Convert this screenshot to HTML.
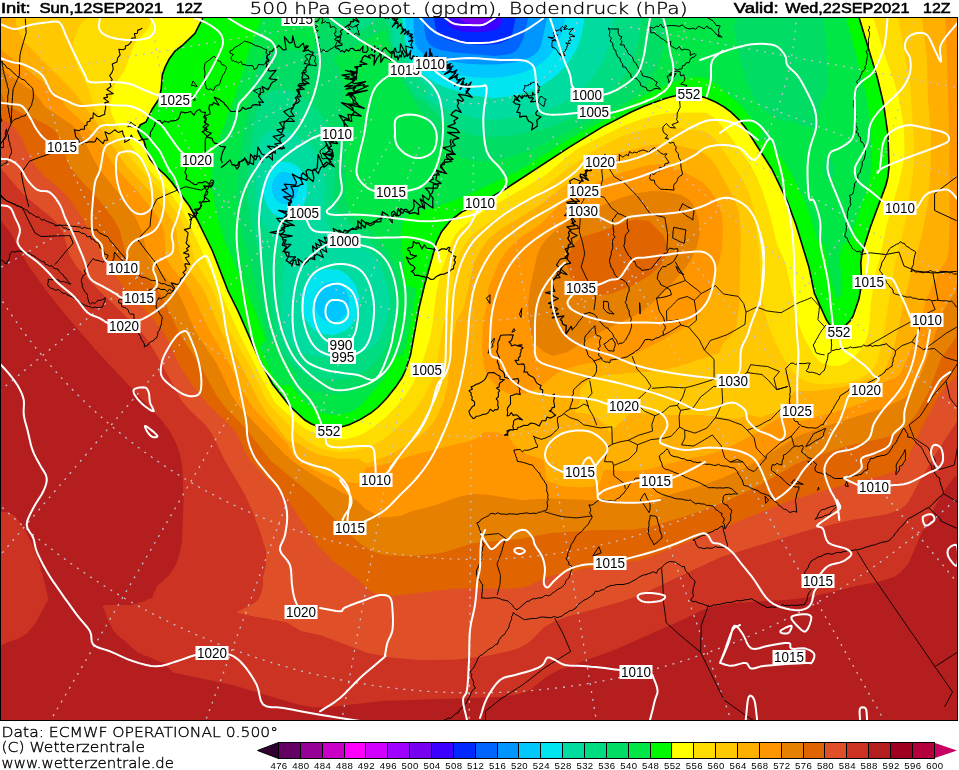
<!DOCTYPE html>
<html><head><meta charset="utf-8"><title>Wetterzentrale ECMWF 500 hPa</title>
<style>
html,body{margin:0;padding:0;background:#fff;}
body{width:959px;height:770px;overflow:hidden;}
svg{display:block;}
.hb{font-family:"Liberation Sans",Arial,sans-serif;font-weight:normal;font-size:14px;stroke:#000;stroke-width:0.55px;}
.ht{font-family:"DejaVu Sans",sans-serif;font-weight:200;font-size:16px;}
.ft{font-family:"DejaVu Sans",sans-serif;font-weight:200;font-size:14.5px;stroke:#000;stroke-width:0.35px;}
.ht{stroke:#000;stroke-width:0.3px;}
.lb{font-family:"Liberation Sans",Arial,sans-serif;font-size:12px;}
</style></head>
<body>
<svg width="959" height="770" viewBox="0 0 959 770" shape-rendering="geometricPrecision">
<rect width="959" height="770" fill="#fff"/>
<text class="hb" x="1" y="12.7" textLength="29.6" lengthAdjust="spacingAndGlyphs">Init:</text>
<text class="hb" x="39.4" y="12.7" textLength="123.6" lengthAdjust="spacingAndGlyphs">Sun,12SEP2021</text>
<text class="hb" x="176" y="12.7" textLength="26.5" lengthAdjust="spacingAndGlyphs">12Z</text>
<text class="ht" x="249.5" y="13.7" textLength="438" lengthAdjust="spacingAndGlyphs">500 hPa Geopot. (gpdm), Bodendruck (hPa)</text>
<text class="hb" x="733.7" y="12.7" textLength="44.9" lengthAdjust="spacingAndGlyphs">Valid:</text>
<text class="hb" x="785.3" y="12.7" textLength="124.1" lengthAdjust="spacingAndGlyphs">Wed,22SEP2021</text>
<text class="hb" x="923" y="12.7" textLength="27.5" lengthAdjust="spacingAndGlyphs">12Z</text>
<defs><clipPath id="mc"><rect x="1" y="18" width="956" height="702"/></clipPath></defs>
<g clip-path="url(#mc)">
<rect x="0" y="18" width="959" height="702" fill="#7800f0"/>
<path fill="#3c00ff" d="M1 18 459.5 18 461 20.3 465.1 23 475 24.4 484.9 23 489 20.3 490.5 18 959 18 959 720 0 720 0 18.0Z"/>
<path fill="#0028ff" d="M1 18 445.8 18 448.8 25 453.8 29 463 31.5 475 32.3 487 31.6 496.5 29 500.5 25 502.1 18 959 18 959 720 0 720 0 18.0Z"/>
<path fill="#0064ff" d="M1 18 434.1 18 435.1 26 436.9 32 440 35.8 443.5 38 451 40.9 462 43.4 485 45.1 499 43.7 508 39.7 511 36 512.7 32 515.4 18 959 18 959 720 0 720 0 18.0Z"/>
<path fill="#0096ff" d="M1 18 423.8 18 424.6 31 426.3 39 429.4 44 434 47.4 441 50.1 453 52.3 495 55.9 510 54 515 51.6 518.7 48 523.5 38 528.2 18 959 18 959 720 0 720 0 18.0Z"/>
<path fill="#00c8ff" d="M1 18 413.5 18 413.8 34 415.1 43 418 49.3 423 53.8 433 58 445 60.5 467 63.7 486 64.7 500 64.2 514 62.4 526 59.3 534.4 55 538.2 51 541 45.3 547.1 18 959 18 959 720 0 720 0 18.0Z"/>
<path fill="#00e6f0" d="M1 18 404.8 18 407.5 39 411 51.3 415 57.3 421 62.7 431 68.4 441 71.7 470 76.7 488 78.3 505 76.8 520 73.5 531 69.6 541 63.7 549.2 56 556.7 45 561.6 34 565.4 18 959 18 959 720 0 720 0 18.0ZM282.5 172 278 174.2 274 178.9 272 184.5 271.9 191 273.9 197 277 201.2 281.9 204 287 204.3 292 202 296 197.3 298 191.7 298.2 186 296.1 179 293 175 288 172.2 283 171.9ZM328.8 282 322.5 285 317.9 290 315 297.5 314.9 306 317.9 314 322.5 319 328.8 322 335 322 341.4 319 346 313.8 348.9 306 349 298.4 346 290.2 341.4 285 335 282 329 282.0Z"/>
<path fill="#00dca0" d="M1 18 402.4 18 405 38.8 407.5 49 407.9 57 414 65.7 422 73.7 436 83.4 448 88.3 474 95.8 493 98 510 96.4 528 91.7 542 85.4 557 75 568 63 576.7 49 581.3 36 584.2 18 959 18 959 720 0 720 0 18.0ZM280.5 162 273 166.1 266.7 174 263.4 185 263.7 196 267 206 273 213.5 281 217.7 290 217.6 298 213.1 303.4 206 306.8 196 306.9 184 303.6 174 298 166.7 290 162.2 281 161.8ZM325.5 269 320 270.5 315 273.3 306.6 282 301.6 294 300.8 301 301.3 308 305.4 320 313 329.1 318 332.4 324 334.6 335 334.8 345 330.7 349.6 327 353.7 322 356.5 317 358.7 310 359.3 297 355.5 285 348 275.5 342 271.4 337 269.5 326 268.9Z"/>
<path fill="#00dc82" d="M1 18 389.6 18 390.3 22 392.5 24 391.4 28 393.7 31 394.3 35 392 40 397 55.8 398 56.7 405.1 55 414 71.3 428 89 427 97 428 99.3 438.9 106 456 112.6 476 118.2 492 119.9 518 117.3 543 111.8 561.9 104 580.5 92 592 79.1 604.4 59 609.5 44 613.9 18 959 18 959 720 0 720 0 18.0ZM272 130 268 131.6 263.8 135 259 142.5 255.8 167 255.6 191 258 208.6 262 221.6 280 248.3 283 251 284.1 267 280.4 301 282 320.1 285 333.3 288 340.2 292.2 346 297.1 350 305.7 354 316 356.5 329 357.9 342 357.4 353 355.6 364.1 352 373.3 346 380 337.3 385 326 388.3 312 389.2 298 387 285.8 382 270.6 377 259.7 371 252.4 365 249 342 241.4 336 236.6 329.9 229 325.9 219 324.2 211 325 185 323 169.9 320 159.3 315 150.3 306 141.5 292 132.7 282 129.3 273 129.8ZM397 18 400.5 18 405 50.6 404 50.6 403 48.7 401 42.6 396.7 18.0Z"/>
<path fill="#00dc64" d="M1 18 352.8 18 349.6 30 351 31.8 356 33 364 29.1 379.2 18 383.8 18 384 19.5 387.1 20 385.2 23 389.8 25 388.7 29 390 31 389.7 34 390.9 36 390.1 39 390.6 42 399 67 407 83.3 413.3 93 419 99.7 424.3 101 440 117.3 449 124.3 457 129.2 473 135.3 491 137.1 517 134.8 547 127.9 562.5 122 579.5 114 590.7 108 601 101 610.2 93 618.5 84 624.9 75 630.5 65 638.2 44 641.3 18 959 18 959 720 0 720 0 18.0ZM278.2 89 269 92.2 264 95.4 260 100 258 105.2 254.3 120 251.3 139 248.4 164 247.5 184 248.2 203 250.5 220 256 243 265.2 275 275.8 334 280 346 286 356.7 293 364.5 303 372.7 313 377.1 324 379.4 335 379.8 347 378.2 360.4 374 370 368.1 380.5 357 387 345.3 392 331.6 395 314.9 395.5 301 393.8 284 388.3 267 381.3 254 373 244.7 342 216.2 337.9 211 335.5 206 333.8 197 335.1 168 334.1 154 330.1 133 324.8 120 315.9 108 302 95.7 290 90.3 279 88.8Z"/>
<path fill="#00e646" d="M1 18 322.4 18 313.5 49 312.2 51 285 49.6 274 50.4 268.7 52 264.1 55 259 61.5 255 74.3 241.3 144 238.2 172 238 201 239.2 218 241.5 232 250.4 263 264 322 270 341.4 274.3 343 284 359.6 295.8 374 294.9 382 296 384 304 388.2 316 391.9 334 394 350.8 392 362.7 387 377.8 376 387 364.8 390 358.8 388.3 352 391 346.4 396.4 322 398 306 397.9 291 401.7 287 397 269 386 248.6 375 234.7 352.7 215 349 209.8 346.6 204 345.3 193 346.2 129 345.3 105 341.7 74 340 69.2 333.4 59 337 56.1 385 29.2 386.6 32 388.5 43 392.4 57 401.2 79 415.4 104 436.6 135 448.1 148 454 153.4 459 156.2 470 160.3 487 161.6 507.6 158 531.4 150 618.4 107 634.2 97 641.1 91 649 82 658 65.9 662.7 52 667.2 18 738 18 735 22.3 733.6 27 740 57.9 747 82.6 752 94.2 756 100.9 764 110 776 119 781 120.4 792 121 803 126 811 127 812 128 817 128 820 134 820 131 818 127 818 114 819 113 821 102 826 92.6 827.1 86 827 57.5 823.5 18 959 18 959 720 0 720 0 18.0ZM821 135 821 136 821 135.0ZM822 138 822 139 822 138.0ZM827 155 827 158 824 162 824 173 827 180 829 181 831 180 833 176 834 166 832 163 832 161 827 155.0ZM809 112 810 113 809 114 808 113.0ZM804 114 805 114 804 115 803 114.0ZM807 113 808 114 807 115 806 114.0ZM816 114 817 115 816 116 815 115.0ZM814 115 815 116 814 117 813 116.0ZM796 119 797 120 796 121 795 120.0Z"/>
<path fill="#00fa00" d="M1 18 261.3 18 248.5 52 235 96.1 214.5 150 211.4 174 211.6 186 213.3 199 219.5 225 225.4 244 249 295.8 265 337.7 265.2 341 260.5 345 259.6 347 272 374.1 279.3 385 282 385.7 290 385 303 400.2 314 409.6 323 413.7 335 415.1 349 412.7 355 410 360.5 406 382.3 381 390.6 367 395 356.5 403.4 355 404 354 403.4 352 406 349.4 416.4 290 414.4 288 406.3 285 404.9 283 400.8 236 403 222.3 405 218 415.8 212 435 207.4 468 194.9 511 174.6 526 166.5 562.2 143 607 118.6 651 92.2 671 83 687 78.2 696 76.9 704 77.7 713 81.9 722 88.4 741 105.9 760.3 129 762 132 759.2 138 760 140.9 768 140.3 779.4 155 791.3 174 801 193.8 809.6 214 817 238.9 825 246 825 250 826 251 826 255 827 256 827 262 828 263 828 269 829 270 829 275 830 276 831 283 832 284 835 295 838 300 841 295 841 291 842 290 842 277 841 276 841 269 840 268 840 254 841 253 841 248 842 246 849 240.4 851 236.3 868.6 184 870.9 173 871.9 160 871.1 131 867 99.4 862 76.2 846.2 18 959 18 959 720 0 720 0 18.0Z"/>
<path fill="#ffff00" d="M1 18 202.8 18 195 33.3 183 44.8 175 51 169.2 59 162.3 75 161.2 89 159 98.9 152.3 109 146 122 140 125 138 128 138 131 144 141 146.3 150 150 159.1 156 166.5 171.5 182 189.4 206 197.3 220 212.5 251 228 291 238.4 312 258.5 358 272.4 384 289.7 406 304.8 420 316.8 426 331 427.5 341 426.9 349 424.8 360 419.6 371 412.9 378.3 407 386.9 398 402 377.5 406 369 410.5 355 419 308.2 436.2 243 441.4 232 451 220 461.6 212 486.5 200 505.4 189 569 147.4 602 127.1 644.6 106 665 98.4 680 94.5 687 94 698 95.6 707 98.3 717 102.7 732 113 746 128.4 772.9 171 788 203 796 224.7 809 267.5 814.3 293 825.4 318 829 324 833 326.9 839 328.2 844 326.3 848.1 323 852 318 857.8 303 861.7 285 860.8 263 862 253.5 870.4 227 886 184.9 889 168 888 135 883.6 104 877.4 78 859.2 18 959 18 959 720 0 720 0 18.0Z"/>
<path fill="#ffdc00" d="M1 18 152.6 18 148 29 134.3 44 125 69.7 114 86.1 110.3 105 110.9 111 112.9 117 117 124.7 142.3 161 151 171.7 170 192.2 182.6 211 194.7 235 240.4 336 266 386.3 275.6 403 296 421.7 305 428.5 323 437.4 337 440 347 439 357 436.2 366 431.9 375 426 386 416.9 396.7 406 405.7 395 412.9 384 420.8 367 430 338 432.4 325 435.9 295 440.7 273 452.3 240 455.1 235 460.1 229 479.7 214 546 174.7 571 153.5 580.5 147 622 126.3 643 118.5 661 113.9 676 112.7 702 112.6 708 113.5 716 118.9 730.7 137 750 164 756.8 177 762.5 191 770.4 216 777 244.4 783.4 258 786 265.9 794 301 796.7 319 804 338 814 355.2 818 359.9 822.2 363 829 365.5 836 366.1 842 365 847.8 362 854.9 356 861 349 865 342.5 867.7 335 869.4 324 871.1 301 876 270.5 879.9 258 885.9 228 898.8 183 903 164.4 904.6 152 903.9 128 899 99.1 894.3 82 883 50.3 873.5 18 959 18 959 720 0 720 0 18.0Z"/>
<path fill="#ffc800" d="M1 18 86.4 18 80.1 25 75.2 35 73 43.8 73 54 74.1 59 89.9 92 94 106.9 99 115 133.1 161 164 195.1 180 217.4 186.9 232 195 260 212.3 289 229 330.8 250 365.7 265.8 399 275 411 299 434.9 306.9 441 315.4 446 322.8 449 332 451.1 343 452 351 451.5 362 449.3 374 444.5 383 439.4 396 429.3 408.2 418 415.9 409 423.3 398 431.2 382 435.9 367 443.1 325 449.8 306 454.5 272 457 261 463 247.1 471.1 236 479.4 229 493 220 537 194 566 169.5 593.3 151 609.5 142 622.7 136 637.6 131 651 128.1 661 127.1 671 127.5 702 130.8 707 132.4 713 136.9 719 143.9 742 178.6 749.9 195 754.2 212 758.7 247 761.3 294 766 317.5 770.3 331 777.4 347 784.7 360 794 373.3 801.4 379 808.3 382 815 383.4 829 384.2 850.3 382 858.9 379 869.1 373 873 368.9 877 361.4 882 343.6 895 263.5 904.8 225 911.4 184 913.7 164 914.1 144 910.3 86 898.1 18 959 18 959 720 0 720 0 18.0Z"/>
<path fill="#ffaf00" d="M1 18 15.5 18 16.2 25 18 30.8 24.5 42 74.9 93 101 128.9 126.2 166 153.1 195 168.7 215 173 222.2 176.2 230 179.8 253 182.5 261 204 290.5 221.4 332 241 365.3 258.9 401 266.5 413 285 436.9 289 441.1 298 443 309 450.2 319 454.7 338 458.5 359 458.8 364.5 463 367 463.6 389.6 455 413.6 441 427.8 429 433.5 422 438.4 414 443.7 401 447.6 385 451 346.7 456 321.6 463.5 309 474 262.9 481 249.2 488.5 239 499.3 230 538 206.5 582.9 171 599 160 613.5 154 651 145.1 663 144.1 676 145.2 696.6 150 704 153.3 710 158.4 717 167.5 734 198 739 212.4 740.8 233 739.3 306 736.6 325 732.5 334 722.7 344 719 352.8 717 354 715 354 708 357 705 357 702 359 700 359 687 364 684 364 677 367 670 368 669 369 659 370 658 371 651 371 650 372 638 372 637 373 625 373 624 374 604 375 603 376 595 377 589 380 583 385 580 390 580 401 575 411 575 413 585 413 586 414 589 414 594 417 596 417 606 426 609 431 609 433 631 413 642 413 643 414 654 414 655 415 704 415 705 416 715 416 716 417 723 417 724 418 731 418 732 419 740 418 741 417 744 417 749 415 761 417.2 783 409.5 793 393.3 795 391.8 799 390.9 814 390.9 839 387.8 855 384.3 871 378.5 877 379.2 879 378.6 887.5 365 894.6 345 906 292.5 922.4 233 928.6 200 930.6 164 931 134 928.1 100 926.9 57 922.1 18 959 18 959 720 0 720 0 18.0Z"/>
<path fill="#ff9600" d="M946 18 959 18 959 720 0 720 0 49.1 47 85.3 59 97 67.3 108 85.6 125 94 135.5 114.8 167 139 193 154 211.4 160 220.6 163 227.3 164.3 234 165.2 253 167.1 260 172 268 185.8 284 190.6 291 209.4 330 229.9 365 245.5 397 255 410 288.4 445 289 449.6 291 450.5 292.4 454 300.7 461 314 469.7 326 475.6 346 481.8 357 483.5 359 481.7 366 467.7 383 464.7 417.1 454 471 440.7 477.6 438 484 432.2 494 432 495 433 500 433 501 434 507 434 513.6 444 521 451 528 454.5 543 459.6 544.3 463 546.4 479 548 481.6 562 486.3 581 487.5 592 486.6 599 484.7 603 472.3 605 469.6 627 471.3 646 469.9 681 460.6 706.7 455 720 450.9 734 444.8 753 434.6 785 413.8 787 413.8 794 420.9 797 421.9 837 411.4 862 403.2 881 395.4 882 393.4 883 382.4 896 377.4 900.2 374 907.6 358 915.6 337 926.8 298 940 270 946.4 260 948.5 252 949.5 232 949.4 149 947.3 63 945.1 18.0ZM649 164.9 659 164.2 669.1 166 681 170.5 695 177.7 703 183.1 709 189 715 197.5 719.1 206 721.8 215 723 225 722 249 720 257.9 712.3 279 707 300.4 704 308 697 317.1 681.2 329 662.7 340 637.1 353 621.1 359 582 364.3 568.9 368 556 374 541 386.5 526 393.5 512 394 512 395 498 388 487 375.8 484 367 481.9 348 482.8 325 486.9 303 488.3 288 498.1 264 505.7 252 515 242 521.1 237 540 224.8 560 204.5 569.9 197 587.8 187 609.5 177 623.6 172 648.7 165.0Z"/>
<path fill="#e68000" d="M0.8 68 11 76.3 32.3 91 37 95.5 45.1 107 72.1 125 81 134.7 98.4 168 120.8 196 135.2 217 141.8 231 146.1 250 149.6 259 154.4 266 171.2 283 177 290.5 182 300.2 195 331 217.1 364 231.4 395 240.4 408 285 454.4 297 464.6 323 481.4 357 500.8 365 508.4 372 512.8 380 516.7 384 517.3 400 516 411 511.6 436 504.9 460 496.6 474 494 488 494.8 521 499.9 551 498.5 606 500.4 633 502.3 653 499.6 699.9 486 720 478.9 740 470.2 759 460.4 798 436 819.4 428 885 407.7 904 398.3 911.4 391 920 375.9 926 360.8 942.7 312 947 304.2 956 291.4 956.8 278 959 109.2 959 720 0 720 0 67.6ZM652 190.9 666 191.6 681 195 689 199.5 694 206 698.8 220 699.7 234 697 246.4 690.4 261 682.5 272 666.7 289 653 302.6 643 310.8 635 315.5 602.1 331 567 352.2 553 356 544 351.9 535 344.2 531.4 334 528.5 318 528.2 302 530.5 285 537.1 256 540.9 246 547.2 238 557.2 229 569 220.6 578 215.5 621 197.7 637 193.3 651.1 191.0Z"/>
<path fill="#e06400" d="M0.8 92 5 102.3 10 107.5 47.2 125 54 130 57.5 134 61.2 141 66.8 160 70.1 167 77.9 177 96 196.2 114 219.5 119.9 231 124.8 250 129.1 260 133.7 266 152.6 284 158.3 291 165 302.8 178.7 332 200 365.2 216.2 395 224.1 406 247 430 270.1 460 309.6 493 344 529.1 359 542.4 366.6 548 374 551.9 385 554.9 407 556.2 435 554 445.3 552 474 543 519 539.2 551 533 599 530.1 632 529.8 648 527.5 694 513.5 726 501.4 760 485.1 793 465.6 810.3 458 850 445.2 885 437.7 895.4 434 900.9 431 907 426.1 918 411.8 928 393.1 940.9 359 956 337 957.9 314 959 274.8 959 720 0 720 0 91.0ZM632 219.9 636 219.3 649 221 663 235 667 246 667.5 252 661.2 265 650.1 275 633.8 285 610 294.2 597 295 570 277 570 274 566.9 265 568.7 254 575 243.1 581.7 237 604 230.2 631.6 220.0Z"/>
<path fill="#e05028" d="M0.5 119 10 124 16.5 130 21.2 138 31.7 160 36.2 167 45 176.5 63 192.1 72 202.4 85.3 223 102.6 256 114.6 275 126.1 290 152 317.8 163 331.3 169 342 178.1 363 191.6 384 206.7 403 234.4 430 239 437.6 245.5 453 249.9 460 287.6 500 317.6 545 333 560.9 357.9 579 367 588.8 373 592.8 381 595.7 388 596.2 398 595.4 455 588.4 508 588.7 520 587.9 529 585.8 544.5 578 557 574.3 600 566.1 639 560.2 660 553.1 793 499.4 850 483 884 475.2 892.6 472 901 466.6 907 459.7 920 430.9 937 398.8 944 388.6 956 376.8 957.4 370 959 349.9 959 720 0 720 0 118.8Z"/>
<path fill="#cc3322" d="M0.4 168 24.9 196 49.6 216 56.9 223 63 232.4 69.5 255 76 266 99.5 291 134 324.2 146 338.1 156 353.6 181.1 400 187.7 408 206 425.8 212 433.7 224.6 460 244 492.9 252 510.2 261 534.3 266 551.3 266.2 560 265.6 567 263.1 577 263 587 262 588 262 591 259 599 253 604 237 612 238 613 244 614 245 615 249 615 250 616 254 616 255 617 260 617 261 618 266 618 267 619 271 619 272 620 277 620 278 621 286 622 300.8 631 320 635.1 368 653 391 657.5 419 659.9 454 659.7 481.2 657 510 651.1 519 648 526.7 644 532 639.7 544 627.2 554 621.4 566 617.1 619 602.3 639 595.5 720.9 557 808.8 530 851 520.1 886 514.6 899 510.1 904.9 506 909 501 920 480.1 940 447.1 956 422.9 959 415.7 959 720 0 720 0 167.7Z"/>
<path fill="#b41e1e" d="M1 220.8 11 233.6 28.6 266 46.5 291 67.3 317 96.6 351 162 420.7 170 431.6 177 445.3 180 454.5 182.3 467 183.5 501 181.9 542 180 552.6 176 564.7 169.3 575 157.2 586 153.3 594 153 597 150 599 148 599 143 602 141 602 137 604 133 604 132 605 105 605 104 606 102 606 105 611 107 618 113 630 118 636 125 641 138 653 140 653 145 656 147 656 160 662 165 663 166.3 666 173 672.5 232.5 685 295 703.7 313 707.6 330 707 382.1 701 500 696.9 519 694.3 531 689.5 546 677.1 558.8 670 613 650.4 685 618.7 700.4 611 711.3 607 734.9 603 788 599.8 809 597.3 856.8 586 880 581.4 895 576.4 901 572.1 908.7 563 920 536.6 937 503 946 488 956 475 959 506 959 720 0 720 0 646 8 642 18 639 28 633 28 632 35 624 48 600 47 592 46 591 45 583 44 582 43 575 41 571 40 564 39 563 37 555 35 552 35 550 25 530 15 516 7 512 0 512 0 220.3Z"/>
<path d="M202.8 18.0 195.0 33.3 183.0 44.8 175.0 51.0 169.2 59.0 165.0 67.4 162.3 75.0 161.2 89.0 159.0 98.9 152.3 109.0 146.0 122.0 140.0 125.0 140.0 126.0 138.0 128.0 138.0 131.0 141.0 137.0 144.0 141.0 146.3 150.0 150.0 159.1 156.0 166.5 166.0 175.7 171.5 182.0 189.4 206.0 197.3 220.0 212.5 251.0 228.0 291.0 238.4 312.0 258.5 358.0 272.4 384.0 289.7 406.0 304.8 420.0 311.5 424.0 316.8 426.0 331.0 427.5 341.0 426.9 349.0 424.8 360.0 419.6 371.0 412.9 378.3 407.0 386.9 398.0 396.0 386.6 402.0 377.5 406.0 369.0 410.5 355.0 419.0 308.2 424.3 286.0 436.2 243.0 441.4 232.0 451.0 220.0 461.6 212.0 486.5 200.0 505.4 189.0 569.0 147.4 602.0 127.1 631.2 112.0 644.6 106.0 665.0 98.4 680.0 94.5 687.0 94.0 698.0 95.6 707.0 98.3 716.0 102.2 724.0 106.8 731.0 112.1 738.2 119.0 745.0 127.0 772.0 169.5 787.0 200.7 796.0 224.7 809.0 267.5 814.3 293.0 826.5 320.0 830.0 325.1 835.0 327.7 840.0 328.1 846.0 324.9 850.0 320.9 853.1 316.0 858.9 299.0 861.7 284.0 860.8 263.0 862.0 253.5 870.4 227.0 886.0 184.9 887.9 177.0 889.0 167.0 888.0 135.0 883.4 103.0 877.4 78.0 859.2 18.0" fill="none" stroke="#000" stroke-width="1.6"/>
<g fill="none" stroke="#c4c0cc" stroke-width="1.3" stroke-dasharray="2 6"><circle cx="474.6" cy="-1.5" r="694.4"/><circle cx="474.6" cy="-1.5" r="560.9"/><circle cx="474.6" cy="-1.5" r="437.8"/><circle cx="474.6" cy="-1.5" r="322.3"/><circle cx="474.6" cy="-1.5" r="212.1"/><circle cx="474.6" cy="-1.5" r="105.2"/><path d="M448.3 -157.6L241.8 -1382.0M421.6 -150.7L5.7 -1320.6M396.5 -139.2L-216.3 -1219.2M373.7 -123.6L-417.2 -1080.7M354.1 -104.2L-591.1 -909.4M338.1 -81.7L-732.5 -710.6M326.2 -56.8L-837.3 -490.2M318.9 -30.2L-902.3 -254.9M316.3 -2.7L-925.4 -12.0M318.5 24.8L-905.9 231.3M325.4 51.5L-844.5 467.4M336.9 76.6L-743.1 689.4M352.5 99.4L-604.6 890.3M371.9 119.0L-433.3 1064.2M394.4 135.0L-234.5 1205.6M419.3 146.9L-14.1 1310.4M445.9 154.2L221.2 1375.4M473.4 156.8L464.1 1398.5M500.9 154.6L707.4 1379.0M527.6 147.7L943.5 1317.6M552.7 136.2L1165.5 1216.2M575.5 120.6L1366.4 1077.7M595.1 101.2L1540.3 906.4M611.1 78.7L1681.7 707.6M623.0 53.8L1786.5 487.2M630.3 27.2L1851.5 251.9M632.9 -0.3L1874.6 9.0M630.7 -27.8L1855.1 -234.3M623.8 -54.5L1793.7 -470.4M612.3 -79.6L1692.3 -692.4M596.7 -102.4L1553.8 -893.3M577.3 -122.0L1382.5 -1067.2M554.8 -138.0L1183.7 -1208.6M529.9 -149.9L963.3 -1313.4M503.3 -157.2L728.0 -1378.4M475.8 -159.8L485.1 -1401.5"/></g>
<path d="M291.6 266.6 293.6 260.7 295.7 259.8 296.3 264.5 299.4 265.2 297.8 258.7 303.0 262.7 305.5 262.4 305.3 259.2 307.9 257.7 314.9 259.6 314.2 255.5 313.2 250.8 312.6 246.0 318.0 250.6 315.6 243.2 319.7 245.7 321.7 245.1 318.6 239.7 327.3 244.1 324.2 237.2 330.5 239.3 332.7 237.8 334.1 236.4 335.1 234.3 333.2 228.5 339.5 231.9 342.1 234.7 344.5 230.1 347.5 231.3 350.2 229.8 352.8 228.1 355.6 229.7 358.2 228.5 357.7 220.8 364.9 227.8 366.1 222.3 370.7 223.7 373.6 221.8 376.4 220.5 378.9 218.8 382.0 218.3 382.4 211.9 387.2 214.7 390.0 218.7 392.2 217.6 394.0 213.9 396.7 215.9 398.2 208.7 400.7 212.6 402.9 213.0 404.7 209.4 406.8 209.4 409.6 213.7 411.9 213.0 414.7 212.7 418.7 214.4 418.3 208.1 420.5 206.8 423.3 206.4 420.1 199.1 432.9 208.0 432.7 200.9 433.1 198.2 430.2 194.8 432.4 192.6 433.1 190.0 433.2 187.2 433.4 184.5 441.0 183.4 435.7 179.8 436.5 177.0 436.9 174.1 438.2 171.6 445.2 172.9 440.7 165.3 443.5 162.5 451.7 161.4 446.4 156.9 446.9 154.3 453.7 153.5 451.8 150.1 450.9 147.0 455.1 145.4 452.4 141.9 453.7 139.5 458.9 138.1 447.5 132.3 459.4 132.7 456.2 128.8 447.8 126.5 455.2 123.4 453.9 120.7 457.8 118.2 451.1 115.1 452.6 112.5 455.9 110.1 461.2 112.4 457.4 106.6 457.7 104.5 458.7 103.0 457.3 99.7 462.3 101.4 463.5 100.0 458.4 94.2 462.2 94.8 466.1 95.4 472.3 97.4 466.0 91.2 468.2 90.7 466.9 87.9 469.8 88.3 466.0 93.5 471.1 82.2 468.5 85.2 467.2 85.8 465.6 86.9 466.6 83.6 464.7 85.2 463.8 85.0 460.0 89.4 463.7 82.1 460.9 84.8 464.4 78.3 463.5 78.3 462.5 78.3 454.7 85.7 460.3 79.1 458.3 79.8 456.8 79.9 456.9 78.6 457.2 77.2 455.0 77.9 458.0 74.4 451.8 78.1 447.5 80.3 455.7 73.0 454.1 73.1 456.9 70.1 451.7 72.7 451.8 71.6 450.3 71.6 444.5 74.3 451.4 68.9 449.5 69.0 453.0 66.0 443.0 70.9 450.2 65.8 445.6 67.4 451.0 63.5 445.6 65.5 440.7 66.9 440.6 66.0 446.9 62.1 439.1 64.7 446.8 60.4 444.9 60.9 444.8 59.8 444.6 58.9 443.3 60.1 444.1 57.3 442.9 58.3 442.4 58.1 441.8 57.9 441.3 57.6 437.9 62.2 440.2 58.4 439.3 57.8 439.6 64.6 437.4 56.5 436.7 57.1 436.1 58.6 435.1 56.9 434.6 60.2 433.8 60.2 432.9 60.0 431.6 53.4 431.0 55.6 429.9 48.7 429.5 58.8 428.6 56.9 427.8 59.6 426.8 66.1 426.2 52.2 425.3 56.8 424.5 55.0 423.3 61.3 422.6 58.7 421.5 60.9 420.7 59.7 420.1 57.3 418.6 62.9 418.1 59.0 417.5 57.0 416.6 56.6 415.0 61.2 414.3 59.5 414.0 56.0 413.2 55.9 411.4 59.7 410.8 58.1 409.8 58.1 410.8 50.3 408.8 54.7 407.4 56.4 407.0 54.2 405.8 55.9 404.4 57.0 402.0 50.8 401.2 57.0 399.7 55.2 397.9 60.1 397.2 56.0 395.7 57.4 394.6 56.6 394.1 51.9 391.8 53.6 390.8 60.3 387.2 57.9 384.1 57.1 380.7 62.3 381.2 51.6 378.9 56.1 377.1 57.9 373.9 65.1 374.7 55.1 373.0 56.1 371.9 54.4 370.2 55.0 368.5 55.5 370.2 58.2 364.7 55.7 362.6 57.5 361.7 60.6 360.1 61.7 366.9 64.1 359.8 64.6 361.4 66.2 354.8 66.9 357.0 68.7 357.6 68.5 355.2 73.3 345.5 70.4 356.0 72.7 354.2 74.1 351.2 75.5 356.7 77.2 350.8 78.6 356.7 78.8 353.7 81.0 349.8 83.5 344.8 86.5 352.7 85.5 345.9 89.2 355.6 87.5 352.9 89.9 354.5 90.8 355.4 91.9 353.6 94.1 350.2 96.9 351.6 94.4 355.3 98.2 354.8 100.7 357.8 104.2 347.7 104.1 352.7 108.0 353.9 112.8 351.2 115.8 351.7 121.4 344.9 119.5 343.6 121.9 344.6 126.2 343.2 128.5 338.4 128.3 339.5 132.5 333.5 131.4 341.2 139.1 333.5 138.3 337.6 143.6 329.2 142.5 331.4 145.7 328.3 148.7 332.2 149.8 332.5 151.9 330.3 154.9 332.7 156.2 331.5 158.7 329.0 160.3 334.3 166.8 326.3 162.1 323.6 165.5 320.7 167.7 318.3 173.6 314.3 168.9 312.2 170.7 307.8 169.3 306.0 171.5 307.7 177.5 306.7 180.4 299.9 177.6 303.0 184.3 301.2 184.2 298.3 186.2 291.0 186.6 293.0 190.5 293.4 193.9 292.9 196.9 290.5 199.2 291.5 201.7 288.5 202.8 288.7 205.0 288.7 207.1 290.1 209.7 288.2 211.2 284.9 212.3 286.0 214.7 287.4 217.2 283.3 218.2 276.9 218.4 279.4 221.4 288.9 226.1 284.0 226.9 281.7 228.4 284.6 230.9 282.9 233.1 280.0 235.2 283.0 237.7 282.7 239.9 286.1 240.0 284.2 244.2 290.9 244.3 284.0 251.1 285.7 253.6 287.3 256.6 295.5 257.0 289.2 263.1 292.0 264.2 291.6 266.5M572.6 330.2 571.1 326.4 565.8 334.4 566.2 325.4 564.5 325.2 562.5 323.7 562.1 321.3 560.3 319.6 563.9 315.9 552.4 317.9 558.6 313.4 552.2 313.5 557.8 309.3 556.0 307.8 550.4 307.5 552.7 304.3 548.5 303.4 558.3 298.5 554.0 296.5 551.3 294.2 545.5 292.6 554.8 291.1 551.8 285.2 552.1 281.0 555.2 278.2 556.8 275.4 559.9 273.7 560.5 270.2 561.8 267.5 564.4 264.6 570.6 263.1 565.1 256.9 568.5 254.2 567.4 251.8 565.2 249.1 568.6 247.6 568.2 245.3 571.0 243.6 569.6 241.4 567.7 238.4 569.4 235.4 568.5 232.5 570.5 229.5 567.0 226.9 574.6 225.7 573.4 223.5 572.6 221.2 571.2 219.0 576.9 214.8 567.8 216.5 570.0 213.1 570.4 210.6 568.3 208.8 569.2 206.3 568.5 203.1 577.0 203.4 570.8 198.3 573.8 196.5 572.6 193.3 575.8 191.5 576.6 189.4 577.1 187.0 579.8 185.7 579.2 182.9 580.8 181.7 582.2 180.3 580.0 176.0 588.5 180.3 583.2 174.5 586.2 173.4 585.3 170.6 591.4 170.6 590.4 167.9 590.0 165.4 590.9 164.9 591.4 161.3 593.9 162.7 595.3 161.3 597.2 161.0 598.6 159.9 600.9 161.3 603.1 159.8 604.9 154.5 607.5 159.0 609.8 158.9 613.9 156.1 613.9 161.2M357.5 67.2 355.9 79.7 350.6 70.8 357.2 72.8 351.3 73.9 342.1 75.1 349.4 77.0 345.1 78.5 353.2 79.7 352.2 81.4 352.7 82.7 354.5 83.6 365.6 81.6 353.5 86.7 364.1 84.7 363.5 86.3 368.1 86.0 346.1 95.3 356.2 93.1 367.3 90.4 347.8 93.1 351.2 96.9 353.3 100.3 353.3 102.9 364.2 108.4 341.5 102.6 361.1 116.1 347.9 114.3 349.3 119.5 339.3 115.2 344.1 122.4 351.2 131.2 344.3 129.3 340.5 129.9 338.2 131.6 335.7 133.1 334.7 135.8 323.0 132.9 333.8 141.7 324.6 140.3 328.1 146.6 329.9 148.3 329.3 150.7 324.0 154.5 333.1 154.0 333.3 156.6 322.8 153.2 330.9 161.5 328.8 163.4 326.9 164.9 324.0 167.2 318.1 154.6 317.2 167.7 315.1 170.0 312.4 171.0 313.9 177.9 313.0 181.5 303.0 173.0 301.3 175.2 301.8 179.4 292.3 174.1 296.4 182.3 295.5 185.1 284.4 184.2 287.3 188.5 282.0 189.8 291.3 196.3 283.6 196.9 291.7 201.8 290.4 203.4 289.2 205.2 293.1 208.5 287.6 208.9 290.2 211.8 278.6 210.4 291.8 216.5 284.8 216.5 292.1 220.7 284.0 220.5 294.4 225.5 284.0 224.7 284.5 227.0 284.6 228.7 280.5 230.6 270.1 232.3 292.1 236.0 282.0 237.6 283.6 240.0 283.8 241.0 282.3 245.1 286.5 246.4 283.1 251.6 289.0 252.4 288.9 256.0 286.2 260.6 290.1 262.7" fill="none" stroke="#000" stroke-width="1.3" stroke-linejoin="round"/><path d="M332.8 159.2 331.5 157.5 331.3 155.4 333.2 152.4 329.9 151.7 328.9 149.9 327.9 148.2 326.1 144.7 324.7 147.4 322.5 148.8 320.3 150.4 320.0 152.8 321.4 154.6 321.3 157.0 322.8 159.0 325.4 158.3 327.9 158.9 330.3 159.0 332.8 159.1M527.5 95.9 526.6 93.0 523.3 90.6 524.9 87.2 524.8 85.2 526.3 86.1 526.9 85.4 528.2 85.8 528.5 84.6 529.6 84.6 530.5 84.4 530.6 82.9 531.9 83.2 532.4 82.7 535.7 81.8 537.3 83.5 538.3 86.3 540.1 87.0 539.2 87.6 538.8 88.6 539.5 90.4 537.8 90.4 538.8 92.5 536.9 92.3 536.9 93.6 536.2 94.4 534.6 94.4 534.1 95.4 532.7 92.2 532.0 96.4 530.9 95.6 529.8 95.7 528.8 96.5 527.6 94.5 526.6 96.0M538.4 101.8 539.0 100.7 538.8 99.2 540.0 98.2 539.7 96.9 542.2 96.6 543.6 98.4 546.3 99.5 544.9 100.8 544.8 102.3 544.7 103.9 544.0 105.3 544.0 106.6 540.8 104.3 538.0 101.7M562.2 56.7 560.0 54.9 558.3 52.7 556.9 50.2 555.0 48.2 552.0 47.2 551.9 43.8 551.9 43.0 552.1 42.2 552.7 41.5 551.9 40.5 556.7 40.8 555.3 39.7 547.9 37.2 553.1 37.6 554.0 36.9 555.0 36.3 553.7 35.3 557.6 35.1 554.6 33.8 553.0 32.8 554.4 32.2 554.5 31.8 554.3 28.9 556.7 31.5 557.1 30.0 558.6 30.6 559.1 29.3 561.7 31.8 560.7 28.0 561.5 27.2 562.3 26.4 565.0 28.6 564.9 26.4 565.4 25.3 566.8 26.0 563.8 29.6 567.8 28.6 568.7 29.6 573.4 28.3 569.9 32.1 569.1 34.1 571.6 34.6 575.0 36.5 571.1 36.3 570.3 37.0 569.4 37.7 570.2 38.9 571.1 40.2 569.2 40.5 568.3 41.1 568.9 42.3 570.1 43.7 565.7 43.0 567.8 44.8 568.1 45.9 566.6 46.3 566.9 47.4 566.6 48.3 566.5 49.2 565.1 49.6 565.6 50.8 564.7 51.5 563.6 51.9 563.6 52.9 564.3 54.3 565.1 55.8 559.0 53.6 562.4 56.5M660.5 89.2 657.2 88.4 654.0 88.8 650.9 90.9 647.3 90.6 646.3 87.6 643.2 86.7 640.6 85.4 640.0 82.0 637.9 80.2 636.1 78.0 632.8 78.1 631.0 76.9 630.7 74.2 629.2 72.7 627.9 71.0 626.6 69.3 625.7 67.2 622.6 66.8 622.7 64.1 621.3 62.3 620.3 60.3 619.8 58.0 617.6 56.7 616.8 54.5 616.0 52.8 616.0 50.7 614.1 49.6 613.6 47.8 612.9 46.1 612.9 44.0 612.0 42.4 610.2 41.2 610.7 39.7 611.4 38.3 610.4 37.1 609.2 35.9 609.4 34.5 609.7 33.1 609.9 31.7 609.4 30.5 608.8 29.3 608.4 28.1 610.3 29.2 612.6 28.9 614.7 29.1 618.5 28.9 618.1 31.0 618.1 32.9 618.7 34.4 619.4 36.0 622.0 36.7 620.5 39.2 621.4 40.6 622.0 42.2 620.1 44.8 624.1 45.0 624.7 47.4 626.2 49.1 627.3 51.1 628.0 53.4 630.0 54.9 631.9 56.5 633.0 58.5 633.6 61.4 635.9 63.2 637.2 65.7 638.5 68.1 640.1 70.4 641.7 72.7 642.8 75.9 645.4 76.6 648.2 77.1 650.7 78.0 653.1 79.2 655.1 81.2 657.3 82.0 655.5 85.3 658.3 87.0 660.5 88.9M676.3 73.4 673.3 74.3 670.4 75.6 667.1 76.2 668.0 78.3 668.7 80.6 668.9 82.6 670.1 81.0 671.5 79.7 672.9 78.4 674.0 76.8 675.1 75.1 676.4 73.7M614.1 161.6 615.6 160.1 619.1 163.0 619.4 159.0 619.2 154.4 622.8 157.1 624.5 156.1 626.0 154.6 628.4 155.6 629.5 151.5 632.3 153.3 634.3 152.1 636.8 152.7 638.7 151.3 640.9 150.7 642.9 149.9 645.7 150.7 648.7 152.3 651.2 149.8 654.5 147.6 656.6 149.4 658.8 151.1 660.8 153.0 663.3 154.3 666.9 153.8 664.9 156.4 667.3 159.7 669.1 162.8 664.9 163.8 664.4 165.9 662.9 167.7 659.7 167.2 659.7 170.8 657.2 171.2 655.6 172.7 654.1 174.5 650.5 173.2 650.2 176.7 649.3 177.5 650.7 180.1 654.3 180.2 654.9 183.6 656.9 185.5 658.7 187.6 660.7 189.1 664.5 189.4 668.4 189.6 674.0 190.1 673.6 186.9 674.0 184.3 676.1 182.7 677.2 180.6 678.0 178.2 679.5 176.3 682.0 175.0 682.4 172.5 681.2 168.8 680.8 164.9 680.8 160.9 678.7 157.5 678.2 153.7 675.7 150.7 676.1 146.8 674.5 145.0 673.6 142.2 669.8 143.3 668.4 141.2 667.8 138.1 665.2 138.5 667.6 135.4 664.1 133.0 662.8 130.4 662.9 127.0 666.4 123.5 670.0 127.5 675.5 128.0 671.9 124.6 675.1 123.4 678.3 122.2 676.5 119.4 677.2 117.4 677.2 115.2 677.2 113.0 678.4 111.2 679.0 109.2 680.2 107.3 680.0 105.3 679.7 101.8 680.5 97.9 676.0 96.4 677.1 94.6 678.1 92.7 680.3 92.0 682.0 90.7 682.6 88.5 684.9 87.7 687.0 85.5 680.7 84.0 684.1 81.3 684.9 78.9 684.1 76.8 684.0 74.9 680.5 75.9 680.0 71.5 677.6 71.3 674.2 71.3 672.1 74.1 669.0 74.8 670.6 73.0 673.1 72.6 672.7 67.8 677.1 70.2 679.1 69.1 681.9 69.0 682.5 65.7 685.0 65.1 686.2 62.7 689.2 62.7 690.0 59.9 691.4 57.8 694.0 57.1 696.2 54.9 694.7 53.4 690.1 55.4 690.4 51.8 689.3 50.0 686.8 49.5 684.3 49.2 681.6 50.2 679.4 46.6 676.6 49.2 674.3 47.8 672.4 46.7 670.5 45.4 670.8 41.2 667.1 42.5 665.4 41.1 663.7 39.7 661.7 38.6 659.8 37.5 658.4 35.7 656.4 34.9 654.8 32.7 650.8 32.8 650.8 29.1 648.7 27.0 651.2 27.3 653.9 28.3 656.0 26.1 658.6 26.6 660.6 24.1 663.1 27.8 665.9 26.0 668.6 25.8 671.3 25.5 674.0 25.6 676.7 25.9 679.4 26.3 682.4 24.8 684.7 27.3 687.3 28.4 690.1 29.0 692.8 28.0 695.7 29.4 698.3 26.1 701.2 27.4 704.1 28.7 707.2 25.9 708.5 28.1 711.1 28.4 712.5 30.4 714.3 31.8 715.7 33.8 717.7 35.0 720.3 35.4 722.1 37.2 718.0 36.3 719.0 32.8 718.3 30.1 720.2 26.0 716.0 25.3 714.7 23.0 713.0 20.8 711.1 19.9 709.2 18.9 707.6 17.7 706.0 16.3 703.6 16.2 702.5 14.0 700.0 12.6 697.1 12.4 694.3 12.4 691.7 11.1 690.0 7.0 687.2 6.6 683.6 9.6 680.9 8.9 678.3 7.8 675.9 6.7 673.7 4.3 670.3 3.6 666.3 4.0 665.1 -0.1M572.8 328.9 575.6 326.4 577.6 323.3 579.8 320.3 582.3 317.6 584.1 314.0 587.1 313.2 589.0 312.5 591.4 313.1 593.6 314.0 595.5 315.4 597.2 317.9 598.8 320.4 601.1 322.4 602.8 324.9 604.5 326.2 606.0 327.7 608.2 328.4 609.2 330.4 610.9 331.7 612.3 333.3 613.2 335.2 613.9 337.3 615.5 338.7 616.7 340.5 617.3 342.6 618.4 344.4 620.1 343.2 622.6 343.1 624.1 341.4 625.6 340.0 626.6 338.1 627.5 336.2 628.7 334.5 629.6 332.6 630.3 330.6 630.9 328.7 631.6 326.7 631.5 324.6 631.2 322.6 630.8 320.6 631.5 318.4 629.9 316.0 629.2 313.2 628.9 310.2 627.2 307.8 626.9 304.9 625.1 302.4 626.4 300.3 626.6 297.8 627.2 295.6 627.7 293.3 629.0 291.2 629.1 289.0 628.9 286.6 627.2 284.9 626.4 282.8 625.0 281.4 622.7 279.7 620.0 278.8 617.6 277.4 615.6 275.8 614.4 273.7 613.6 271.4 612.7 269.1 611.0 267.2 610.6 264.8 609.7 262.6 609.5 260.4 610.0 258.4 610.6 256.3 611.4 254.3 611.1 252.2 611.9 250.2 612.8 248.2 612.8 246.1 612.6 243.8 612.5 241.4 612.9 239.2 615.1 237.1 613.2 234.6 613.9 232.3 613.5 230.1 613.1 227.9 613.2 225.7 612.7 223.5 612.7 221.3 612.5 219.3 614.6 217.4 616.0 214.9 617.6 213.5 620.1 214.1 622.5 215.1 624.7 216.4 626.7 217.3 627.4 219.5 627.1 221.7 627.2 224.0 627.5 226.2 627.5 228.4 629.2 231.1 625.8 234.4 624.9 238.1 624.9 242.1 623.8 245.8 624.8 248.4 625.9 250.9 627.5 253.3 628.6 255.8 630.9 257.6 631.6 260.6 634.8 261.7 635.7 264.3 636.7 266.4 638.4 267.5 640.4 268.3 641.6 270.4 644.7 270.0 647.9 269.6 650.3 268.9 652.8 267.1 654.3 264.5 656.2 262.3 658.1 260.0 660.0 257.8 661.7 255.4 664.1 253.9 667.0 252.9 668.0 249.8 669.8 248.1 673.7 249.1 677.7 248.7 677.8 250.9 677.7 253.1 677.3 255.4 675.6 257.9 674.3 260.5 672.4 262.3 670.2 263.8 667.7 264.8 665.8 266.6 662.7 266.6 661.0 269.0 659.4 271.2 658.3 273.0 657.9 275.0 657.5 277.0 657.2 279.0 658.8 280.6 660.0 282.6 660.9 284.8 662.7 285.7 664.7 286.4 666.4 287.5 668.1 288.7 670.0 289.6 670.8 292.5 671.5 294.7 667.8 296.0 664.1 297.1 660.4 297.7 656.4 298.2 657.0 300.1 657.2 302.2 657.6 304.2 658.2 306.1 658.5 308.2 658.9 310.0 659.9 312.2 661.2 314.1 662.5 315.9 663.6 317.8 664.1 319.8 664.6 321.7 663.3 323.9 664.9 325.7 665.4 327.8 664.6 329.8 663.0 331.6 663.6 334.2 662.0 335.4 659.1 337.3 655.8 338.2 652.5 340.1 648.8 339.4 645.1 339.6 643.1 343.0 641.0 346.2 638.7 349.3 635.7 351.0 633.0 353.2 630.0 354.9 627.3 356.8 623.9 357.6 620.5 358.6 617.1 358.9 613.7 359.6 610.3 360.1 609.8 362.9 607.8 362.0 605.6 362.0 603.6 361.2 602.2 359.8 601.4 357.8 599.7 356.5 598.4 354.8 599.3 352.4 599.4 350.3 598.1 348.8 600.2 346.4 599.6 343.2 599.7 340.2 601.2 337.6 599.5 336.1 597.0 335.6 595.7 333.6 595.6 331.5 595.3 329.5 595.0 327.5 595.0 325.7 592.4 328.1 590.1 330.7 587.8 333.4 585.4 335.9 584.5 338.4 584.9 340.9 584.1 343.5 584.5 346.4 585.9 349.0 587.1 351.6 587.8 354.5 589.1 356.8 591.5 358.1 593.3 359.9 594.5 361.9 595.7 363.9 596.7 366.1 596.5 368.5 596.6 370.8 595.7 373.4 594.2 375.8 591.2 377.9 587.7 378.6 584.6 380.4 581.6 381.9 579.8 383.9 577.7 385.7 575.7 387.5 573.7 389.6 573.2 391.8 573.5 394.2 571.6 396.2 572.4 398.6 572.5 400.9 571.5 402.8 571.1 404.8 570.2 406.7 570.0 409.0 567.9 410.4 565.7 411.7 564.1 413.6 560.9 415.9 557.4 417.5 557.5 419.7 557.3 421.8 558.1 423.9 558.1 426.0 558.6 428.0 556.5 430.0 554.5 432.2 552.4 434.2 550.0 436.1 547.7 436.9 545.6 438.0 543.3 438.7 541.2 439.4 539.3 438.5 537.2 438.0 535.2 437.2 533.1 436.0 534.5 437.7 534.9 439.7 535.6 441.6 536.3 443.5 537.5 445.3 537.4 447.3 534.7 447.7 532.0 448.8 529.4 449.9 526.6 450.3 524.5 450.1 522.4 451.9 520.2 449.4 518.1 449.5 516.0 449.9 513.8 450.1 514.3 452.3 515.4 454.2 515.8 456.5 516.9 458.4 517.1 461.2 519.7 461.7 522.3 462.2 524.8 462.9 527.3 463.7 529.8 464.6 532.6 465.0 533.8 466.9 535.2 468.7 536.7 470.4 538.0 472.2 540.0 473.6 540.3 475.8 541.7 477.3 542.5 479.2 544.1 480.6 544.9 482.5 546.2 484.1 546.7 486.3 546.9 488.5 546.6 490.9 547.6 493.0 548.0 495.2 547.7 497.5 548.2 499.6 547.1 501.7 547.2 503.8 547.8 506.0 547.0 508.0 547.0 509.6 544.9 510.6 542.7 511.3 540.6 512.2 538.3 512.3 536.3 513.6 533.9 513.1 531.6 513.4 529.4 513.6 527.1 512.8 524.8 513.1 522.6 513.5 520.3 513.5 518.1 514.2 515.8 514.3 513.5 514.0 511.3 513.9 509.0 513.8 506.8 514.4 504.5 514.1 502.2 514.1 500.0 513.8 497.8 512.7 495.5 514.1 493.1 513.5 490.4 513.4 488.8 515.7 486.5 516.6 484.3 517.7 482.4 518.8 480.5 520.0 479.3 522.1 476.8 522.8 477.8 525.0 479.0 527.1 479.4 529.5 480.5 531.6 480.6 534.0 481.2 536.1 481.5 538.2 482.0 540.3 482.3 542.4 484.2 544.2 482.9 546.6 482.5 548.7 482.2 550.8 481.5 552.9 482.1 555.1 481.3 557.2 482.1 559.7 480.7 561.6 479.6 563.7 478.6 565.7 477.8 567.9 476.7 569.9 476.4 572.2 477.0 576.3 478.3 577.9 479.4 579.7 480.5 581.4 481.4 583.3 482.8 585.1 482.5 587.3 482.4 589.5 482.3 591.6 481.9 593.8 481.9 596.0 481.6 598.1 484.1 598.0 486.5 598.3 488.9 598.2 491.4 598.0 493.8 597.6 496.3 597.8 498.3 598.2 500.2 598.7 502.0 599.9 504.1 600.0 506.0 600.6 508.1 601.1 509.5 602.7 511.2 603.9 512.7 605.4 513.7 607.3 515.2 608.8 517.0 609.8 519.1 608.2 521.1 606.5 523.0 604.7 525.0 603.1 527.0 601.4 529.2 601.1 531.2 599.6 533.3 598.7 535.6 598.7 537.7 598.0 540.0 597.9 542.2 597.6 544.1 595.9 546.3 595.3 548.5 595.9 550.7 594.8 552.5 593.2 554.4 591.8 556.3 590.4 558.3 589.0 560.5 588.0 562.4 586.5 564.2 585.0 565.4 583.1 565.7 580.9 567.5 579.3 569.0 577.7 569.5 575.6 570.4 573.6 570.8 571.5 571.8 569.7 572.7 567.7 571.3 565.8 568.8 564.8 568.8 562.0 567.1 560.4 566.0 558.4 567.6 556.3 567.7 553.6 568.7 551.4 569.7 549.1 570.5 546.7 571.3 544.3 572.6 542.7 573.5 540.9 574.7 539.2 575.4 537.3 576.6 535.6 578.1 534.2 579.8 533.0 581.4 531.7 582.8 530.3 584.0 528.6 585.2 527.2 586.8 525.7 588.3 524.3 589.2 522.5 590.1 520.6 591.2 518.9 592.2 517.1 591.4 515.0 589.6 513.1 590.7 510.5 590.4 508.3 588.9 504.8 591.5 505.2 593.4 504.3 594.9 502.9 596.7 501.8 598.2 500.4 600.2 499.8 602.6 499.8 605.0 500.5 607.4 500.6 609.8 500.9 612.2 501.1 614.5 501.0 616.7 498.9 619.7 497.7 621.3 495.1 623.8 493.3 624.9 491.3 626.4 489.5 627.9 487.7 628.9 485.6 630.2 483.7 632.4 482.1 634.1 480.0 635.6 478.1 638.1 478.2 640.6 478.4 643.0 479.5 646.5 478.9 647.2 481.1 648.7 482.7 649.7 484.8 651.6 486.0 652.7 488.0 654.4 489.2 656.1 491.1 658.2 492.5 660.5 493.4 662.7 494.7 665.0 495.2 667.2 496.1 669.5 496.6 671.8 497.3 674.0 498.1 676.3 498.8 678.4 498.9 680.4 499.1 682.4 499.1 684.4 500.0 686.4 500.1 688.4 500.4 690.6 500.1 692.3 501.6 694.1 502.7 695.9 504.0 698.3 503.1 700.2 503.8 702.4 503.9 704.6 504.2 706.6 505.4 708.8 505.4 711.0 505.8 713.2 506.1 714.7 507.9 715.9 509.8 718.2 510.7 719.7 512.5 722.1 513.4 721.6 515.8 723.6 517.8 724.3 520.0 722.9 522.4 724.4 524.5 724.5 526.8 725.0 529.0 726.2 526.9 727.4 524.8 728.9 522.9 730.4 520.8 730.8 518.7 730.6 516.5 730.7 514.3 731.5 512.2 731.7 509.9 729.8 508.8 728.3 507.4 727.5 505.1 725.1 504.6 723.4 503.4 722.4 502.0 723.2 499.6 723.2 496.8 724.9 494.6 727.0 494.5 729.1 494.0 731.3 494.6 733.4 493.7 735.5 494.1 737.5 494.0 736.1 492.5 734.4 491.4 733.0 489.8 731.5 488.7 728.6 487.7 725.7 487.7 722.8 488.1 719.9 487.8 717.0 488.0 714.2 487.7 711.3 487.7 708.2 487.7 706.1 486.1 703.7 485.1 701.4 483.7 699.6 482.7 697.6 481.9 695.5 481.1 693.6 480.2 691.5 479.6 689.5 479.0 687.6 477.9 685.5 477.4 683.8 476.0 681.8 475.2 679.7 474.8 677.9 473.7 676.0 473.0 674.1 472.4 672.3 471.3 670.3 470.8 668.6 469.8 666.5 469.6 664.7 468.8 663.2 467.6 662.2 465.8 661.9 463.7 661.2 461.8 660.1 460.0 659.8 457.9 659.2 456.0 661.2 454.1 663.5 452.6 665.3 450.6 667.0 448.8 668.7 450.6 669.4 453.1 670.9 455.2 673.0 456.2 675.3 456.8 677.6 457.0 679.8 457.9 682.0 458.7 684.4 458.8 686.4 460.2 688.8 460.4 691.1 460.6 693.2 462.0 695.6 462.0 697.8 462.8 700.3 461.8 702.3 463.8 704.6 464.0 706.9 464.4 709.2 464.1 711.4 464.7 713.7 465.3 716.0 465.4 718.4 464.2 720.6 465.5 722.9 466.0 725.3 466.1 727.7 466.2 729.9 467.4 732.2 467.8 734.6 468.1 735.9 470.0 737.5 471.7 738.1 474.0 739.6 475.7 740.6 477.7 742.1 479.9 743.0 482.3 743.6 485.2 745.7 485.8 747.8 486.2 749.7 487.4 751.6 488.4 753.5 489.2 755.6 489.8 758.0 490.9 760.1 492.5 762.5 493.6 765.1 494.2 767.5 495.2 769.9 496.4 770.9 498.2 772.9 499.1 774.0 500.8 775.7 501.9 777.6 503.2 778.7 505.4 780.8 506.5 782.5 508.0 784.3 509.4 786.1 509.3 788.0 511.3 790.0 512.5 792.3 511.7 794.4 511.4 796.7 512.2 796.5 510.0 796.3 507.8 796.1 505.6 795.9 503.4 795.3 501.2 795.8 499.0 796.3 497.0 796.6 495.0 797.0 493.0 797.9 491.2 798.8 489.3 799.1 486.8 796.6 487.0 794.2 486.8 791.8 486.2 789.8 485.5 788.0 484.1 786.3 482.8 784.6 481.2 783.1 479.7 781.7 477.9 779.8 476.8 778.2 475.2 776.1 474.4 774.8 472.5 772.8 471.6 771.3 470.0 771.6 467.3 772.4 464.6 774.7 465.0 777.1 463.3 779.4 464.6 781.9 464.8 782.0 462.5 782.5 460.2 783.6 458.0 783.3 455.1 785.8 454.3 787.5 452.5 789.3 451.1 791.0 449.5 792.4 447.7 794.2 446.7 796.3 445.9 798.5 446.6 800.6 445.8 802.6 445.4 803.3 447.7 802.0 449.8 801.6 452.1 803.5 453.0 804.8 454.7 806.5 455.8 807.7 457.6 810.0 458.0 811.7 459.2 813.2 460.6 813.6 462.0 816.7 464.2 815.2 466.9 814.9 469.4 816.1 471.6 818.0 472.4 819.9 472.9 821.9 473.3 823.7 474.5 826.2 472.8 827.7 475.1 829.7 475.4 831.7 476.8 833.7 478.2 836.0 478.5 838.9 478.5 841.9 478.4 844.7 477.8 847.6 477.3 849.5 474.9 852.3 476.5 854.6 475.5 857.0 475.3 859.3 474.7 861.7 474.1 863.1 472.1 864.9 470.6 867.8 469.3 867.6 466.1 868.1 463.2 869.8 460.7 870.4 458.3 873.4 458.5 876.0 456.9 878.9 456.3 881.7 455.6 884.6 455.3 887.1 454.1 889.2 452.4 890.4 450.1 891.9 448.0 893.1 445.7 894.8 443.8 896.4 441.8 897.4 439.3 898.7 437.1 899.9 434.8 901.4 432.6 902.2 430.1 903.8 428.0 905.2 429.9 906.1 432.1 907.9 433.7 907.7 437.1 911.1 437.4 913.1 439.0 915.1 440.9 916.1 442.8 917.8 443.8 919.1 445.4 920.7 446.4 922.0 448.4 923.2 450.3 923.8 452.6 925.2 454.5 926.1 456.6 927.3 458.6 928.1 460.8 929.4 462.8 930.9 464.6 931.7 466.8 931.7 469.4 933.7 471.0 934.8 473.1 936.1 475.0 937.3 476.9 939.8 478.1 939.5 481.0 940.6 483.0 940.9 485.2 942.0 487.1 942.3 489.3 943.3 491.3 943.3 493.5 942.1 495.5 940.0 496.6 938.3 498.0 937.0 499.9 935.1 501.2 933.7 503.0 932.0 504.5 930.5 506.2 928.8 507.7 925.9 508.5 923.5 510.2 921.0 511.7 918.5 513.1 916.0 514.5 913.5 515.9 911.0 517.5 908.3 518.5 906.5 520.7 904.7 522.9 902.9 525.1 900.7 527.1 898.7 529.1 897.0 531.5 895.1 533.6 893.6 536.2 891.4 538.1 889.5 540.3 887.4 541.2 885.3 541.8 883.0 542.0 880.8 542.7 878.7 543.4 876.6 544.2 874.5 545.2 872.2 545.1 870.1 546.0 867.9 546.7 865.8 547.2 863.7 548.0 861.5 548.7 859.4 549.4 857.2 549.9 854.8 549.8 852.5 550.5 850.1 550.4 847.7 550.6 845.5 551.6 843.1 551.6 840.9 552.7 838.4 552.3 836.1 552.7 833.9 553.7 831.6 554.4 829.1 553.5 826.1 553.9 823.4 554.9 820.8 556.5 817.9 557.0 815.4 558.8 813.5 559.7 811.2 561.1 810.0 563.1 808.8 565.1 808.2 567.4 806.8 569.3 805.2 571.1 804.7 573.5 802.8 575.6 804.4 577.2 805.5 578.9 805.9 581.1 806.7 583.0 807.9 584.7 807.9 587.0 809.2 588.7 810.7 590.5 809.2 592.6 808.0 594.9 807.4 597.5 807.1 600.1 805.5 602.3 804.7 604.6 802.5 604.9 800.3 604.8 798.1 605.2 795.9 605.3 793.7 605.4 791.5 605.0 789.3 605.7 787.1 605.4 784.9 605.7 782.7 604.5 780.7 606.4 778.5 606.0 776.5 606.9 774.4 607.4 772.2 606.9 770.2 607.2 768.0 607.4 766.0 607.2 764.4 605.8 762.4 605.2 760.5 604.2 758.8 603.1 757.0 602.0 755.3 600.9 753.4 600.0 751.6 598.6 749.5 599.4 747.3 599.6 745.1 599.8 743.0 600.4 740.9 600.7 738.7 600.9 736.4 600.5 734.4 601.6 732.2 601.9 730.1 602.7 727.9 602.3 725.8 602.9 723.8 603.3 721.8 603.7 719.9 604.5 717.8 604.4 715.9 605.1 713.8 604.7 712.0 605.9 709.9 606.5 707.5 605.6 705.1 605.1 702.8 603.9 700.3 603.5 698.0 602.6 695.8 601.5 693.1 601.7 690.9 600.3 691.7 598.1 693.7 596.1 692.7 593.4 692.9 591.1 693.2 588.7 693.7 586.4 694.6 584.2 695.0 581.6 693.7 579.7 692.1 578.1 690.2 576.7 689.2 574.7 687.7 572.9 686.0 571.4 685.1 569.3 684.3 566.4 681.8 566.7 680.3 565.2 678.5 564.3 676.9 563.2 675.1 562.1 672.2 561.7 669.3 561.6 666.8 562.9 664.5 564.4 662.7 566.6 660.6 568.3 658.0 569.6 656.6 573.3 653.4 571.7 651.0 573.0 648.5 573.6 646.0 574.7 643.4 575.0 641.0 576.1 638.6 577.4 636.4 579.0 634.1 580.4 631.7 581.6 629.3 582.9 626.8 583.6 624.1 584.3 621.5 584.6 618.8 584.5 616.1 584.5 613.5 585.4 610.9 585.5 608.4 586.5 605.9 587.5 603.9 589.7 601.1 590.0 598.7 591.4 595.3 591.2 593.9 594.2 591.5 595.8 589.2 597.5 586.8 599.0 584.1 600.2 581.7 601.9 580.1 603.2 578.3 604.4 577.0 606.1 575.9 608.0 574.0 609.0 572.3 610.4 569.4 610.8 567.1 612.7 564.5 613.9 562.3 615.8 559.6 616.9 556.9 617.6 554.2 616.3 551.4 617.7 548.6 617.6 545.9 617.3 543.1 617.0 540.4 617.1 537.8 618.1 535.1 618.5 532.3 618.4 529.6 618.9 526.9 619.3 524.5 619.7 522.6 618.7 520.9 617.5 519.1 616.4 517.3 615.3 515.4 614.4 513.2 612.4 512.9 614.8 511.5 616.8 511.7 619.4 510.6 621.5 509.6 623.7 509.1 626.0 508.4 628.3 507.0 630.2 505.8 631.8 505.0 633.8 503.3 635.1 501.7 636.4 500.4 638.0 499.2 639.7 498.3 641.7 497.6 644.0 495.4 644.6 493.9 645.9 492.5 647.4 490.6 648.3 488.8 649.3 487.1 650.5 485.7 652.0 484.0 653.2 482.6 654.7 480.6 655.4 479.0 656.7 477.9 658.4 477.0 660.8 476.0 663.0 474.8 665.2 473.9 667.5 471.9 669.4 470.1 672.4 471.8 674.7 471.3 677.4 472.6 679.8 473.7 682.2 473.4 684.9 475.5 688.0 473.3 689.5 471.9 691.4 470.8 693.5 470.0 695.8 468.8 697.8 467.8 699.9 466.9 702.1 465.4 703.9 464.1 705.8 462.3 707.1 460.9 708.8 459.2 710.2 458.4 712.7 456.1 713.5 454.4 714.9 452.8 716.2 450.9 718.3 448.3 718.2 446.1 719.3 443.9 720.3 441.5 720.8 439.4 722.2 436.8 722.1 434.9 724.0 432.2 724.1 430.9 725.8 429.4 727.3 427.7 728.7 426.6 730.5 425.9 732.8 423.7 733.6 422.1 735.1 420.7 736.7 419.0 738.0 417.7 739.7 416.1 741.2 414.7 742.8 412.9 744.1 411.6 745.9 411.3 748.3 408.5 748.9 407.8 751.1 406.2 752.5 404.5 754.0 403.4 755.9 402.1 757.6 400.5 759.2 399.0 760.7 397.7 762.5 396.6 764.4 395.5 766.3 394.0 768.0 392.8 769.8 391.2 771.3 389.8 773.1 388.9 775.1 387.7 776.8 386.5 778.5 385.5 780.2 384.2 781.8 383.1 783.6 382.1 785.5 381.1 787.2 380.0 789.0 378.7 790.7 378.2 792.8 376.7 794.3 374.8 795.6 374.4 797.8 373.2 799.6 372.5 801.6 371.4 803.3 370.4 805.4 368.0 807.1 369.2 809.9 368.0 812.0 368.0 814.4 366.8 816.5 366.4 818.8 365.6 821.2 366.3 823.3 366.8 825.4 368.9 827.1 368.7 829.5 369.2 831.6 370.0 833.7 369.9 836.0 370.8 838.1 371.4 840.2 372.4 842.3 372.0 844.4 372.8 846.4 373.2 848.4 372.9 850.4 373.3 852.5 373.7 854.5 374.0 856.5 374.0 858.6 374.8 860.5 374.7 862.6 374.8 864.7 375.2 866.7M614.1 351.2 613.9 348.5 615.1 346.0 615.2 343.2 613.6 340.8 612.4 338.3 609.4 339.8 607.1 342.2 603.8 344.1 605.0 345.7 605.7 347.7 607.4 349.1 608.3 350.6 611.2 350.9 614.0 351.2M640.1 314.0 639.6 302.7 640.1 307.6 640.1 314.0M488.2 353.4 489.1 351.6 489.9 349.7 490.6 347.7 493.0 346.5 492.5 344.1 493.6 342.3 494.2 340.3 494.4 338.1 492.8 340.0 491.3 342.0 490.2 344.2 489.5 346.5 489.3 348.8 488.9 351.2 488.0 353.4M511.9 332.3 513.8 328.6 515.2 330.7 511.9 332.3M521.0 317.4 521.8 308.2 519.4 314.3 521.0 317.4M486.5 298.2 490.0 294.7 489.9 303.6 486.5 298.2M653.9 544.8 653.0 542.8 652.0 540.9 650.8 539.1 649.7 537.2 649.2 535.0 647.9 533.2 648.7 531.0 648.3 528.6 648.8 526.4 649.1 524.1 648.8 521.8 649.7 519.6 650.0 517.4 650.1 515.3 652.4 515.8 654.7 516.0 656.7 516.9 657.3 519.2 657.7 521.6 658.4 523.9 659.3 526.2 659.9 528.5 659.9 531.0 661.0 533.2 661.8 535.5 662.0 537.8 660.0 539.5 658.2 541.6 656.0 543.2 653.9 544.8M649.3 512.8 647.7 510.6 646.3 508.4 644.9 506.2 643.4 504.0 641.8 501.9 640.1 499.9 641.5 498.3 642.3 496.5 643.5 494.8 644.6 493.1 645.6 495.0 646.3 497.0 647.3 498.8 648.4 500.6 649.4 502.5 650.0 504.3 650.2 506.4 650.0 508.5 649.8 510.6 649.3 512.7M692.9 539.8 695.6 539.0 697.9 537.6 700.5 536.6 702.9 535.3 705.7 535.0 707.8 533.1 710.4 532.3 713.0 531.3 715.2 529.7 717.9 529.0 720.0 527.1 722.5 525.9 723.1 528.0 723.4 530.1 723.9 532.2 724.6 534.2 725.2 536.3 725.6 538.4 726.1 540.5 726.8 542.6 727.6 544.9 726.6 547.2 723.7 547.6 720.9 547.3 718.1 547.4 715.2 546.5 712.5 548.1 709.6 548.2 706.8 547.9 704.0 548.8 701.2 547.8 698.5 547.7 697.1 545.9 695.8 544.0 695.5 541.3 693.1 540.1M815.0 519.3 816.5 517.8 817.6 516.0 818.3 513.9 819.5 512.1 820.8 510.4 822.8 509.4 825.1 509.2 827.0 508.0 829.1 507.5 831.0 506.5 833.2 506.2 835.2 505.5 837.1 504.5 838.8 503.4 837.9 505.7 836.0 507.1 834.5 508.9 832.7 510.4 831.0 512.0 829.9 514.0 827.4 515.0 824.8 515.6 822.6 517.1 819.9 517.4 817.4 518.3 815.0 519.3M895.9 474.6 895.9 472.5 896.4 470.4 896.4 468.3 896.1 466.2 896.5 464.1 898.0 461.7 899.7 459.4 901.1 456.9 902.7 454.6 904.1 452.1 905.2 449.6 905.1 451.7 905.7 453.8 905.5 455.8 905.4 457.9 905.5 460.1 903.7 462.4 902.5 465.0 899.4 466.4 899.6 470.0 897.7 472.2 896.1 474.6M592.8 556.0 598.9 546.7 601.2 552.8 592.8 556.0M765.7 503.3 765.1 496.2 768.6 500.2 765.7 503.3M791.3 483.0 803.2 484.4 794.0 479.7 791.3 483.0M817.5 490.8 818.5 487.1 819.2 489.7M807.7 461.8 811.7 460.8 810.8 464.4 807.7 461.8M845.0 485.7 846.7 481.3 848.3 486.7 845.0 485.7M814.8 428.1 812.6 427.8 810.4 427.8 808.2 427.8 806.1 427.4 804.0 426.7 801.9 426.3 800.3 424.9 798.4 424.0 797.7 421.5 795.1 421.4 793.9 419.8 793.6 417.5 791.9 415.6 791.9 413.2 791.0 411.0 791.8 408.7 790.9 406.7 789.8 404.7 789.7 402.5 789.4 400.4 789.7 398.3 790.1 396.2 789.6 394.1 790.4 392.1 790.1 390.0 790.3 387.9 789.2 385.8 789.1 383.4 788.3 381.3 787.8 379.0 787.4 376.9 787.1 374.8 786.2 372.9 786.3 370.7 785.5 368.8 788.1 365.9 790.9 363.2 793.2 363.1 795.4 364.5 797.8 363.6 800.0 363.5 802.6 363.6 805.2 363.5 807.8 363.0 810.3 363.3 808.9 365.2 808.5 367.6 807.2 369.6 806.1 370.8 808.1 372.0 810.3 372.4 812.5 372.2 814.7 372.9 816.8 373.5 819.7 375.0 821.0 373.2 822.5 371.7 823.9 370.9 825.0 368.4 825.7 365.8 826.0 363.2 827.0 360.7 827.5 358.5 827.9 356.1 828.0 353.6 830.7 352.5 831.4 350.5 833.8 350.4 836.2 349.3 838.7 349.6 841.0 348.2 843.5 348.6 846.0 348.3 848.2 348.2 850.3 346.9 852.6 347.8 854.8 347.6 857.0 347.2 859.2 346.9 861.4 346.8 863.5 345.0 865.8 346.0 868.1 346.0 870.4 345.4 872.7 346.5 874.9 345.4 877.2 345.9 879.5 345.5 881.8 344.9 884.0 344.5 886.7 343.7 888.1 345.7 890.0 346.9 891.8 348.4 893.8 349.4 895.5 350.7 895.3 353.3 894.7 355.9 893.2 358.2 893.2 360.9 892.3 363.4 892.1 366.3 890.0 367.3 888.4 368.9 886.0 369.6 885.0 371.9 883.2 373.3 881.5 374.7 879.4 375.9 877.6 377.4 875.7 378.7 873.7 379.9 871.7 381.0 869.5 381.9 867.6 383.2 865.8 384.8 863.5 385.4 861.5 386.5 859.1 386.4 856.6 386.1 854.2 386.8 851.7 386.8 849.7 388.3 848.4 390.6 846.2 391.9 844.1 393.3 842.0 394.6 839.8 396.2 839.3 398.6 837.9 400.4 836.6 402.4 835.5 404.4 834.2 406.4 833.4 408.6 831.8 410.4 831.0 412.6 829.5 414.4 828.3 416.4 826.8 418.2 825.7 420.2 824.2 422.1 823.3 424.7 820.9 425.0 819.1 426.7 817.1 427.8 814.8 428.3M831.1 350.2 831.3 347.7 831.7 345.2 831.4 342.7 831.3 340.1 831.3 337.6 831.1 335.3 830.5 333.1 829.1 331.3 828.4 329.1 827.0 327.2 826.0 325.0 824.5 326.7 823.3 328.7 821.7 330.4 820.6 332.4 819.3 334.4 818.2 336.5 817.1 338.7 815.6 340.6 814.8 342.9 813.2 345.0 814.0 347.2 815.0 349.2 815.4 351.5 816.6 353.2 818.5 353.7 820.5 354.3 822.4 354.6 824.5 354.8M805.7 446.4 807.1 444.4 808.3 442.3 809.8 440.3 810.9 438.1 812.3 436.0 813.4 433.8 815.4 432.9 817.4 432.0 819.4 431.1 821.5 430.4 823.3 429.1 825.7 428.6 824.6 430.7 823.7 432.9 823.5 435.3 822.0 437.4 819.9 438.4 817.9 439.6 815.7 440.5 813.8 441.9 811.9 443.2 810.0 444.5 807.9 445.6 805.7 446.5M882.0 262.2 881.1 266.1 879.5 270.0 880.5 271.7 881.9 273.2 882.5 275.3 883.4 277.0 884.4 278.8 885.9 280.3 886.3 282.4 887.7 284.0 889.2 285.4 890.1 287.4 892.2 288.5 893.0 290.6 893.4 293.0 895.5 294.2 897.6 294.6 899.7 295.3 901.9 295.8 904.1 296.2 906.2 297.0 908.4 297.2 910.8 296.9 912.9 298.2 915.3 298.2 917.5 299.1 919.8 299.4 922.2 299.2 924.5 299.8 926.8 300.1 929.1 299.5 931.6 300.7 934.1 300.7 936.6 300.2 939.1 300.4 941.6 300.8 944.1 300.8 946.7 300.8 949.2 301.5 951.6 301.0 953.1 302.6 954.6 304.3 955.7 306.3 957.8 307.5 958.5 309.8 960.4 311.2 961.1 313.5 962.6 315.2 963.9 317.2 966.1 317.8 967.5 319.6 969.4 320.5 971.2 321.8 973.0 322.9 974.6 324.7 976.8 324.6 979.0 324.4 981.2 325.0 983.4 324.3 985.8 324.5 987.5 322.5 989.6 320.9 991.7 319.4 993.9 318.0 995.0 315.2 997.7 314.4 999.4 312.4 1001.6 311.0 1003.3 308.6 1004.3 306.0 1005.1 303.3 1006.7 300.9 1007.5 298.2 1008.6 295.6 1009.9 293.0 1010.6 290.5 1008.7 289.5 1007.0 288.1 1004.9 287.3 1003.2 285.9 1001.0 285.4 999.5 283.7 997.4 283.0 995.4 282.0 993.7 280.4 991.3 280.5 988.9 280.3 986.5 280.5 984.2 280.3 981.8 279.9 979.4 280.1 977.1 279.5 974.8 279.1 972.6 278.9 970.4 278.4 968.4 277.6 966.3 277.3 964.3 276.3 962.3 275.5 960.2 275.2 958.1 274.4 956.0 273.9 953.7 274.0 951.9 272.4 949.5 273.0 947.8 271.7 945.3 271.5 942.8 271.5 940.3 271.4 937.9 273.2 935.4 272.0 932.9 272.0 930.5 270.5 928.0 271.7 925.6 272.0 923.1 272.8 920.6 272.3 918.2 271.8 915.7 272.1 913.3 270.5 910.8 271.9 911.8 269.6 912.0 267.0 913.4 264.8 913.6 262.3 913.8 259.7 914.4 257.3 914.9 254.9 915.8 252.1 914.2 251.0 912.4 249.9 910.5 249.0 909.1 247.4 907.2 246.7 905.5 245.4 904.5 243.4 902.2 243.1 900.3 241.6 898.9 243.5 896.7 244.2 894.8 245.3 893.0 246.5 891.0 247.5 889.4 249.0 887.6 252.3 885.8 255.7 884.2 259.1 882.1 262.2M173.9 289.5 171.5 286.3 167.6 285.4 164.3 283.6 161.8 283.8 159.6 282.6 157.3 281.5 155.1 280.5 152.5 280.6 150.1 280.0 147.9 278.6 145.6 277.7 143.1 277.4 140.4 276.7 139.2 275.0 137.9 273.4 137.1 271.5 135.3 270.3 134.3 268.5 133.0 267.0 131.2 265.9 129.7 264.5 128.8 262.6 127.8 260.8 126.2 259.5 124.9 258.0 122.5 254.9 119.8 252.2 117.5 249.2 115.1 246.2 112.7 243.2 109.9 240.5 107.9 237.0 106.0 236.0 103.9 235.2 102.1 234.1 99.9 233.4 98.3 231.8 97.0 229.7 94.2 230.2 92.4 229.1 90.4 228.9 88.4 228.4 86.3 228.1 84.4 227.3 82.0 228.7 80.2 226.9 77.8 226.9 75.4 226.4 73.0 226.4 70.6 226.0 68.2 225.6 65.8 225.2 63.8 225.4 61.7 225.2 59.6 225.5 57.6 225.3 55.1 225.9 53.8 223.7 51.7 223.2 49.8 222.4 47.9 221.7 45.9 220.9 44.2 219.6 41.7 220.2 40.2 218.4 38.6 216.8 36.1 217.2 34.6 215.5 32.6 214.8 31.1 213.3 29.0 213.0 27.9 211.0 26.1 210.1 24.4 209.0 22.6 208.0 20.9 206.8 18.9 206.2 16.7 205.9 15.1 204.4 13.2 203.7 11.2 202.9 9.4 201.9 7.3 201.4 5.6 200.2M55.6 224.8 57.5 225.7 60.2 224.8 61.9 226.5 63.7 227.9 66.0 228.0 67.7 229.6 70.7 229.4 73.2 231.2 76.0 231.6 79.0 231.6 81.5 233.2 84.3 233.6 86.1 234.8 87.3 237.0 90.4 236.3 91.2 239.0 93.7 239.2 94.8 241.3 96.6 242.5 98.8 243.2 99.6 247.5 103.4 249.5 104.3 253.9 108.1 255.2 107.5 257.5 106.0 259.1 104.6 260.7 103.1 262.1 100.5 261.3 98.1 260.4 95.3 260.1 93.0 258.5 91.8 260.2 90.5 261.9 89.3 263.6 88.1 265.4 87.1 267.3 85.9 268.9 84.0 270.7 85.9 273.9 83.2 275.4 82.4 277.6 81.3 279.8 81.4 282.1 82.4 284.2 82.2 286.6 83.3 288.6 84.3 290.7 85.4 292.7 87.4 294.1 87.5 296.5 87.9 298.7 88.6 300.8 89.1 303.0 90.7 304.2 92.2 302.5 94.8 303.4 96.5 302.0 97.9 300.1 100.3 300.5 102.1 299.5 104.1 299.0 105.1 297.6 105.1 300.3 104.1 302.5 103.3 304.9 102.4 307.0 100.0 307.4 97.6 307.5 95.2 307.1 92.8 307.9 90.4 306.9 88.2 306.4 85.9 305.7 83.8 304.6 81.8 303.5 79.8 302.3 77.8 301.1 77.1 297.8 74.0 298.2 72.2 296.8 69.9 296.1 67.8 295.1 65.6 293.5 62.9 293.3 60.7 291.8 58.8 289.5 55.6 290.2 53.3 289.0 50.8 288.1 48.6 286.6 47.6 284.2 48.3 281.8 48.2 279.4 50.3 279.5 52.5 279.8 54.6 279.4 56.7 280.0 58.8 279.9 60.3 281.9 62.8 281.4 64.8 282.0 66.9 282.6 68.7 283.7 70.7 284.1 69.2 282.3 67.4 280.7 66.4 278.4 64.3 277.1 63.2 274.8 61.0 273.5 59.4 271.7 58.3 269.3 55.9 268.8 53.6 268.1 52.2 265.8 49.5 266.2 47.7 264.9 45.4 264.5 44.4 261.9 42.2 261.5 40.2 260.5 38.4 259.2 36.7 257.9 34.9 256.6 33.0 255.5 30.9 254.7 29.4 252.6 27.0 253.7 25.0 252.6 23.0 252.0 20.9 251.3 18.8 251.1 16.7 251.3 14.8 252.2 12.3 251.5 10.4 253.1 9.8 255.3 9.4 257.7 9.0 260.0 6.8 261.6 6.8 263.8 4.7 263.2 3.6 261.2 1.6 260.4 -0.6 258.3 -3.3 256.8 -5.0 254.4 -7.2 252.3 -9.4 250.5 -12.2 249.2 -12.2 245.6 -14.7 244.1 -16.2 241.7 -17.8 239.4M118.6 299.9 120.8 299.3 123.1 298.8 124.9 297.1 127.5 297.4 129.5 296.0 131.7 295.6 134.0 295.5 136.3 295.4 138.6 294.9 140.9 294.6 142.3 291.6 145.2 292.0 148.0 292.1 149.6 289.5 152.1 289.2 154.6 288.1 156.6 289.1 158.9 288.2 160.9 289.5 163.0 289.4 165.2 289.5 167.2 291.7 169.5 289.1 171.5 291.0 173.9 290.1 172.1 291.6 170.5 293.4 167.7 293.0 166.5 295.1 165.0 296.9 163.0 297.5 161.3 298.7 158.5 297.8 157.8 300.3 156.3 302.4 156.2 304.8 156.1 306.9 158.1 310.3 159.8 313.9 162.3 317.1 162.0 319.3 161.5 321.6 161.6 323.9 160.5 326.1 160.1 328.3 159.3 330.2 157.9 331.9 157.8 334.1 157.3 336.2 156.5 338.1 154.6 339.0 153.4 340.9 151.2 341.4 149.5 342.5 148.5 344.7 144.2 346.9 144.5 344.0 143.3 342.3 142.3 340.4 140.8 338.8 140.8 336.3 138.9 334.7 138.5 332.5 135.8 331.2 137.7 328.0 135.5 326.5 136.1 323.9 134.0 321.9 134.1 319.5 134.0 316.9 133.7 314.1 130.3 314.1 128.7 312.5 128.2 309.9 126.4 308.4 124.2 307.3 121.5 306.6 121.8 303.3 118.7 303.0 118.6 300.1M114.6 252.2 116.1 254.1 117.7 256.0 119.3 257.8 121.1 259.5 123.0 261.0 124.6 263.2 124.0 265.1 123.6 267.1 123.4 269.1 122.8 271.1 120.9 269.9 119.2 268.4 117.4 267.0 115.9 265.1 113.7 264.2 112.1 262.6 112.8 260.5 113.8 258.5 114.2 256.4 114.0 254.1 114.8 252.0M11.0 123.3 10.9 121.2 10.8 119.1 9.7 117.2 9.7 115.0 9.0 113.0 8.7 110.9 8.5 108.9 7.9 106.8 8.0 104.7 7.5 102.7 7.7 100.5 7.8 98.3 7.7 96.2 8.2 94.0 8.5 91.9 8.7 89.6 7.8 87.7 7.1 85.7 7.2 83.6 6.1 81.7 5.9 79.6 5.1 77.7 4.8 75.6 3.8 73.7 3.8 71.5 3.0 69.6 3.0 67.5 2.3 65.5 2.2 63.3 1.7 61.0 3.0 63.5 5.2 65.0 6.4 67.6 9.1 68.7 11.1 70.3 12.8 72.4 14.9 74.0 16.8 75.9 19.4 77.2 21.6 79.2 24.5 80.0 26.4 82.3 28.0 84.0 29.8 85.4 31.5 87.1 32.9 88.9 33.3 92.9 33.4 96.9 33.1 99.1 32.5 101.2 31.9 103.3 31.6 105.4 29.9 107.8 28.5 110.3 26.9 112.8 25.5 115.4 23.6 116.1 21.5 116.4 19.8 117.6 17.9 118.4 15.9 118.9 14.0 119.8 12.5 121.4 11.2 123.3M-24.9 153.2 -23.5 151.4 -21.4 150.8 -18.9 150.8 -17.4 149.2 -15.8 147.8 -14.0 146.6 -11.8 146.7 -9.7 146.8 -7.6 147.4 -5.4 147.5 -3.3 147.4 -1.1 146.4 1.0 147.3 3.2 147.8 3.4 145.4 3.5 143.0 3.1 140.6 5.6 138.5 6.2 136.2 5.2 133.7 5.7 131.3 6.6 128.9 6.6 131.1 7.2 133.1 8.3 135.1 8.5 137.2 8.7 139.3 9.0 141.4 10.0 143.4 9.9 145.6 10.9 147.6 11.3 149.6 11.5 152.1 10.8 154.5 9.5 156.8 9.4 159.2 7.0 159.6 7.0 163.0 4.4 163.3 2.9 164.9 1.1 166.1 -0.6 167.4 -0.8 164.7 -0.7 161.9 -0.7 159.1 -0.6 156.4 -2.7 156.0 -4.7 155.1 -6.9 155.0 -9.0 154.7 -10.9 153.4 -13.0 154.0 -15.0 153.8 -17.0 153.7 -19.0 153.7 -21.0 153.3 -23.1 153.3 -25.1 152.9M-53.9 111.7 -51.9 110.5 -49.8 109.5 -47.6 108.7 -45.6 107.4 -43.5 106.4 -41.4 106.4 -39.3 106.2 -37.3 105.7 -35.2 105.9 -33.1 105.3 -31.0 105.2 -29.0 104.9 -26.9 104.8 -24.8 104.9 -22.7 104.6 -20.7 103.9 -18.6 103.9 -16.5 104.7 -14.3 105.3 -12.0 105.8 -9.8 106.3 -7.7 107.1 -5.5 107.6 -3.3 108.3 -1.3 109.0 -0.6 111.0 -0.1 113.1 0.8 115.1 0.5 117.3 1.5 119.3 1.9 121.1 -0.3 121.5 -2.4 120.7 -4.6 121.2 -6.7 120.5 -8.9 120.4 -11.0 120.0 -13.2 120.0 -15.4 119.6 -17.6 119.3 -19.7 118.6 -21.8 118.1 -24.1 118.2 -26.2 117.5 -28.3 117.2 -30.7 117.9 -33.3 118.0 -35.6 118.8 -38.1 119.3 -40.5 120.0 -42.8 120.4 -44.7 118.9 -46.6 117.5 -48.7 116.3 -50.4 114.7 -52.2 113.1 -54.0 111.5M-45.4 150.2 -44.0 152.3 -42.5 154.3 -41.1 156.3 -39.7 158.4 -38.0 160.3 -36.5 162.3 -34.4 164.4 -33.3 167.2 -31.4 169.4 -30.0 172.0 -28.2 174.3 -26.4 176.6 -24.0 178.4 -21.8 180.3 -19.4 182.1 -16.9 183.9 -18.4 181.9 -18.9 179.4 -20.4 177.4 -21.1 175.0 -22.0 172.7 -23.6 170.9 -25.0 168.3 -26.8 166.1 -28.3 163.6 -29.8 161.1 -31.4 158.6 -33.3 156.5 -34.8 155.0 -36.5 153.7 -38.1 152.4 -40.0 151.4 -41.7 150.0 -43.4 148.7M-12.3 179.3 -10.7 181.4 -9.1 183.6 -7.6 185.7 -6.2 187.9 -4.7 190.1 -3.3 192.4 -1.3 194.6 1.2 196.2 3.4 198.2 5.7 200.0 3.4 198.7 1.3 197.1 -1.1 195.7 -3.2 194.2 -5.4 192.5 -7.7 191.1 -8.7 189.2 -9.1 187.1 -10.2 185.3 -10.8 183.2 -11.5 181.2 -12.2 179.2M25.3 18.7 25.6 23.4 25.9 28.1 26.2 32.8 24.9 37.1 23.6 41.5 22.3 46.0 21.1 50.4 20.0 54.9 19.8 58.9 19.6 63.0 19.5 67.1 19.4 71.2 19.3 75.3 17.2 79.7 15.2 84.2 13.2 88.8 12.8 93.0 12.5 97.3 12.2 101.6 11.9 105.9 11.7 110.2 11.5 114.6 11.3 118.9 11.2 123.3 8.9 128.7 6.7 134.2 0.7 144.0 -5.7 146.2 -12.2 148.4 -18.6 150.7 -25.1 152.9 -35.1 150.1 -38.5 156.1 -35.9 160.2 -33.3 164.2 -30.7 168.2 -28.0 172.2 -25.3 176.2 -22.5 180.1 -12.7 181.4 -8.8 184.7 -4.8 188.0 -1.4 192.1 2.1 196.2 5.6 200.2 11.2 202.9 16.9 205.5 22.6 208.0 24.6 212.2 26.6 216.4 28.6 220.6 30.7 224.7 32.8 228.8 35.0 232.9 41.1 236.5 48.7 236.3 56.2 235.9 63.1 235.8 70.0 235.6 71.6 239.4 73.2 243.2 65.6 251.8 59.1 259.8 54.8 264.6M165.6 281.3 163.5 277.5 161.4 273.8 159.3 270.0 157.3 266.2 155.3 262.3 153.1 259.5 150.8 256.7 148.6 253.9 146.3 251.0 144.1 248.1 142.0 245.3 139.8 242.3 137.7 239.4 141.8 235.0 145.9 230.7 150.0 226.4 150.4 221.9 150.9 217.4 151.4 213.0 152.0 208.6 156.9 199.1 163.2 196.3 169.5 193.4 174.9 191.2 180.3 188.9 185.6 186.7 189.6 187.6 193.6 188.5 197.6 189.4 201.6 190.2 207.6 185.9 213.6 181.7M85.6 140.6 80.1 142.6 74.5 144.7 69.0 146.7 63.4 148.7 57.8 150.8 52.2 152.8 46.6 154.9 40.9 156.9 35.3 159.0 29.6 161.1 25.3 167.1 21.1 173.2 22.0 177.4 22.8 181.7 23.7 185.9 24.7 190.1 25.7 194.3 26.7 198.6 27.8 202.8 28.9 207.0M321.1 52.6 322.9 49.4 325.9 51.7 328.2 51.1 330.0 49.4 332.7 48.0 334.9 46.3 336.3 43.6 336.3 42.3 339.0 40.8 334.8 39.9 335.0 38.6 339.7 36.9 335.1 36.0 335.3 34.7 334.0 33.5 336.3 32.1 335.5 30.9 335.8 29.6 336.0 28.3 335.0 27.3 333.3 26.5 330.4 27.6 330.1 24.7 329.2 22.7 326.8 22.8 325.5 21.4 321.5 23.6 323.1 19.4 319.8 16.4 318.5 20.7 316.3 22.0 317.4 20.8 312.8 22.9 313.5 24.2 315.1 25.4 317.7 26.3 314.4 28.4 315.2 29.7 318.2 30.5 316.7 32.3 315.6 34.0 316.5 35.2 316.1 36.8 319.6 37.3 315.7 39.8 317.7 40.7 317.9 42.2 316.9 43.9 319.2 44.7 319.1 46.3 319.2 47.7 320.3 48.8 320.0 50.4 320.9 51.6M304.0 63.5 307.1 63.9 310.0 64.9 313.1 65.3 316.0 66.0 316.2 64.4 315.7 63.0 314.5 61.6 315.0 60.0 315.5 58.4 315.3 56.9 314.3 55.9 312.3 55.2 310.3 54.6 308.3 54.3 305.9 55.0 305.1 56.7 307.9 59.4 305.3 60.7 304.8 62.5 303.9 64.3M206.2 88.3 208.3 89.6 210.8 88.9 212.8 90.4 213.9 90.1 215.2 86.4 219.4 84.6 220.5 81.0 221.6 78.3 222.5 75.5 224.4 73.2 225.5 70.5 226.5 67.4 224.7 65.3 221.7 64.6 220.7 61.7 218.0 60.6 216.4 58.3 214.0 56.1 211.7 58.0 209.3 59.9 207.9 61.3 206.0 62.1 204.9 63.7 204.6 66.1 204.1 68.7 204.8 71.1 205.0 73.6 204.5 76.2 204.9 78.7 205.5 81.1 204.9 83.7 206.1 86.2 206.1 88.7M232.8 60.1 234.7 61.5 236.7 61.9 238.6 63.0 241.2 61.4 242.5 64.7 244.7 64.6 246.7 65.4 248.8 65.7 250.9 65.5 253.0 66.0 254.3 69.6 257.1 67.9 258.2 64.7 260.8 64.6 263.6 65.0 265.4 63.1 266.7 60.4 268.4 62.1 269.1 59.6 266.5 58.8 267.1 56.3 267.5 53.9 265.7 52.7 267.1 49.9 264.5 49.0 262.6 48.1 259.2 46.4 255.4 45.7 252.1 43.6 248.6 42.2 244.6 41.1 242.3 42.9 239.9 44.6 237.4 46.1 234.7 47.4 232.9 49.9 230.0 50.8 230.0 53.0 233.5 54.5 231.0 57.3 231.5 59.4 232.5 61.4M197.0 86.5 195.2 83.8 193.0 81.0 192.2 83.4 191.1 85.8 193.2 85.4 195.1 86.2 197.2 86.3M195.0 100.7 192.4 99.0 190.1 96.8 192.4 96.4 194.4 96.4 194.8 98.5 195.0 100.6M135.6 125.4 133.7 126.3 131.7 126.9 129.5 126.3 127.7 126.9 129.3 124.5 130.7 122.1 132.3 123.4 133.9 124.6 135.7 125.7M260.3 95.1 260.1 91.4 261.0 88.2 258.5 88.7 256.1 89.7 253.4 90.7 255.5 91.9 257.3 93.2 259.1 94.7M331.3 5.1 334.8 2.1 337.6 3.4 339.8 8.6 342.8 6.5 344.3 5.7 345.2 4.6 345.9 3.3 346.9 2.2 347.4 0.8 348.8 0.0 349.1 -1.5 350.0 -1.6 347.0 -3.3 344.1 -5.0 340.7 -5.6 336.9 -7.8 336.7 -6.3 336.5 -4.9 335.6 -3.8 335.9 -2.1 334.7 -1.1 333.3 -0.3 330.7 -0.0 332.4 2.3 331.6 3.5 331.3 4.9M346.8 33.8 350.4 32.8 348.1 31.5 347.2 30.2 350.4 29.3 348.6 27.9 348.2 26.6 348.1 25.4 348.6 25.1 352.3 27.4 358.7 24.3 355.8 26.1 357.2 26.8 357.4 27.9 357.5 28.9 357.6 30.0 358.8 30.8 358.1 32.0 359.1 32.9 359.1 34.0 359.1 35.3 356.4 33.2 353.4 35.0 350.8 32.5 347.7 33.9M603.3 308.6 603.6 306.1 603.5 303.7 603.5 301.2 605.8 301.5 607.8 301.7 608.7 303.7 608.5 305.8 608.8 307.9 609.2 309.9 610.9 311.2 612.6 312.5 614.1 314.1 612.0 313.7 609.9 313.4 608.0 312.8 606.3 311.6 605.0 310.0 603.5 308.6M684.2 243.4 682.3 242.5 680.3 241.8 678.4 240.9 676.6 239.8 674.7 239.1 672.7 238.3 672.9 234.5 673.2 230.8 673.8 227.2 675.8 227.8 677.8 228.1 679.7 228.7 681.8 228.9 683.8 229.4 686.0 230.0 685.5 232.2 685.4 234.4 684.9 236.6 685.0 238.9 684.6 241.1 684.2 243.3M693.0 220.0 690.7 218.4 688.3 216.8 685.8 215.4 683.8 213.4 681.3 212.0 679.3 210.0 681.2 207.0 682.5 203.6 684.3 204.8 686.2 205.8 688.0 207.0 689.9 207.9 691.9 208.7 693.9 209.7 693.8 213.1 693.1 216.6 692.9 220.1M678.1 271.7 676.1 266.4 680.0 270.6 683.9 274.8 678.1 271.7M869.1 25.9 869.6 28.1 868.3 30.1 869.4 32.3 869.6 34.5 869.2 36.6 868.6 38.7 868.3 40.8 868.6 42.9 868.3 45.0 868.6 47.3 867.9 49.4 866.1 51.4 867.2 53.7 867.5 55.9 867.0 58.0 866.8 60.2 866.2 62.3 866.4 64.5 864.9 66.2 865.2 68.8 863.9 70.5 861.8 71.9 861.8 74.3 860.1 75.8 860.0 78.2 858.5 79.8 856.5 81.6 858.1 84.3 856.5 86.2 857.1 88.6 855.8 90.5 855.6 92.7 854.5 94.7 854.9 97.1 855.0 98.9 853.3 101.0 853.8 103.0 853.2 105.1 854.1 107.0 854.4 109.0 855.2 110.9 855.8 112.9 854.9 115.0 856.1 116.9 854.7 119.3 854.9 121.3 855.9 123.3 855.7 125.4 856.9 127.4 857.6 129.4 855.9 132.1 858.5 133.5 858.3 135.9 860.5 137.4 860.5 139.7 861.0 141.9 863.5 143.2 864.2 145.3 864.4 147.6 865.0 149.7 865.6 151.8 865.5 154.0 864.9 156.0 864.4 158.1 863.8 160.1 862.2 161.8 862.2 164.0 862.0 166.2 861.4 168.2 860.5 170.2 860.4 172.4 858.4 174.0 857.6 175.9 858.0 178.3 856.8 180.1 855.9 182.1 854.4 183.8 854.7 186.2 853.7 188.1 853.8 190.2 853.3 192.2 852.6 194.1 849.4 195.5 850.4 197.8 850.5 199.9 850.1 202.0 850.9 204.2 850.1 206.2 848.4 207.9 848.4 210.0 847.2 211.9 847.7 214.1 847.1 216.1 847.2 218.2 846.6 220.3 846.5 222.4 845.7 224.4 846.6 226.6 846.2 228.7 846.2 230.8 845.5 232.8 844.9 234.9 845.0 237.0 847.3 238.1 847.8 240.4 848.8 242.3 849.9 244.2 851.2 245.9 852.1 247.8 853.5 249.6 855.4 250.4 856.9 251.9 859.8 251.0 861.0 253.0M860.3 254.5 870.4 252.8 885.6 254.5 899.0 252.0 904.0 266.0 916.0 271.0 932.9 273.0 956.6 271.4M932.9 273.0 938.0 300.0M956.6 176.8 934.6 193.6 934.6 210.5 956.6 220.7" fill="none" stroke="#000" stroke-width="1.0" stroke-linejoin="round"/><path d="M407.1 249.3 408.7 247.8 411.8 247.7 413.0 245.7 413.4 241.4 416.4 243.6 418.3 242.5 420.1 245.0 421.9 249.0 424.3 244.9 426.5 248.0 428.5 248.4 430.8 248.5 432.9 249.2 435.3 249.1 437.4 251.2 439.6 250.1 441.8 248.9 444.1 248.8 446.6 249.4 448.5 247.2 449.9 247.8 448.6 250.7 451.8 252.8 452.2 255.6 455.9 256.5 454.0 260.4 455.5 262.0 454.6 264.0 453.6 266.0 453.6 268.6 451.2 269.6 449.2 271.9 446.4 273.0 443.8 274.1 440.8 274.4 438.2 275.6 435.8 277.1 433.5 279.2 430.5 279.3 428.4 277.7 425.9 277.3 423.5 276.6 420.7 276.1 418.1 275.2 414.9 275.5 413.4 272.4 411.2 271.4 413.7 270.0 415.0 267.9 413.2 265.8 410.6 264.5 408.8 262.3 406.4 257.0 410.0 259.2 412.6 258.2 416.6 255.8 413.3 255.4 410.5 254.4 409.8 251.3 407.6 249.8M537.4 126.1 531.6 130.1 532.8 124.0 531.1 122.3 528.8 121.3 527.3 119.2 526.6 116.3 523.6 116.1 519.6 117.1 520.1 112.9 516.8 112.2 518.7 108.3 519.9 104.7 515.6 103.9 513.2 101.8 514.2 101.2 514.8 100.2 514.9 98.9 519.8 101.4 514.0 95.6 517.8 98.2 518.4 96.3 519.1 95.5 520.4 96.7 521.9 98.6 522.2 95.7 522.0 98.3 524.6 95.4 525.8 96.4 527.7 95.2 528.5 97.4 530.0 98.1 532.1 97.4 533.5 98.2 530.5 101.8 537.5 101.1 537.0 103.6 537.4 105.8 537.7 107.9 538.3 109.8 536.9 111.5 535.6 113.2 536.7 115.3 541.0 116.8 536.8 120.2 537.2 123.3 537.2 126.4M220.9 167.7 225.5 164.3 230.2 159.9 232.2 165.0 234.2 164.7 237.0 169.1 239.4 165.6 239.3 162.3 241.5 161.3 243.7 160.4 244.6 157.8 247.4 161.8 249.8 162.9 250.6 154.0 253.4 158.1 255.8 159.8 257.3 156.3 259.3 155.7 261.6 162.4 263.9 156.9 266.8 157.6 268.7 156.2 272.5 160.1 272.1 151.4 275.5 153.2 275.1 150.8 274.7 148.4 282.5 148.9 274.7 144.0 280.2 143.2 280.0 140.7 279.9 138.2 284.3 135.7 276.9 129.9 284.1 128.4 283.7 124.5 285.3 121.4 288.6 119.0 290.4 116.3 294.1 116.1 290.9 111.7 291.6 109.6 293.1 108.0 293.3 104.5 298.1 102.6 299.9 100.6 296.6 97.1 297.9 95.0 299.6 92.9 298.4 90.0 304.3 89.2 299.6 85.6 305.6 84.9 302.5 81.7 302.2 79.3 308.8 78.7 308.3 76.5 303.7 73.2 303.2 71.0 305.2 69.4 306.3 67.8 307.0 65.6 309.8 64.5 308.7 61.3 309.9 59.3 310.3 56.9 312.5 54.7 313.1 52.4 311.0 51.9 309.4 51.1 308.4 49.8 303.0 51.3 308.3 46.2 306.4 45.6 304.8 49.1 303.2 43.1 298.7 47.5 295.5 46.9 292.7 35.8 292.1 42.4 289.5 43.0 284.3 36.6 286.1 49.7 283.3 50.0 278.8 45.4 276.8 47.7 274.0 48.6 272.3 51.2 269.4 51.9 269.8 54.2 267.1 55.7 266.9 57.9 268.7 60.6 265.5 63.0 267.2 64.3 266.1 67.0 268.8 67.7 267.9 70.5 270.6 71.2 276.1 70.2 272.7 74.3 269.2 78.7 272.1 79.2 276.8 79.6 275.0 81.0 272.8 82.0 271.2 83.6 270.3 85.7 269.2 87.7 267.9 89.6 262.1 86.5 263.8 91.9 261.3 92.5 259.8 94.2 258.6 96.4 263.4 102.5 258.8 101.8 260.4 105.4 255.7 104.7 252.5 105.1 251.5 107.0 249.8 108.2 247.5 108.4 245.6 109.6 242.6 107.3 241.1 110.1 239.1 111.4 237.7 111.0 234.1 111.5 230.8 111.5 228.8 109.0 226.9 106.4 224.9 104.5 223.6 102.4 221.3 101.1 219.5 99.4 214.3 97.2 219.0 105.3 213.4 102.5 212.7 104.9 209.6 104.9 208.9 108.5 209.8 111.2 210.0 114.0 203.4 116.8 206.2 119.6 204.5 122.4 208.6 125.1 204.3 129.3 206.7 131.5 211.3 133.0 206.7 137.0 212.0 138.3 212.9 140.8 214.5 143.1 217.8 143.9 220.5 146.4 225.5 146.9 223.4 150.2 222.1 153.7 221.4 156.8 220.9 159.8 222.4 162.7M340.0 51.7 342.0 50.5 344.5 52.2 346.2 49.5 348.8 51.2 350.4 48.5 352.4 48.4 353.7 49.1 354.9 50.4 356.5 50.6 358.3 50.2 359.8 50.6 363.1 46.2 362.6 51.8 363.7 52.4 366.6 52.1 368.0 49.9 367.0 44.6 371.4 47.4 371.9 50.5 374.8 46.0 374.5 52.4 377.1 48.4 378.4 48.9 379.2 51.8 380.0 54.9 382.5 50.1 384.3 48.2 385.8 47.6 386.9 49.6 388.1 50.8 389.3 51.6 390.5 53.2 392.1 51.3 393.5 51.6 395.1 48.0 396.3 52.0 398.3 52.5 400.1 51.6 400.5 43.9 403.8 50.0 407.0 55.3 405.9 48.3 405.7 46.0 412.8 48.2 410.9 44.9 411.7 43.3 412.2 41.5 412.7 40.6 408.5 41.4 412.0 39.4 411.9 38.7 411.3 38.2 413.0 37.0 411.0 36.9 411.4 36.1 409.2 36.1 412.4 34.4 410.8 34.2 409.8 33.8 407.2 33.8 409.0 33.1 406.9 34.7 408.9 30.8 407.7 31.2 404.3 34.4 405.8 31.3 405.4 30.5 405.6 29.2 400.9 33.5 403.9 28.9 402.4 29.4 401.9 28.8 402.2 27.4 401.8 26.7 401.5 25.9 400.5 25.8 401.2 23.6 397.1 28.1 398.1 25.0 398.3 23.2 397.0 23.5 397.3 21.7 392.3 26.8 397.9 18.1 394.7 20.7 393.8 20.3 396.6 15.6 392.6 19.0 392.1 18.1 393.1 15.7 392.8 14.7 388.0 18.5 390.4 14.6 385.2 18.6 388.0 14.5 386.6 14.5 386.2 14.3 384.6 13.4 383.2 11.9 381.4 11.6 379.5 11.7 377.8 11.1 374.7 13.8 375.0 8.4 372.5 9.5 371.7 6.9 370.0 7.3 368.2 8.2 364.8 6.8 365.2 10.9 363.8 12.3 361.2 12.2 360.1 14.0 357.8 14.1 357.1 15.8 353.0 14.4 359.1 22.1 353.1 19.1 353.6 21.7 350.6 21.5 350.6 23.7 348.2 25.2 345.7 26.8 343.6 28.7 341.1 30.6 340.3 31.8 341.7 33.3 341.2 34.6 339.9 35.7 340.6 37.1 340.4 38.4 339.9 39.7 340.1 41.1 338.6 42.3 341.8 43.8 342.0 45.1 335.5 46.3 335.6 47.6 339.0 49.1 339.8 50.4M303.3 265.3 305.3 263.1 307.7 261.4 309.4 258.8 312.6 258.0 314.8 256.2 316.9 254.1 323.4 257.5 319.0 247.4 326.8 252.2 325.0 245.5 328.3 244.8 327.4 239.3 336.8 245.7 335.8 242.8 338.8 239.8 339.0 230.1 344.6 233.9 348.0 232.4 350.8 229.5 354.7 229.1 357.2 226.5 361.2 228.7 361.4 219.8 365.9 223.2 370.1 225.6 373.0 224.5 375.2 221.8 378.0 221.8 380.8 221.7 381.5 214.4 385.3 218.2 387.5 216.5 392.3 222.8 391.6 212.5 393.8 211.1 398.3 216.1 400.6 214.6 400.8 208.6 404.8 211.1 408.6 212.8 410.7 211.0 413.0 209.6 414.1 206.2 413.6 199.8 419.7 205.5 424.6 208.8 423.9 202.4 422.3 195.0 428.4 199.9 429.7 197.5 430.0 194.8 428.8 191.7 425.3 188.2 437.1 188.1 438.3 185.6 428.8 180.7 433.4 179.1 432.3 175.6 435.2 174.8 439.5 174.8 436.2 170.1 446.6 173.7 440.5 167.4 441.6 165.4 444.4 164.3 444.1 161.6 444.8 159.4 453.1 159.3 446.9 154.5 455.4 154.3 442.9 147.6 449.0 146.7 451.2 144.5 450.2 141.4 451.3 138.9M231.5 164.2 234.9 165.3 237.8 165.3 238.6 162.1 240.9 161.2 242.9 159.8 244.8 158.7 248.1 164.9 250.3 162.7 253.3 164.6 254.3 155.4 257.0 156.7 257.9 147.1 261.8 154.0 264.7 155.3 267.2 154.4 270.0 154.5 272.2 151.9 275.6 153.2 267.5 146.2 284.5 148.2 281.0 142.7 273.1 136.4 281.1 134.8 282.3 131.5 283.5 128.2 279.5 122.5 285.7 121.2 294.4 121.4 283.8 111.6 287.9 109.5 292.3 107.7 294.2 105.5 295.3 103.0 296.7 100.6 295.3 97.3 301.1 96.6 298.5 92.8 296.5 89.7 301.0 88.3 298.1 85.5 299.6 83.5 309.0 83.6 303.4 80.0 301.7 77.3 303.0 75.5 301.9 72.9 306.1 72.0 305.8 69.7 305.0 67.3" fill="none" stroke="#000" stroke-width="1.2" stroke-linejoin="round"/><path d="M504.1 435.2 506.7 433.9 508.7 431.4 510.0 429.5 512.5 429.8 514.7 429.5 516.9 429.4 518.1 427.2 520.2 427.0 523.7 425.4 527.6 425.5 530.9 423.0 534.9 423.8 539.3 425.9 541.9 420.8 545.8 420.7 546.9 417.1 550.6 418.1 553.0 416.8 555.6 415.3 553.9 414.0 552.4 412.3 549.3 411.0 551.4 410.0 552.0 407.9 554.6 407.1 554.4 404.9 554.0 402.8 553.6 400.8 554.2 398.7 554.3 394.0 551.4 395.7 548.9 395.2 546.3 394.6 542.9 395.3 542.5 392.8 542.8 389.9 539.9 388.7 541.1 385.4 538.5 384.3 536.7 382.8 535.4 381.0 534.7 378.7 532.8 376.9 530.3 375.8 528.0 374.2 527.5 372.1 523.8 372.0 524.8 369.1 524.7 366.8 523.7 363.9 520.1 364.3 517.9 364.5 515.0 360.4 518.8 360.1 518.4 357.8 520.3 356.0 520.0 353.7 521.2 351.8 520.9 349.7 523.0 347.8 518.0 345.3 522.0 344.9 518.7 346.2 514.8 344.8 511.7 345.9 510.6 343.5 508.9 341.9 511.2 340.7 512.1 338.8 512.6 336.5 513.4 335.1 510.3 334.7 507.4 335.0 504.5 335.0 500.8 335.2 499.9 337.1 499.6 339.1 498.5 340.9 497.8 342.9 497.8 344.9 498.0 347.2 497.5 349.5 496.7 351.8 497.8 354.0 498.6 356.1 499.7 358.2 497.5 360.1 497.3 362.1 498.3 364.0 499.1 366.0 499.1 368.4 500.7 370.1 503.0 371.7 504.3 373.9 504.6 377.2 508.1 378.3 511.5 379.6 518.0 378.5 518.9 380.9 517.3 385.0 518.5 386.8 520.0 389.0 519.4 391.4 520.3 394.6 516.6 393.8 513.2 394.9 510.4 395.9 510.5 398.9 510.5 401.9 510.5 404.1 509.0 405.9 507.6 407.9 507.2 409.9 507.8 412.5 507.1 415.9 509.1 415.5 511.3 412.6 513.2 415.4 515.5 414.7 517.5 415.3 519.1 417.2 522.6 420.0 517.7 418.6 514.1 420.2 513.5 422.1 513.5 424.2 512.7 426.1 513.8 430.0 509.8 429.8 507.0 430.8 508.0 435.3 504.1 435.3M473.0 418.7 474.9 417.8 476.5 416.2 478.7 416.0 480.8 415.5 482.6 414.4 484.7 414.1 486.9 413.7 488.7 412.1 490.2 409.3 493.2 411.4 495.0 409.6 497.5 409.7 498.5 407.6 497.7 405.3 497.9 403.2 497.9 401.0 496.2 398.6 498.4 396.8 498.4 394.7 498.2 392.7 499.7 390.4 496.4 388.0 499.0 387.1 499.2 385.0 499.8 383.0 504.3 379.7 499.9 379.2 500.1 376.2 497.4 374.9 493.6 372.5 488.3 372.8 486.9 375.6 485.6 378.4 483.6 380.6 481.1 382.3 478.8 383.6 476.2 384.3 474.0 385.7 471.0 386.9 472.4 389.1 469.0 390.8 471.3 393.1 470.9 395.1 472.3 397.0 471.7 399.8 474.0 401.3 474.7 402.9 474.5 405.5 472.4 406.4 471.2 408.2 470.0 409.9 468.9 411.2 469.5 413.3 470.3 415.3 471.8 416.8 472.9 418.5M173.3 289.6 174.5 287.8 171.2 282.9 177.4 284.6 179.5 283.4 180.2 281.4 180.9 278.7 182.9 277.5 184.4 275.7 185.3 274.6 183.0 272.6 185.7 270.1 186.2 267.9 184.9 265.8 185.2 263.6 189.9 264.5 185.4 257.7 188.9 256.5 188.7 254.4 183.5 253.0 188.2 250.4 186.4 248.6 189.4 246.2 187.1 244.4 186.0 242.5 187.1 240.4 187.0 237.8 187.8 235.3 188.0 232.7 184.3 229.6 190.2 228.1 190.2 225.7 190.8 223.4 190.7 221.2 191.6 219.2 192.3 217.0 195.5 217.1 196.4 215.1 196.3 212.7 196.9 210.6 199.3 209.4 200.6 207.6 200.6 205.2 201.4 203.2 202.6 201.5 204.5 199.3 204.4 196.4 205.2 193.8 206.3 191.2 208.0 188.8 209.2 185.9 212.6 184.7 213.6 180.5 211.3 180.0 209.0 184.0 206.8 182.0 204.6 181.5 202.8 182.6 200.7 182.7 198.6 182.5 196.9 184.4 194.5 184.7 191.8 182.7 189.1 180.8 185.9 179.2 186.8 175.8 184.9 172.4 186.1 169.0 185.5 165.0 188.1 163.8 190.6 162.4 193.7 162.0 193.6 156.3 197.2 156.9 200.7 157.5 202.6 155.1 205.2 153.9 205.2 150.0 205.2 146.1 205.2 142.3 205.3 138.9 207.0 135.9 202.2 131.7 207.4 129.3 202.9 127.1 206.5 123.9 204.4 121.4 206.4 118.1 204.4 116.4 205.5 112.4 201.4 112.0 199.7 109.5 197.5 110.3 195.6 112.2 194.0 115.3 190.8 111.5 188.0 112.3 185.0 112.9 181.1 111.8 180.1 114.8 178.6 118.7 176.2 120.2 173.4 120.9 170.8 120.9 168.5 122.3 166.5 121.8 164.4 121.0 162.0 123.5 160.2 120.5 158.1 120.5 155.3 121.6 155.0 124.3 153.9 126.4 152.8 128.6 151.5 130.6 150.4 132.5 150.0 136.8 148.0 138.9 144.4 139.2 141.6 139.6 139.4 140.8 137.4 140.9 135.3 139.4 133.2 138.5 131.2 135.1 129.2 139.7 124.7 142.4 124.9 138.4 124.0 135.9 122.9 133.8 122.6 130.7 118.5 132.5 116.7 131.4 115.1 129.8 113.1 131.1 111.3 132.6 109.2 133.9 104.9 131.8 107.7 140.1 104.5 140.2 103.0 143.7 96.7 137.9 95.2 141.5 92.9 142.1 90.8 141.8 88.6 141.9 86.5 142.7 84.4 141.6 82.1 144.0 79.7 143.0 78.2 139.3 75.6 136.7 75.2 133.4 74.4 129.7 79.3 130.7 81.0 129.2 84.4 129.1 84.5 126.1 87.0 125.1 87.0 122.0 89.9 121.3 90.4 118.4 92.9 118.3 93.3 112.8 97.0 116.2 99.6 116.5 101.8 115.5 104.8 114.2 104.7 111.9 105.3 109.8 105.6 107.7 105.7 105.5 104.6 102.9 108.6 101.9 103.6 98.1 107.6 97.1 106.4 94.5 113.3 93.6 106.8 89.5 111.0 86.5 109.9 82.9 112.3 79.7 109.6 75.8 111.9 72.6 113.3 68.9 112.3 64.1 116.9 61.9 117.7 58.0 120.1 54.8 118.8 49.2 123.2 49.7 125.4 48.6 125.4 46.1 127.8 45.2 129.5 43.9 131.0 42.4 131.3 40.0 132.0 38.0 135.3 37.9 134.4 33.6 137.4 33.2 137.8 30.1 140.4 29.4 142.3 28.0M189.3 219.9 191.5 219.1 188.4 213.6 194.8 216.4 194.0 212.9 197.8 213.4 194.3 209.4 198.4 208.9 200.0 207.3 201.7 205.8 199.1 202.1 203.7 201.9 209.7 201.2 204.0 196.2 207.0 194.5 207.8 192.3 203.5 185.6 211.0 187.2 212.8 184.9 213.6 181.7M553.3 290.4 553.1 285.8 552.2 281.0 554.9 278.0 560.0 277.6 555.7 270.8 567.1 274.7 556.5 265.2 558.3 262.0 560.5 259.0 567.5 257.9 568.0 254.1 566.4 251.5 568.0 249.7 568.1 247.5 574.2 246.4 572.1 243.8 571.8 241.4 571.3 238.4 577.2 235.4 571.3 232.5 570.2 229.5 578.4 228.5 577.8 226.1 571.6 223.2 575.5 221.5 573.0 219.2 572.9 216.6 569.9 215.6 564.5 215.6 568.2 211.5 566.3 208.0 572.1 207.5 566.6 202.3 571.5 201.4 579.5 201.4 574.3 196.7 573.7 193.6 574.7 191.0 579.5 190.8 570.5 183.9 569.6 181.0 574.0 178.4 580.0 181.0 583.3 181.3 580.4 176.3 580.4 173.9 586.8 176.0 585.5 173.1 587.2 171.4 586.9 168.9 588.0 167.0 588.1 164.8 590.3 163.2" fill="none" stroke="#000" stroke-width="1.1" stroke-linejoin="round"/><path d="M544.6 511.8 550.4 513.5 556.1 515.1 562.0 516.7 566.7 517.1 571.5 517.5 576.2 517.9 581.4 517.3 586.6 516.6 591.9 515.9M481.8 535.2 487.4 534.7 493.0 534.1 498.6 533.5 505.4 538.2 503.4 545.3 501.4 552.4 497.0 564.1 500.5 575.5 499.9 584.6 497.2 595.1M564.1 413.7 569.5 417.4 573.7 418.8 578.0 420.2 583.8 424.9 588.0 425.6 592.2 426.4 599.9 427.9 605.9 427.4 611.8 426.8 612.1 435.5 612.3 444.2 608.0 446.8 606.3 454.2 604.5 461.7 612.5 461.9 613.5 465.5 613.8 475.6 624.6 483.9 625.2 488.9M589.7 380.5 590.9 386.8 592.0 393.2 589.2 396.5 586.4 399.7 588.9 408.8 593.3 416.2 596.7 425.1M569.9 408.8 573.6 408.5 577.3 408.2 580.6 406.2 583.8 404.1 589.0 406.3M593.6 361.0 597.7 359.7 601.8 358.2M632.1 356.2 634.6 362.7 637.1 369.2 641.4 373.7 645.8 378.2 651.0 386.2M651.0 386.2 647.9 390.2 644.7 393.2 641.5 396.1 638.2 399.1 634.9 402.0 639.6 406.6 644.4 411.1 649.6 413.4 654.9 415.7 651.8 424.8 652.6 431.0 647.9 432.5 643.2 433.9 638.5 435.3 633.4 437.8 628.2 440.3 624.1 441.1 620.1 441.8 616.2 443.0 612.3 444.2M628.2 440.3 637.6 444.7 636.5 451.5 632.6 455.5 628.6 459.4 623.6 461.5 618.6 463.5 613.5 465.5M637.6 444.7 642.0 443.0 646.4 441.4 650.8 439.6 655.1 439.2 659.4 438.7 663.7 438.2 671.1 436.3 675.4 431.7 679.6 427.0 679.1 416.5 680.6 410.4 677.2 405.4 669.7 406.3 666.3 409.3 662.9 412.2 658.9 414.0 654.9 415.7M662.8 335.7 665.9 334.0 668.9 332.3 671.9 330.5 674.9 328.7 677.8 326.9 680.8 325.0 688.5 327.0 693.8 333.2 699.2 339.5 701.8 344.8 704.4 350.1 709.2 354.7 714.0 359.3 714.1 369.2 714.0 379.2 710.1 380.5 706.1 381.8 702.1 383.1 698.1 384.3 694.2 385.5 689.5 386.7 684.9 387.9 679.5 387.6 674.1 387.3 668.8 386.9 664.6 387.3 660.4 387.7 656.2 388.0 652.0 388.3M677.2 405.4 680.0 401.3 682.7 397.1 685.4 388.9M680.6 410.4 684.7 409.6 688.9 408.9 693.0 408.0 695.6 404.3 698.2 400.6 700.7 396.9 704.0 394.3 707.3 391.7 710.6 389.0 713.9 386.3 721.8 387.0 722.3 394.6 722.7 402.2 720.3 407.4 717.9 412.6 715.4 417.8 712.5 421.3 709.6 424.8 706.7 428.2 702.7 429.9 698.8 431.5 694.8 433.1 684.7 429.9 679.6 427.0M721.8 387.0 726.5 384.9 731.2 382.8 735.9 380.6 739.7 377.8 743.4 375.2 747.1 372.5 754.5 373.6 762.0 374.5 768.5 380.4 772.6 385.0 776.7 389.6 782.2 388.1 787.7 386.5M747.1 372.5 748.9 368.6 750.7 364.7 756.2 365.4 761.9 366.0 767.5 366.5 779.5 371.5 776.7 374.9 773.9 378.3 776.7 389.6M715.4 417.8 722.0 418.9 728.6 420.0 735.1 422.5 741.7 424.9 747.2 430.2 752.7 428.1 758.3 426.0 762.5 423.7 766.7 421.3 770.8 419.4 774.2 415.9 777.6 412.3 780.9 408.8 786.3 406.8 791.7 404.7M684.7 429.9 684.9 438.0 681.5 444.9 687.5 445.5 693.6 446.0 697.3 443.9 701.1 441.7 704.8 439.5 708.6 437.2 712.3 435.0 716.7 440.3 721.1 445.6 722.9 451.7 724.7 457.8 730.1 462.0 736.5 462.0 742.9 461.9 748.2 469.1 754.0 471.6 758.1 467.2 762.1 462.7 766.0 458.3 766.3 455.1 769.9 452.0 773.5 448.9 777.1 445.8 780.6 442.6 786.0 439.4 791.4 436.1 795.5 431.2 799.6 426.3M747.2 430.2 754.0 437.6 756.3 448.0 761.1 453.2 766.0 458.3M730.1 462.0 737.2 459.4 742.9 461.9M791.4 436.1 794.2 446.2M704.4 350.1 707.4 345.3 710.3 340.5 713.6 339.4 717.0 338.3 720.4 337.1 723.7 335.9 727.1 334.7 730.1 333.0 733.1 331.4 736.1 329.6 739.1 327.9 742.0 326.1 745.0 324.3 745.5 318.2 746.0 312.1 749.6 310.4 753.1 308.7 756.6 307.0 766.8 310.9 774.0 311.9 781.2 312.7 784.3 310.9 787.5 309.1 790.6 307.3 793.7 305.4 796.9 303.5 800.5 302.0 804.2 300.6 807.8 299.1 811.5 297.5 815.5 301.9 819.5 306.3 819.0 310.7 818.5 315.2 817.9 319.7 824.5 326.7M688.5 327.0 691.1 324.8 693.8 322.6 696.4 320.3 696.1 311.2 694.3 300.3 696.7 298.1 699.0 295.8 701.2 293.6 697.9 290.2 691.0 285.1 685.4 280.5 683.0 275.4 679.1 268.5 675.2 261.7M666.8 321.4 666.5 310.8 668.9 308.6 671.2 306.3 673.5 304.0 675.8 301.7 678.0 299.3 681.1 298.2 684.1 297.4 687.2 296.5 694.3 300.3M680.8 325.0 678.3 319.8 674.4 320.4 670.6 320.9 666.8 321.4M656.6 298.2 659.1 295.6 661.6 293.0 664.1 290.4 666.6 287.8 669.7 286.3 672.9 285.0 676.1 283.9 679.2 282.8 682.3 281.7 685.4 280.5M701.2 293.6 704.1 292.0 707.0 290.5 709.9 288.9 712.7 287.2 715.5 285.6 719.5 289.8 723.5 294.0 728.3 294.8 733.1 295.6 738.0 296.3 743.7 303.6 746.0 312.1M666.8 250.2 667.1 246.0 667.3 241.9 667.5 237.9 667.7 233.8 666.7 228.3 665.7 222.8 664.7 217.4 659.7 216.3 654.8 215.1 650.0 213.8 646.9 209.2 643.7 204.6 640.4 200.2 637.1 195.9 632.7 191.4 628.4 187.0 624.0 182.6 619.0 179.6 614.1 176.6 610.7 171.0 607.2 165.4M617.9 212.9 611.5 207.9 607.7 202.5 604.0 197.2 601.2 196.6 598.4 196.1 595.6 195.5 592.9 194.8 590.2 194.2 586.6 191.2M586.6 191.2 588.7 189.4 590.7 187.5 593.8 187.7 596.9 187.9 599.9 188.1 600.9 185.3 601.8 182.4 602.7 179.6 602.2 174.6 601.6 169.7 603.5 168.3 605.4 166.9 607.2 165.4M594.0 310.0 594.9 303.6 595.7 297.2 593.6 292.0 591.5 286.8 588.6 281.9 585.8 277.0 583.5 271.9 581.2 266.9 582.5 262.4 583.7 257.9 584.7 253.4 583.6 247.9 582.5 242.3 580.9 237.0 579.3 231.8 579.8 225.5 580.2 219.2 579.7 213.4 579.2 207.6 580.6 205.3 581.9 202.9 583.3 200.6 584.4 197.5 585.6 194.3 586.6 191.2M909.1 424.9 914.7 420.6 920.1 416.2 922.9 412.0 925.6 407.7 928.3 403.5 930.9 399.2 933.5 395.0 937.7 390.4 941.8 385.7 945.9 381.1 949.3 376.2 952.5 371.3 955.7 366.4 958.8 361.4 952.0 359.5 945.3 357.5 939.8 353.0 934.4 348.5 923.5 349.6 917.6 345.7 911.8 341.9 906.9 343.8 902.0 345.6 895.7 350.7M868.0 345.6 872.0 343.5 875.9 341.3 879.9 339.1 883.9 336.8 887.8 334.5 891.7 332.2 895.7 329.8 899.9 327.6 904.2 325.4 908.4 323.1 912.6 320.8 916.8 318.4 921.0 316.0 925.7 313.9 930.4 311.7 935.1 309.5 931.7 301.1M911.8 341.9 914.3 338.2 916.7 334.5 919.2 330.8 919.8 325.9 920.5 320.9 921.0 316.0M923.5 349.6 928.2 346.4 932.7 343.2 937.3 339.8 941.8 336.5 946.3 333.1 950.9 330.5 955.4 327.9 959.9 325.3M909.1 424.9 911.6 431.5 914.1 438.2 921.0 442.7 927.9 447.2 931.6 453.8 935.3 460.5 933.6 469.3M945.9 381.1 948.0 389.6 950.0 398.3 954.2 403.5 958.5 408.7 962.7 414.0 965.2 422.2 967.6 430.5 969.5 439.3 971.4 448.2 976.8 448.5M933.6 469.3 939.7 469.3 946.9 467.3 954.2 465.1 955.4 458.8 956.6 452.4 957.7 446.1 958.7 439.8M857.0 551.4 860.9 557.7 864.7 564.0 868.6 570.3 872.6 576.1 876.6 581.9 880.6 587.7 884.7 593.6 888.7 599.5 892.8 605.4 896.9 611.4 901.1 617.4 905.2 623.4 909.4 629.5 913.6 635.6 917.8 641.7 922.1 647.9 926.3 654.0 930.6 660.3 934.9 666.6 939.3 672.9 943.7 679.2 948.1 685.6 952.5 692.0 948.6 699.4 944.6 706.8M708.4 605.4 704.9 615.4 701.2 625.5 701.1 634.4 700.8 643.2 700.6 652.2M700.6 652.2 703.8 658.9 707.1 665.6 710.4 672.4 713.7 679.2 717.1 686.0 720.5 692.9 723.9 699.8 731.0 705.0 738.3 710.1 745.6 715.3 753.0 720.3 760.5 725.4 759.4 733.9 769.9 737.8 780.5 741.7 791.2 745.5 802.1 749.1 810.1 754.0 818.2 758.9 826.5 763.7 834.8 768.5M661.6 568.3 662.1 575.0 662.7 581.8 663.0 588.6 663.3 595.5 663.5 602.5 664.5 609.2 665.4 616.0 666.3 622.8 672.2 628.1 678.1 633.4 685.5 639.7 693.0 646.0 700.6 652.2M554.7 618.1 558.4 625.1 562.2 632.0 565.0 638.4 567.8 644.9 570.7 651.4 563.7 655.8 556.7 660.2 550.1 664.4 543.5 668.6 536.9 673.8 530.2 679.1 523.4 684.2 517.6 688.1 511.8 691.9 505.9 695.7 499.9 699.5 492.7 705.4 485.4 711.2 485.5 718.3 485.6 725.4M485.6 725.4 479.3 725.5 473.0 725.5 466.6 725.5 460.3 725.4 453.9 725.2 447.6 725.0 441.2 724.7 434.9 724.4 428.6 724.0M485.6 725.4 485.8 733.6 485.9 741.8 486.0 750.0 478.8 752.5 471.6 755.0 464.3 757.3 456.9 759.7 449.5 761.9 442.1 764.1 441.8 771.5 441.5 778.9 441.2 786.4 440.8 793.9 435.8 802.3 430.7 810.6 425.4 819.1 417.4 818.5 409.5 817.9 401.5 817.3 393.5 816.5 385.6 815.7 377.7 814.8 369.7 813.8M759.4 733.9 754.5 740.8 749.4 747.7 744.3 754.6 739.1 761.4 733.8 768.3 728.4 775.1 722.9 781.9 717.3 788.7 711.6 795.1 705.9 801.4 700.1 807.7 694.2 813.9 688.2 820.1 682.1 826.3 675.9 832.5 668.3 833.8 660.6 835.1 652.9 836.3 645.3 837.4 637.6 838.5 629.9 839.4 622.2 840.3 614.5 841.2 606.9 842.0 599.2 842.7 591.5 843.3 583.8 843.9 576.1 844.3 568.4 844.8 560.7 845.1 553.0 845.4 545.3 845.6 544.6 837.8 544.0 830.0 543.3 822.3 542.7 814.6 542.1 807.0 541.4 799.4 540.8 791.9 540.2 784.4 539.6 776.9 538.9 769.5 538.3 762.1 530.5 757.9 522.8 753.6 515.2 749.2 507.7 744.8 500.3 740.3 493.0 735.8 485.7 731.2M966.0 507.0 958.4 502.5 950.8 498.0 943.3 493.5M966.0 507.0 969.8 513.1 973.5 519.2 977.3 525.4 986.8 526.5 996.4 527.5 1005.0 529.4 1013.6 531.3 1022.3 533.1 1031.1 534.9 1039.5 537.0 1048.1 539.0 1056.7 541.0 1065.3 542.9 1074.1 544.7 1082.9 546.5M928.7 507.6 934.7 513.4 940.8 519.3 940.8 521.0 949.8 525.2 958.9 529.2 968.1 533.3 977.5 530.8 973.7 522.8 969.9 514.9 966.0 507.0M934.9 666.6 940.8 662.9 946.5 659.2 952.3 655.5 958.0 651.7 963.6 647.8 969.3 643.9 974.9 640.0 980.4 636.0 985.9 632.0 991.4 627.9 996.9 623.8 1002.2 619.6 1007.6 615.3 1013.3 610.7 1019.0 606.1 1024.7 601.3 1030.3 596.5 1035.8 591.7 1041.3 586.8 1046.8 581.9 1052.2 576.9 1057.5 571.9 1062.8 566.8M791.7 404.7 786.3 406.8 780.9 408.8M787.7 386.5 782.2 388.1 776.7 389.6" fill="none" stroke="#000" stroke-width="0.9" stroke-linejoin="round"/>
<path d="M0.0 24.0 3.8 25.5 7.5 27.1 11.2 28.4 15.0 29.0 18.6 28.6 22.2 27.5 25.9 26.1 30.0 25.0 34.9 24.1 40.3 23.2 45.6 22.4 50.0 22.0 53.3 21.6 55.8 21.4 57.9 21.7 60.0 23.0 61.9 25.7 63.6 29.5 65.2 33.8 67.0 38.0 68.9 42.0 70.8 46.2 72.8 50.5 75.0 55.0 77.5 60.1 80.2 65.6 82.8 70.8 85.0 75.0 86.2 77.8 86.8 79.8 87.7 81.0 90.0 82.0 94.4 82.4 100.2 82.3 106.4 82.0 112.0 82.0 116.9 82.3 121.5 82.6 125.9 83.2 130.0 84.0 133.7 85.2 137.1 86.8 140.5 88.4 144.0 90.0 147.9 91.5 151.9 93.1 156.0 94.6 160.0 96.0 163.8 97.3 167.5 98.4 171.2 99.4 175.0 100.0 179.2 100.2 183.6 100.2 187.7 99.8 191.0 99.0 193.2 97.8 194.5 96.2 195.6 94.2 197.0 92.0 198.9 89.4 200.9 86.3 203.0 83.1 205.0 80.0 206.8 77.1 208.5 74.2 210.2 71.3 212.0 68.0 214.0 64.1 216.2 59.9 218.3 55.7 220.0 52.0 221.2 49.1 222.2 46.6 222.8 44.3 223.0 42.0 222.8 39.7 222.3 37.4 221.4 35.2 220.0 33.0 218.0 30.9 215.4 28.8 212.7 26.8 210.0 25.0 207.4 23.5 204.7 22.1 202.1 21.0 200.0 20.0 198.4 19.3 197.2 18.8 196.1 18.4 195.0 18.0M100.0 18.0 99.6 20.6 99.1 23.2 98.8 25.7 99.0 28.0 99.8 30.0 101.1 31.9 102.8 33.5 105.0 35.0 107.7 36.3 110.8 37.4 114.3 38.3 118.0 39.0 122.0 39.6 126.4 39.9 130.8 40.1 135.0 40.0 139.1 39.7 143.2 39.1 147.0 38.3 150.0 37.0 152.1 35.1 153.6 32.8 154.5 30.3 155.0 28.0 154.8 25.8 153.9 23.6 152.9 21.6 152.0 20.0 151.4 19.1 150.9 18.6 150.5 18.4 150.0 18.0M0.0 58.0 3.0 59.0 5.9 60.1 8.9 61.1 12.0 62.0 15.1 62.7 18.2 63.1 21.4 63.8 25.0 65.0 29.1 66.8 33.7 69.1 38.1 71.8 42.0 75.0 44.9 79.2 47.2 84.2 49.5 89.1 52.0 93.0 55.0 95.5 58.2 97.2 61.5 98.6 65.0 100.0 68.5 101.7 72.1 103.5 75.9 105.0 80.0 106.0 84.8 106.1 90.0 105.6 95.3 105.0 100.0 104.6 104.0 104.6 107.6 104.8 111.1 105.1 114.6 105.3 118.3 105.4 122.1 105.4 125.8 105.6 129.2 106.0 132.4 106.8 135.3 107.8 138.2 109.0 140.9 110.4 143.5 112.0 146.0 113.9 148.5 115.8 151.0 117.7 153.6 119.4 156.2 121.1 158.8 122.9 161.3 125.0 163.6 127.6 165.8 130.7 168.0 133.8 170.0 136.7 172.0 139.5 173.9 142.2 175.7 144.8 177.4 147.0 178.7 148.8 179.8 150.2 181.1 151.5 183.0 153.0 186.0 155.0 189.8 157.3 193.6 159.2 197.0 160.0 199.7 159.2 202.0 157.3 204.3 154.9 206.6 152.8 209.1 150.9 211.8 149.1 214.3 147.2 216.8 145.5 219.1 144.0 221.4 142.6 223.6 141.2 225.5 139.6 227.2 137.7 228.7 135.6 230.1 133.4 231.4 130.9 232.6 128.3 233.8 125.4 234.8 122.4 235.8 119.2 236.6 115.6 237.1 111.6 237.8 107.8 238.7 104.6 239.9 102.4 241.3 100.8 242.9 99.2 245.0 97.0 247.6 94.1 250.6 90.7 253.8 87.0 257.0 83.0 260.3 78.4 263.9 73.4 267.2 68.4 270.0 64.0 272.2 60.5 274.1 57.4 275.4 54.7 276.0 52.0 275.8 49.3 275.0 46.6 273.7 44.2 272.0 42.0 270.1 40.3 267.8 38.9 265.1 37.5 262.0 36.0 258.2 34.2 253.9 32.2 249.4 30.2 245.0 28.0 240.8 25.6 236.5 23.1 232.2 20.5 228.0 18.0M0.0 158.8 2.5 158.9 5.0 159.0 7.5 159.2 10.0 160.0 12.6 161.3 15.2 163.0 17.7 165.1 20.0 167.5 22.0 170.3 23.8 173.6 25.5 176.9 27.5 180.0 29.8 182.9 32.2 185.6 34.8 188.1 37.5 190.0 40.5 190.9 43.8 191.1 47.0 191.3 50.0 192.5 52.8 194.9 55.5 198.1 57.9 201.6 60.0 205.0 61.5 208.1 62.7 211.1 63.7 214.2 65.0 217.5 66.7 221.0 68.6 224.7 70.6 228.5 72.5 232.5 74.4 236.8 76.4 241.4 78.3 245.9 80.0 250.0 81.4 253.4 82.7 256.4 83.8 259.3 85.0 262.5 86.1 266.4 87.0 270.7 88.2 274.8 90.0 278.3 92.8 281.0 96.2 283.1 99.9 284.9 103.3 286.7 106.4 288.5 109.5 290.2 112.4 291.8 115.0 293.3 117.1 294.7 118.7 296.1 120.5 297.2 123.0 298.0 126.4 298.6 130.4 299.0 134.7 298.9 139.0 298.0 143.6 296.0 148.5 293.1 152.9 290.0 156.0 287.0 157.2 284.3 157.1 281.6 156.4 279.0 155.8 276.7 155.2 274.8 154.4 273.1 153.7 271.6 153.3 270.0 153.3 268.3 153.5 266.5 154.0 264.9 155.0 263.3 156.6 261.9 158.7 260.7 161.1 259.5 163.3 258.3 165.6 257.1 167.9 256.0 170.1 254.8 171.7 253.3 172.7 251.5 173.1 249.4 173.3 247.2 173.3 245.0 173.1 242.9 172.5 240.9 172.0 238.8 171.7 236.7 171.8 234.6 172.2 232.5 172.7 230.4 173.3 228.3 174.0 226.2 175.0 224.1 175.9 222.1 176.7 220.0 177.3 218.1 177.9 216.2 178.4 214.3 179.0 212.0 179.8 209.3 180.7 206.2 181.5 203.0 181.8 200.0 181.5 197.3 180.7 194.6 179.8 192.0 178.8 189.3 177.9 186.4 176.8 183.3 175.7 180.3 174.5 177.6 173.1 175.2 171.6 173.0 170.0 170.9 168.6 168.8 167.4 166.6 166.3 164.4 165.3 162.2 164.2 160.0 163.2 157.8 162.1 155.6 161.1 153.4 159.9 151.3 158.6 149.4 157.1 147.7 155.6 145.9 154.0 144.0 152.3 141.9 150.6 139.7 148.8 137.4 146.7 135.3 144.4 133.3 141.8 131.3 139.1 129.5 136.5 128.0 134.1 126.7 131.7 125.6 129.2 124.8 126.3 124.3 122.9 124.1 119.1 124.3 115.2 124.7 111.7 125.0 108.5 125.1 105.6 125.1 102.7 125.4 100.0 126.5 97.4 128.7 95.0 131.7 92.5 134.8 90.0 137.5 87.5 139.5 84.9 141.2 82.2 142.7 79.0 144.0 75.1 145.2 70.8 146.3 66.3 147.0 62.0 147.0 57.8 146.0 53.5 144.3 49.5 142.2 46.0 140.0 43.2 137.8 40.9 135.3 38.9 132.7 37.0 130.0 35.1 127.0 33.4 123.8 31.8 120.6 30.0 117.5 28.2 114.3 26.3 111.1 24.3 108.2 22.0 106.0 19.2 104.8 16.1 104.4 13.0 104.2 10.0 104.0 7.4 103.6 4.9 103.2 2.5 102.9 0.0 102.5M123.0 268.0 119.1 267.4 114.0 265.6 108.8 262.9 105.0 260.0 103.3 256.6 102.8 252.6 102.5 248.6 101.7 245.0 99.8 242.3 97.4 240.0 95.0 237.7 93.3 235.0 92.4 231.6 91.9 227.8 91.8 223.9 91.7 220.0 91.7 216.4 91.8 213.0 92.1 209.3 92.5 205.0 92.9 199.7 93.5 193.6 94.2 187.6 95.0 182.5 96.1 178.9 97.4 176.2 98.7 173.5 100.0 170.0 101.1 164.9 102.1 158.8 103.1 152.9 104.4 148.4 106.0 145.8 107.7 144.4 109.6 143.5 111.7 142.6 114.0 141.5 116.6 140.4 119.3 139.6 121.9 138.9 124.5 138.4 127.1 138.0 129.6 137.8 132.1 138.2 134.5 139.2 136.8 140.6 138.9 142.3 140.9 144.0 142.6 145.7 144.0 147.5 145.3 149.3 146.7 151.3 148.2 153.3 149.7 155.4 151.1 157.6 152.6 160.0 154.1 162.7 155.6 165.7 157.1 168.8 158.4 171.8 159.7 174.6 160.9 177.3 161.9 180.2 162.8 183.4 163.4 187.3 163.8 191.7 164.1 196.1 164.2 200.0 164.1 203.4 163.9 206.4 163.5 209.2 163.0 212.0 162.4 214.7 161.8 217.2 161.0 219.6 160.0 222.0 158.8 224.4 157.5 226.8 155.9 229.0 154.0 231.0 151.6 232.7 148.9 234.1 146.1 235.4 143.3 236.7 140.6 238.0 137.8 239.2 135.2 240.5 133.0 242.0 131.2 243.8 129.6 245.8 128.4 247.9 127.5 250.0 127.1 252.0 127.2 253.9 127.3 255.9 127.0 258.0 126.6 260.8 126.1 264.0 125.1 266.7 123.0 268.0M117.5 155.0 118.9 153.4 120.8 152.4 122.9 151.9 125.0 151.5 127.0 151.2 129.0 151.2 131.1 151.4 133.0 152.0 134.9 153.0 136.7 154.2 138.4 155.8 140.0 157.5 141.4 159.3 142.7 161.4 143.8 163.6 145.0 166.0 146.2 168.6 147.5 171.4 148.6 174.4 149.6 177.6 150.4 181.0 151.1 184.7 151.7 188.4 152.0 192.2 152.3 196.2 152.5 200.4 152.3 204.3 151.5 207.5 149.9 210.0 147.6 211.9 145.0 213.2 142.5 214.0 140.1 214.2 137.6 213.8 135.0 212.7 132.5 211.0 129.9 208.4 127.2 205.0 124.6 201.2 122.5 197.5 120.8 193.9 119.5 190.1 118.4 186.3 117.5 182.5 116.8 178.7 116.3 174.8 116.1 171.1 116.0 167.5 116.0 164.0 116.2 160.5 116.6 157.4 117.5 155.0M0.0 205.0 2.6 205.4 5.3 205.8 7.9 206.3 10.0 207.5 11.6 209.4 12.8 211.9 13.9 214.6 15.0 217.5 16.4 220.4 18.0 223.6 19.3 226.8 20.0 230.0 19.7 233.2 18.6 236.4 17.6 239.6 17.5 242.5 18.6 245.2 20.3 247.7 22.5 250.1 25.0 252.5 27.8 254.9 31.1 257.2 34.4 259.6 37.5 262.0 40.3 264.5 42.9 266.9 45.5 269.5 48.0 272.0 50.3 274.5 52.3 276.9 54.6 279.5 57.5 282.5 61.4 285.9 66.1 289.7 70.8 293.6 75.0 297.5 78.5 301.5 81.6 305.6 84.5 309.4 87.5 312.5 90.7 314.6 94.0 316.0 97.2 317.1 100.0 318.3 102.1 319.6 103.8 320.8 105.5 322.0 108.0 323.0 111.4 324.1 115.5 325.2 119.8 325.9 124.0 326.0 128.1 325.1 132.4 323.5 136.4 321.6 140.0 320.0 142.9 318.8 145.3 317.6 147.5 316.5 150.0 315.0 152.9 313.2 156.0 311.1 159.0 308.9 161.7 306.7 164.0 304.7 166.1 302.7 168.0 300.6 170.0 298.3 172.1 295.6 174.1 292.7 176.2 289.7 178.3 286.7 180.4 283.8 182.5 280.9 184.6 277.9 186.7 275.0 188.8 272.0 190.9 268.8 192.9 265.9 195.0 263.3 197.2 261.1 199.5 259.3 201.6 257.8 203.3 256.7 204.5 256.1 205.3 255.9 206.0 256.1 206.7 256.7 207.5 257.7 208.2 259.1 209.1 260.9 210.0 263.3 211.1 266.4 212.4 270.2 213.7 274.2 215.0 278.3 216.3 282.4 217.6 286.5 218.9 290.8 220.0 295.0 221.0 299.2 221.8 303.4 222.6 307.5 223.3 311.7 224.0 316.0 224.6 320.3 225.2 324.5 225.8 328.3 226.4 331.4 226.9 334.1 227.6 336.8 228.3 340.0 229.2 344.0 230.3 348.6 231.5 353.2 232.5 357.5 233.4 361.3 234.3 364.7 235.1 368.2 236.0 372.0 236.9 376.0 237.8 380.0 238.8 384.6 240.0 390.0 241.5 396.9 243.1 404.9 244.7 412.9 246.0 420.0 246.7 425.8 246.9 430.8 247.2 435.4 248.0 440.0 249.3 444.7 250.8 449.2 252.7 453.6 255.0 458.0 257.9 462.4 261.2 466.7 264.7 470.9 268.0 475.0 271.2 478.7 274.4 482.2 277.4 485.8 280.0 490.0 282.3 495.0 284.4 500.5 286.0 506.3 287.0 512.0 287.2 517.9 286.8 523.9 285.9 529.8 285.0 535.0 283.6 539.3 281.8 543.0 280.3 546.4 280.0 550.0 281.6 553.6 284.6 557.2 287.7 560.9 290.0 565.0 291.0 569.8 291.4 575.0 291.6 580.2 292.0 585.0 292.6 589.2 293.2 593.0 294.0 596.6 295.0 600.0 296.3 603.2 297.8 606.2 299.4 609.1 301.0 612.0M183.8 331.2 184.8 331.0 185.7 331.0 186.6 331.5 187.5 332.5 188.5 334.2 189.6 336.4 190.8 339.0 192.0 342.0 193.3 345.3 194.8 349.1 196.2 353.2 197.5 357.5 198.7 362.3 199.8 367.5 200.7 372.7 201.2 377.5 201.4 381.9 201.3 386.0 200.9 389.7 200.0 392.5 198.6 394.4 196.8 395.5 194.7 396.0 192.5 396.2 190.2 396.2 187.8 395.8 185.2 395.0 182.5 393.8 179.5 392.0 176.2 389.8 172.9 387.4 170.0 385.0 167.3 382.7 164.8 380.4 162.6 377.9 161.2 375.0 160.7 371.6 160.9 367.8 161.5 363.9 162.5 360.0 163.9 356.1 165.9 352.2 168.0 348.4 170.0 345.0 171.9 342.0 173.8 339.3 175.7 336.9 177.5 335.0 179.2 333.5 180.9 332.4 182.4 331.7 183.8 331.2M135.0 388.8 137.0 388.1 139.8 387.6 142.7 387.3 145.0 387.5 146.4 388.2 147.4 389.3 148.1 390.8 148.8 392.5 149.2 394.7 149.4 397.3 149.6 400.0 150.0 402.5 151.1 405.1 152.5 407.8 153.6 410.1 153.8 411.2 152.4 411.0 150.1 409.8 147.4 408.0 145.0 406.2 142.9 404.5 140.9 402.6 139.1 400.6 137.5 398.8 136.2 397.0 135.1 395.4 134.2 393.9 133.8 392.5 133.5 391.3 133.5 390.3 134.0 389.5 135.0 388.8M145.0 426.0 145.7 426.0 146.9 426.7 148.4 427.8 150.0 429.0 152.0 430.6 154.4 432.6 156.4 434.6 157.5 436.0 157.1 436.8 155.8 437.2 154.0 437.3 152.5 437.0 151.2 436.2 149.8 434.9 148.6 433.5 147.5 432.0 146.5 430.4 145.6 428.5 145.0 426.9 145.0 426.0M0.0 363.8 2.5 366.5 5.1 369.3 7.6 372.1 10.0 375.0 12.4 378.0 14.7 381.2 16.9 384.3 18.8 387.5 20.4 390.6 21.8 393.6 22.9 396.7 23.8 400.0 24.0 403.6 23.8 407.3 23.6 411.2 23.8 415.0 24.4 418.6 25.3 422.2 26.4 425.9 27.5 430.0 28.6 434.8 29.8 440.0 31.0 445.2 32.5 450.0 34.2 454.1 36.1 457.9 38.1 461.5 40.0 465.0 42.0 468.4 44.0 471.6 45.8 474.8 46.7 478.0 46.7 481.2 46.0 484.4 44.9 487.7 43.3 491.3 41.2 495.2 38.5 499.4 35.7 503.7 33.3 508.0 31.1 512.3 29.0 516.6 27.3 520.8 26.7 524.7 27.5 528.3 29.4 531.6 31.6 534.8 33.3 538.0 34.2 541.2 34.8 544.2 35.5 547.5 36.7 551.3 38.7 555.8 41.1 560.9 43.8 566.1 46.7 571.3 49.7 576.2 52.9 581.1 56.4 586.1 60.0 591.3 64.0 597.1 68.4 603.2 72.7 609.2 76.7 614.7 80.5 619.4 84.2 623.6 87.5 627.5 90.0 631.3 91.2 635.0 91.4 638.6 91.8 641.9 93.3 644.7 96.4 646.7 100.4 648.2 105.0 649.6 110.0 651.3 115.4 653.7 121.2 656.4 127.3 659.1 133.3 661.3 139.2 663.1 145.2 664.7 151.1 665.9 156.7 666.3 161.9 665.8 166.9 664.5 171.8 662.9 176.7 661.3 181.8 659.6 187.0 657.8 192.0 656.0 196.7 654.7 200.8 653.9 204.5 653.3 208.1 653.1 212.0 653.0 216.4 653.0 221.1 653.1 225.8 653.6 230.0 654.7 233.7 656.4 236.9 658.6 240.1 661.3 243.3 664.7 246.8 669.0 250.4 674.1 253.8 679.5 256.7 684.7 258.5 690.1 259.6 695.7 260.9 700.9 263.3 704.7 267.0 706.6 271.4 707.2 276.8 707.3 283.3 708.0 291.7 709.5 301.7 711.4 311.6 713.2 320.0 714.7 326.2 715.8 331.0 716.6 335.4 717.3 340.0 718.0 345.0 718.8 350.0 719.5 355.0 720.3 360.0 721.0M313.3 18.0 313.2 19.5 313.1 20.9 313.1 22.6 313.3 24.7 313.9 27.3 314.8 30.3 315.8 33.8 316.7 38.0 317.7 43.1 318.8 49.0 319.6 55.2 320.0 61.3 319.7 67.2 319.0 73.2 317.9 79.1 316.7 84.7 315.3 89.9 313.8 94.9 312.0 99.8 310.0 104.7 307.8 109.8 305.4 114.9 302.8 119.9 300.0 124.7 297.1 129.2 294.0 133.4 290.6 137.5 286.7 141.3 281.9 144.9 276.5 148.2 271.2 151.4 266.7 154.7 263.5 158.0 261.1 161.1 259.0 164.4 256.7 168.0 254.1 171.9 251.5 175.9 249.0 180.2 246.7 184.7 244.7 189.5 242.9 194.5 241.3 199.6 240.0 204.7 238.9 209.8 238.1 214.8 237.5 219.9 237.0 225.0 236.7 229.9 236.6 234.7 236.7 239.7 237.0 245.0 237.5 250.7 238.2 256.7 239.0 263.0 240.0 270.0 241.1 277.9 242.4 286.6 243.7 295.4 245.0 303.3 246.3 310.3 247.6 316.8 248.8 322.8 250.0 328.3 251.0 333.0 251.8 337.0 252.7 340.8 254.0 345.0 255.6 349.8 257.4 355.0 259.6 360.1 262.0 365.0 265.0 369.6 268.4 373.9 271.8 378.1 275.0 382.0 277.8 385.4 280.3 388.3 282.7 391.4 285.0 395.0 287.2 399.4 289.4 404.2 291.2 409.5 292.5 415.0 292.9 421.1 292.7 427.7 292.3 434.2 292.5 440.0 293.2 445.1 294.1 449.8 295.4 454.0 297.5 457.5 300.5 460.1 304.2 462.0 308.3 463.5 312.5 465.0 316.8 466.2 321.2 467.2 325.7 468.3 330.0 470.0 334.2 472.5 338.3 475.6 342.0 479.0 345.0 482.5 347.1 485.9 348.6 489.4 349.5 493.2 350.0 497.5 349.8 502.9 348.9 509.2 347.9 515.2 347.5 520.0 347.8 523.0 348.4 524.9 349.3 526.3 350.0 528.0M337.0 134.0 333.2 134.0 329.3 134.0 325.5 134.1 321.7 134.7 318.0 135.8 314.5 137.2 310.8 139.0 306.7 141.3 302.0 144.1 296.8 147.4 291.6 151.0 286.7 154.7 282.1 158.5 277.6 162.4 273.5 166.6 270.0 171.3 267.3 176.7 265.1 182.6 263.4 188.7 262.0 194.7 260.8 200.6 259.9 206.4 259.4 212.3 259.0 218.0 258.9 223.3 259.2 228.3 259.6 233.6 260.0 240.0 260.5 247.8 261.0 256.5 261.7 265.8 262.5 275.0 263.5 284.4 264.7 294.2 266.0 303.8 267.5 312.5 269.2 320.2 271.0 327.2 273.0 333.7 275.0 340.0 277.1 345.9 279.2 351.3 281.4 356.6 284.0 362.0 287.0 367.9 290.2 373.9 293.7 379.8 297.0 385.0 300.4 389.3 303.8 393.0 307.1 396.4 310.0 400.0 312.4 403.6 314.4 407.2 316.2 410.9 318.0 415.0 319.9 419.9 321.8 425.3 323.6 430.6 325.0 435.0 325.7 438.4 325.9 441.1 326.3 443.3 327.5 445.0 329.7 446.2 332.7 447.0 336.1 447.3 340.0 447.5 344.6 447.3 350.0 446.8 355.4 446.3 360.0 446.0 363.9 445.9 367.3 445.9 370.3 446.3 372.5 447.5 373.9 449.7 374.5 452.6 374.7 456.1 375.0 460.0 375.4 464.5 375.6 469.5 375.8 474.8 376.0 480.0M337.0 134.0 338.3 135.3 339.8 136.2 341.0 137.9 341.7 141.3 341.6 147.4 341.0 155.5 340.3 164.0 340.0 171.3 340.4 177.2 341.3 182.3 341.9 187.0 341.7 191.3 340.3 195.3 338.0 198.8 335.5 202.0 333.3 204.7 331.2 206.9 329.1 208.6 327.4 210.0 326.7 211.3 327.0 212.5 327.9 213.4 329.9 214.2 333.3 214.7 338.4 214.9 345.0 214.7 352.4 214.5 360.0 214.7 367.9 215.3 376.2 216.1 384.8 217.1 393.3 218.0 401.6 219.0 410.0 220.1 418.4 220.9 426.7 221.3 435.3 221.0 444.2 220.3 452.6 219.2 460.0 218.0 466.4 216.6 472.1 215.0 476.7 213.2 480.0 211.3 481.4 209.3 481.2 207.2 480.5 205.1 480.0 203.0M304.0 213.0 300.4 213.6 296.8 214.1 293.2 214.8 290.0 216.0 287.1 217.5 284.4 219.1 282.1 221.5 280.0 225.0 278.3 230.1 277.0 236.5 275.9 243.4 275.0 250.0 274.3 256.1 273.9 262.2 273.7 268.4 273.8 275.0 274.0 282.2 274.5 289.8 275.3 297.6 276.2 305.0 277.5 312.2 278.9 319.2 280.6 326.0 282.5 332.5 284.7 338.7 287.1 344.5 289.7 350.0 292.5 355.0 295.4 359.3 298.4 363.2 301.6 366.6 305.0 370.0 308.6 373.3 312.3 376.4 316.2 379.4 320.0 382.0 323.6 384.5 327.2 386.9 330.9 388.8 335.0 390.0 339.6 390.3 344.7 390.0 349.9 389.2 355.0 388.0 360.1 386.6 365.3 384.8 370.4 382.6 375.0 380.0 379.2 377.0 383.1 373.6 386.7 369.6 390.0 365.0 393.0 359.5 395.6 353.3 398.0 346.7 400.0 340.0 401.7 333.2 403.1 326.2 404.2 319.3 405.0 312.5 405.5 306.1 405.6 299.8 405.5 293.7 405.0 287.5 404.1 281.2 402.8 275.0 401.4 268.8 400.0 262.5M304.0 213.0 305.9 217.6 307.7 222.4 309.7 226.8 312.5 230.0 316.2 231.6 320.5 232.2 325.2 232.2 330.0 232.5 334.8 233.1 339.8 233.8 344.9 234.4 350.0 235.0 355.0 235.7 360.0 236.4 365.0 237.1 370.0 237.5 375.0 237.7 380.0 237.7 385.0 237.6 390.0 237.5 395.0 237.4 400.0 237.2 405.0 237.1 410.0 237.5 415.3 238.3 420.8 239.5 425.9 241.0 430.0 242.5 432.8 244.1 434.6 245.8 435.8 247.8 437.0 250.0 438.0 252.7 438.8 255.7 439.3 258.9 440.0 262.0M344.0 242.0 348.0 242.4 352.0 243.1 356.1 244.0 360.0 245.0 363.9 245.9 367.7 246.9 371.4 248.2 375.0 250.0 378.4 252.4 381.7 255.3 384.8 258.7 387.5 262.5 389.8 266.9 391.9 271.9 393.6 277.1 395.0 282.5 396.1 287.9 396.9 293.4 397.4 299.1 397.5 305.0 397.1 311.1 396.2 317.5 395.1 323.9 394.0 330.0 393.0 335.6 392.1 340.9 390.8 346.2 389.0 352.0 386.4 359.1 383.3 367.1 379.8 374.3 376.0 379.0 371.9 380.1 367.3 378.8 362.6 376.6 358.0 375.0 353.5 374.3 349.0 373.7 344.5 373.2 340.0 372.5 335.6 371.8 331.2 371.2 326.9 370.3 322.5 369.0 317.9 367.4 313.3 365.5 308.8 363.2 305.0 360.0 301.8 355.9 299.1 351.0 296.8 345.6 295.0 340.0 293.7 334.2 293.0 328.0 292.6 321.5 292.5 315.0 292.7 308.2 293.1 301.1 293.9 294.1 295.0 287.5 296.4 281.3 298.1 275.3 300.2 269.8 302.5 265.0 305.2 261.1 308.4 257.9 311.7 255.1 315.0 252.5 318.3 249.9 321.7 247.5 325.2 245.4 328.8 243.8 332.4 242.7 336.2 242.1 340.1 241.9 344.0 242.0M343.0 357.0 346.6 356.8 349.9 356.2 353.1 355.2 356.0 354.0 358.8 352.5 361.4 350.8 363.9 348.7 366.0 346.0 367.9 342.8 369.5 339.1 370.9 334.8 372.0 330.0 372.9 324.3 373.7 317.9 374.1 311.2 374.0 305.0 373.4 299.1 372.2 293.3 370.8 287.9 369.0 283.0 367.0 278.7 364.7 274.9 362.0 271.7 359.0 269.0 355.4 267.0 351.3 265.5 347.1 264.5 343.0 264.0 339.2 263.9 335.4 264.2 331.7 265.0 328.0 266.0 324.3 267.2 320.6 268.7 317.1 270.6 314.0 273.0 311.2 276.0 308.8 279.6 306.7 283.6 305.0 288.0 303.8 293.1 303.0 298.7 302.6 304.5 302.5 310.0 302.8 315.2 303.6 320.4 304.7 325.3 306.0 330.0 307.6 334.5 309.5 338.8 311.6 342.7 314.0 346.0 316.6 348.7 319.4 350.8 322.6 352.5 326.0 354.0 330.0 355.2 334.4 356.2 338.9 356.8 343.0 357.0M341.0 345.0 343.7 344.8 346.1 344.0 348.1 342.7 350.0 341.0 351.8 339.0 353.4 336.5 354.9 333.5 356.0 330.0 356.9 325.6 357.7 320.4 358.1 315.0 358.0 310.0 357.4 305.3 356.2 300.8 354.8 296.5 353.0 293.0 350.9 290.2 348.3 288.0 345.6 286.3 343.0 285.0 340.5 284.1 338.1 283.7 335.6 283.7 333.0 284.0 330.2 284.7 327.3 285.8 324.5 287.2 322.0 289.0 319.8 291.2 317.9 293.9 316.3 296.8 315.0 300.0 314.2 303.5 313.7 307.2 313.5 311.2 313.8 315.0 314.3 318.9 315.3 322.8 316.5 326.6 318.0 330.0 319.6 333.0 321.3 335.6 323.4 338.0 326.0 340.0 329.4 341.8 333.4 343.4 337.5 344.5 341.0 345.0M336.0 300.0 338.0 300.1 340.1 300.4 342.2 301.0 344.0 302.0 345.4 303.6 346.6 305.6 347.4 307.9 348.0 310.0 348.2 312.1 348.2 314.2 347.8 316.2 347.0 318.0 345.7 319.6 344.0 321.1 342.0 322.2 340.0 323.0 337.8 323.3 335.4 323.2 333.0 322.7 331.0 322.0 329.4 320.9 327.9 319.5 326.8 317.8 326.0 316.0 325.6 313.9 325.4 311.5 325.6 309.1 326.0 307.0 326.7 305.2 327.6 303.5 328.8 302.1 330.0 301.0 331.3 300.3 332.8 300.0 334.3 299.9 336.0 300.0M405.0 70.0 401.2 70.4 397.5 71.4 393.8 73.0 390.0 75.0 386.1 77.5 382.0 80.4 378.2 83.9 375.0 88.0 372.6 92.8 370.8 98.2 369.4 104.1 368.0 110.0 366.8 116.0 365.9 122.3 365.1 128.7 364.0 135.0 362.5 141.5 360.8 148.1 359.2 154.5 358.0 160.0 357.2 164.5 356.6 168.4 356.5 171.8 357.0 175.0 358.3 178.2 360.3 181.1 362.6 183.8 365.0 186.0 367.2 187.8 369.5 189.1 372.0 190.2 375.0 191.0 378.6 191.6 382.7 191.9 386.9 192.0 391.0 192.0 394.8 192.0 398.5 191.9 402.2 191.6 406.0 191.0 410.0 190.2 414.2 189.3 418.3 188.0 422.0 186.0 425.4 183.3 428.6 180.1 431.4 176.3 434.0 172.0 436.2 167.1 438.1 161.7 439.7 155.9 441.0 150.0 442.0 144.0 442.6 137.7 443.0 131.3 443.0 125.0 442.7 118.5 442.1 111.9 441.2 105.5 440.0 100.0 438.4 95.4 436.6 91.6 434.4 88.2 432.0 85.0 429.4 82.0 426.4 79.4 423.3 77.0 420.0 75.0 416.5 73.2 412.7 71.6 408.8 70.4 405.0 70.0M396.7 118.0 399.8 116.2 404.1 115.1 408.8 114.6 413.3 114.7 417.7 115.5 422.3 117.0 426.5 118.9 430.0 121.3 432.6 124.1 434.6 127.4 436.0 131.0 436.7 134.7 436.8 138.9 436.2 143.4 435.1 147.8 433.3 151.3 430.7 153.9 427.3 155.9 423.6 157.3 420.0 158.0 416.6 158.0 413.1 157.4 409.8 156.2 406.7 154.7 403.8 152.8 401.0 150.3 398.5 147.6 396.7 144.7 395.6 141.6 395.1 138.2 395.0 134.7 395.0 131.3 394.8 127.7 394.7 124.0 395.1 120.6 396.7 118.0M330.0 18.0 337.6 23.7 345.3 29.4 352.9 35.0 360.0 40.0 366.7 44.2 373.1 47.9 379.2 51.4 385.0 55.0 390.4 58.8 395.3 62.5 400.1 66.2 405.0 70.0M427.0 63.0 431.3 62.2 435.6 61.4 440.0 60.7 445.0 60.0 450.6 59.3 456.8 58.7 463.2 58.2 470.0 58.0 477.4 58.3 485.3 58.9 493.1 59.5 500.0 60.0 505.9 60.1 511.2 59.9 515.9 59.8 520.0 60.0 523.3 60.4 525.9 61.0 528.1 61.8 530.0 63.0 531.7 64.3 533.0 65.7 534.1 67.8 535.0 71.3 535.6 77.0 536.0 84.3 536.2 91.8 536.7 98.0 537.2 102.5 537.6 106.1 538.4 109.0 540.0 111.3 542.4 113.0 545.4 113.9 549.0 114.4 553.3 114.7 558.6 114.6 564.7 114.2 571.0 113.5 576.7 113.0 581.5 112.5 585.8 112.0 589.9 111.7 594.0 111.5 597.8 111.9 601.4 112.7 605.3 113.2 610.0 113.0 616.1 111.6 623.1 109.5 630.2 107.0 636.7 104.7 642.3 102.7 647.5 100.7 652.3 98.6 656.7 96.3 660.7 93.7 664.4 91.0 667.5 88.0 670.0 84.7 671.7 80.9 672.7 76.7 673.2 72.3 673.3 68.0 672.9 63.9 672.1 59.9 671.0 55.7 670.0 51.3 669.2 46.4 668.4 41.1 667.5 35.9 666.7 31.3 665.9 27.5 665.0 24.2 664.2 21.2 663.3 18.0M445.0 18.0 447.4 19.6 449.7 21.3 452.1 22.9 455.0 24.0 458.4 24.6 462.3 24.9 466.3 25.0 470.0 25.0 473.5 25.2 476.9 25.3 480.1 25.3 483.3 24.7 486.3 23.5 489.3 21.7 492.1 19.8 495.0 18.0M420.0 18.0 423.6 21.6 427.2 25.4 430.9 28.9 435.0 32.0 439.8 34.5 445.0 36.7 450.2 38.5 455.0 40.0 458.8 41.2 462.1 42.1 465.5 42.7 470.0 43.0 475.9 43.1 482.6 43.0 489.8 42.4 496.7 41.3 503.7 39.3 510.8 36.7 517.6 33.9 523.3 31.3 527.7 29.0 531.2 26.8 534.1 24.8 536.7 23.0 538.8 21.5 540.4 20.3 541.8 19.2 543.3 18.0M550.0 18.0 551.7 23.0 553.4 28.0 555.0 33.0 556.7 38.0 558.4 43.1 560.0 48.2 561.6 53.2 563.3 58.0 565.0 62.5 566.9 66.8 568.6 70.8 570.0 74.7 570.8 78.4 571.2 82.0 571.8 85.2 573.3 88.0 576.0 90.3 579.6 92.2 583.6 93.7 587.5 94.7 591.3 95.3 595.2 95.5 599.2 95.3 603.3 94.7 607.4 93.7 611.6 92.2 615.8 90.3 620.0 88.0 624.4 85.2 629.0 82.0 633.2 78.4 636.7 74.7 639.1 70.8 640.8 66.8 642.1 62.5 643.3 58.0 644.4 53.2 645.2 48.2 645.9 43.1 646.7 38.0 647.5 33.0 648.4 28.0 649.2 23.0 650.0 18.0M427.0 63.0 430.1 66.0 433.1 69.1 436.3 72.1 440.0 75.0 444.5 78.1 449.6 81.2 454.8 84.0 460.0 86.0 465.3 86.8 470.8 86.7 475.9 86.4 480.0 86.3 482.8 86.0 484.8 85.3 486.0 85.6 486.7 88.0 486.4 93.4 485.2 101.0 483.9 109.6 483.3 118.0 483.4 126.5 484.0 135.5 485.0 144.1 486.7 151.3 489.5 156.7 493.1 160.9 496.9 164.5 500.0 168.0 502.5 171.6 504.7 174.9 506.2 178.0 506.7 181.3 505.9 184.8 504.1 188.3 501.4 191.7 498.3 194.7 494.4 197.1 489.8 199.2 484.8 201.0 480.0 203.0M376.0 480.0 379.0 478.2 382.0 476.6 385.0 474.6 388.0 472.0 391.0 468.3 394.0 463.9 397.0 459.3 400.0 455.0 403.0 451.1 406.1 447.4 409.1 443.7 412.0 440.0 414.6 436.4 417.1 432.8 419.5 429.1 422.0 425.0 424.5 420.4 427.1 415.3 429.6 410.1 432.0 405.0 434.2 400.0 436.3 395.0 438.3 390.0 440.0 385.0 441.6 380.1 442.9 375.3 444.1 370.4 445.0 365.0 445.5 359.5 445.8 353.8 445.8 347.4 446.0 340.0 446.2 330.9 446.4 320.6 446.6 310.0 447.0 300.0 447.5 290.7 448.1 281.6 448.9 272.9 450.0 265.0 451.4 257.8 453.2 251.2 455.2 245.3 457.5 240.0 460.3 235.7 463.6 232.2 466.9 228.9 470.0 225.0 472.7 220.2 475.2 214.9 477.6 209.4 480.0 204.0M583.8 162.5 581.7 164.8 579.8 167.2 577.6 169.5 575.0 172.0 571.6 174.7 567.7 177.7 563.7 180.5 560.0 183.0 556.8 185.0 553.8 186.7 550.7 188.3 547.5 190.0 544.0 191.8 540.3 193.6 536.5 195.4 532.5 197.5 528.2 199.8 523.8 202.3 519.3 204.9 515.0 207.5 511.1 209.9 507.3 212.3 503.7 214.8 500.0 217.5 496.2 220.4 492.3 223.6 488.6 226.8 485.0 230.0 481.6 233.0 478.4 235.9 475.4 239.0 472.5 242.5 469.8 246.3 467.2 250.5 464.8 255.0 462.5 260.0 460.3 265.7 458.3 272.0 456.5 278.6 455.0 285.0 454.0 291.1 453.4 297.2 452.9 303.4 452.5 310.0 452.0 317.4 451.7 325.3 451.3 333.1 451.0 340.0 450.8 345.8 450.7 350.9 450.5 355.6 450.0 360.0 449.1 364.2 447.9 368.1 446.5 371.7 445.0 375.0 443.3 377.5 441.4 379.4 439.4 381.6 437.5 385.0 435.7 390.3 433.9 396.9 432.1 403.8 430.0 410.0 427.7 415.5 425.2 420.8 422.6 425.6 420.0 430.0 417.5 433.7 415.0 436.7 412.5 439.6 410.0 442.5 407.5 445.6 405.0 448.7 402.5 451.8 400.0 455.0 397.5 458.2 395.0 461.5 392.5 464.7 390.0 468.0M584.0 191.0 581.8 192.0 579.6 192.9 577.3 193.9 575.0 195.0 572.7 196.1 570.5 197.1 568.1 198.4 565.0 200.0 561.2 202.1 556.7 204.7 552.1 207.4 547.5 210.0 543.1 212.4 538.8 214.8 534.4 217.3 530.0 220.0 525.6 222.9 521.1 226.1 516.7 229.3 512.5 232.5 508.5 235.5 504.7 238.4 501.0 241.5 497.5 245.0 494.1 248.9 490.9 253.1 487.9 257.7 485.0 262.5 482.2 267.7 479.5 273.3 477.1 279.1 475.0 285.0 473.3 291.0 472.0 297.0 471.0 303.3 470.0 310.0 469.2 317.4 468.6 325.3 468.1 333.1 467.5 340.0 466.9 345.6 466.4 350.3 465.8 354.9 465.0 360.0 464.0 365.9 462.8 372.2 461.5 378.6 460.0 385.0 458.4 391.2 456.6 397.5 454.6 403.8 452.5 410.0 450.2 416.2 447.8 422.5 445.2 428.8 442.5 435.0 439.6 441.4 436.6 447.8 433.4 454.1 430.0 460.0 426.4 465.5 422.7 470.6 418.8 475.5 415.0 480.0 411.2 484.1 407.5 487.8 403.8 491.4 400.0 495.0 396.3 498.9 392.7 502.8 388.9 506.6 385.0 510.0 380.8 512.9 376.4 515.4 371.9 517.8 367.5 520.0 363.1 522.1 358.8 524.1 354.4 526.0 350.0 528.0M583.0 211.5 581.1 212.3 579.3 213.0 577.3 213.8 575.0 215.0 572.3 216.5 569.3 218.3 566.1 220.4 562.5 222.5 558.5 224.7 554.2 227.0 549.7 229.6 545.0 232.5 540.1 235.8 534.8 239.5 529.7 243.5 525.0 247.5 520.8 251.6 516.9 255.9 513.3 260.4 510.0 265.0 507.1 269.7 504.5 274.5 502.2 279.6 500.0 285.0 497.8 290.8 495.8 296.9 494.0 303.3 492.5 310.0 491.4 317.5 490.7 325.6 490.3 333.4 490.0 340.0 489.8 345.0 489.8 349.1 490.1 352.3 491.0 355.0 492.7 356.7 495.1 357.5 497.7 358.3 500.0 360.0 501.9 363.2 503.7 367.2 505.5 371.4 507.5 375.0 509.7 377.9 512.0 380.5 514.6 382.8 517.5 385.0 520.7 387.1 524.2 389.2 528.1 391.0 532.5 392.5 537.7 393.7 543.4 394.6 549.4 395.4 555.0 396.0 560.2 396.5 565.2 396.8 570.1 397.1 575.0 397.5 580.2 398.0 585.5 398.6 590.5 399.2 595.0 400.0 598.6 400.9 601.5 402.0 604.3 403.1 607.5 404.0 611.3 404.6 615.5 405.1 619.8 405.5 624.0 406.0M565.0 262.5 562.6 264.8 560.2 267.0 557.7 269.5 555.0 272.5 551.9 276.3 548.5 280.6 545.3 285.3 542.5 290.0 540.3 294.6 538.5 299.2 537.1 304.2 536.0 310.0 535.3 317.0 534.9 325.0 534.9 333.0 535.0 340.0 534.9 346.0 534.8 351.3 535.4 356.0 537.5 360.0 541.7 363.1 547.3 365.3 553.7 367.1 560.0 369.0 566.1 370.9 572.3 372.8 578.7 374.4 585.0 376.0 591.2 377.4 597.5 378.5 603.8 379.7 610.0 381.0 616.2 382.5 622.5 384.1 628.8 385.8 635.0 387.5 641.4 389.3 647.8 391.2 654.1 393.1 660.0 395.0 665.4 396.9 670.5 398.8 675.3 400.6 680.0 402.5 684.6 404.6 688.9 406.9 693.2 408.8 697.5 410.0 701.9 410.1 706.2 409.5 710.6 408.5 715.0 407.5 719.5 406.1 724.1 404.4 728.5 402.9 732.5 402.5 736.2 403.4 739.7 405.3 742.7 407.7 745.0 410.0 746.2 412.3 746.4 414.8 746.6 417.4 747.5 420.0 749.4 422.6 751.9 425.3 754.6 427.9 757.5 430.0 760.5 431.6 763.8 432.8 767.0 433.9 770.0 435.0 772.8 436.5 775.5 438.2 777.9 439.5 780.0 440.0 781.8 439.5 783.3 438.2 784.4 436.3 785.0 434.0 784.8 430.9 783.9 427.2 782.8 423.3 782.0 420.0 781.6 417.4 781.4 415.2 781.2 413.1 781.0 411.0M600.0 162.5 604.0 162.6 608.1 162.7 612.1 162.7 616.0 162.5 619.6 162.1 623.1 161.6 626.5 160.9 630.0 160.0 633.8 158.9 637.8 157.7 641.6 156.3 645.0 155.0 647.7 153.9 650.0 152.8 652.3 151.6 655.0 150.0 658.3 147.9 661.9 145.4 665.8 142.8 670.0 140.0 674.6 137.0 679.7 133.9 684.9 130.8 690.0 128.0 695.0 125.5 700.0 123.1 705.0 121.2 710.0 120.0 715.1 119.7 720.3 120.0 725.4 120.8 730.0 122.0 734.1 123.5 737.9 125.5 741.5 127.7 745.0 130.0 748.4 132.4 751.6 134.9 754.8 137.5 758.0 140.0M600.0 187.5 603.8 186.6 607.5 185.6 611.2 184.7 615.0 183.8 618.8 182.8 622.5 182.0 626.2 181.0 630.0 180.0 633.6 178.9 637.2 177.7 640.9 176.5 645.0 175.0 649.8 173.2 655.0 171.2 660.2 169.3 665.0 167.5 669.1 166.1 672.8 165.0 676.4 163.9 680.0 162.5 683.9 160.8 687.8 158.9 691.6 156.9 695.0 155.0 697.7 153.1 700.0 151.2 702.3 149.5 705.0 148.0 708.3 146.8 711.9 145.9 715.8 145.2 720.0 145.0 724.8 145.1 730.0 145.6 735.2 146.5 740.0 148.0 744.1 151.2 747.8 155.6 751.4 159.2 755.0 160.0 758.9 155.9 763.0 148.5 766.8 141.3 770.0 138.0 772.5 140.0 774.4 145.4 776.0 152.0 777.5 158.0 779.0 163.0 780.3 168.0 781.5 173.0 782.5 178.0 783.3 183.2 783.8 188.4 784.3 193.5 785.0 198.0 785.9 201.3 786.9 203.8 788.0 206.6 789.0 211.0 790.1 217.5 791.3 225.5 792.4 234.1 793.2 242.3 793.7 250.1 794.0 257.9 794.1 265.7 794.3 273.5 794.5 281.2 794.7 288.8 795.0 296.5 795.3 304.6 795.8 313.6 796.3 323.3 796.9 332.5 797.4 340.0 797.8 344.9 798.2 348.0 798.4 350.8 798.5 354.7 798.3 360.1 798.0 366.3 797.6 372.9 797.3 379.4 797.2 385.8 797.2 392.3 797.3 398.8 797.3 405.3M583.0 211.5 587.3 213.0 591.6 214.5 595.9 216.0 600.0 217.5 603.9 219.3 607.8 221.4 611.5 223.1 615.0 223.8 618.2 223.0 621.1 221.2 624.1 219.1 627.5 217.5 631.5 216.6 635.8 215.9 640.3 215.4 645.0 215.0 649.8 214.6 654.8 214.4 659.9 214.1 665.0 213.8 670.1 213.3 675.2 212.7 680.2 212.1 685.0 211.2 689.6 210.2 693.9 209.1 698.2 207.7 702.5 206.2 707.0 204.4 711.6 202.2 716.0 200.2 720.0 198.8 723.4 198.0 726.4 197.7 729.3 198.0 732.5 198.8 736.2 200.1 740.2 202.0 744.0 204.5 747.5 207.5 750.5 211.1 753.1 215.2 755.5 219.9 757.5 225.0 759.2 230.7 760.5 237.0 761.6 243.6 762.5 250.0 763.2 256.2 763.7 262.5 763.9 268.8 763.8 275.0 763.3 281.4 762.4 287.8 761.3 294.1 760.0 300.0 758.3 305.5 756.3 310.6 754.3 315.5 752.5 320.0 751.1 324.1 749.9 327.8 748.8 331.4 747.5 335.0 745.9 338.6 744.0 342.2 742.3 345.9 741.0 350.0 740.5 354.9 740.5 360.2 740.5 365.5 740.0 370.0 738.7 373.4 736.9 376.1 734.9 378.5 733.0 381.0M733.0 381.0 729.5 380.5 726.3 380.1 722.6 379.6 717.5 379.0 710.4 378.1 701.8 377.1 693.0 376.0 685.0 375.0 678.2 374.0 672.0 373.1 666.1 372.1 660.0 371.0 653.8 369.7 647.5 368.4 641.2 366.8 635.0 365.0 628.8 362.7 622.5 360.1 616.2 357.4 610.0 355.0 603.6 353.1 597.2 351.4 590.9 349.7 585.0 347.5 579.4 344.8 574.0 341.8 569.1 338.6 565.0 335.0 561.9 331.1 559.5 326.8 557.6 322.4 556.0 318.0 554.6 313.6 553.4 309.2 552.6 304.7 552.0 300.0 551.7 295.1 551.8 290.1 551.9 285.0 552.0 280.0M581.0 288.0 584.7 287.0 589.0 286.4 593.5 285.8 597.5 285.0 601.0 283.8 604.2 282.5 607.1 281.1 610.0 280.0 612.6 279.6 615.0 279.5 617.4 279.1 620.0 277.5 622.9 273.8 626.1 268.8 629.3 263.7 632.5 260.0 635.4 258.3 638.3 257.8 641.3 257.8 645.0 257.5 649.5 256.9 654.5 256.2 659.8 255.6 665.0 255.0 670.0 254.3 675.0 253.6 680.0 252.9 685.0 252.5 690.2 252.0 695.6 251.6 700.7 251.6 705.0 252.5 708.5 254.5 711.4 257.3 713.6 260.9 715.0 265.0 715.4 270.0 714.8 275.9 713.8 282.0 712.5 287.5 711.2 292.3 709.5 296.9 707.5 301.1 705.0 305.0 702.0 308.7 698.6 312.0 694.6 315.0 690.0 317.5 684.5 319.4 678.1 320.8 671.5 321.8 665.0 322.5 658.8 322.9 652.5 322.8 646.2 322.6 640.0 322.5 633.8 322.6 627.5 322.8 621.2 322.9 615.0 322.5 608.6 321.7 602.0 320.5 595.7 319.0 590.0 317.5 584.8 315.8 580.0 313.9 575.8 311.9 572.5 310.0 570.1 308.1 568.6 306.2 567.8 304.4 567.5 302.5 568.0 300.6 569.2 298.7 570.8 296.8 572.5 295.0 574.2 293.1 576.0 291.2 578.2 289.5 581.0 288.0M640.0 406.0 645.3 407.5 650.8 408.9 655.9 410.5 660.0 412.5 663.1 415.1 665.5 418.2 667.0 421.6 667.5 425.0 666.4 428.8 663.9 433.0 661.3 436.9 660.0 440.0 660.0 442.0 660.8 443.1 662.4 444.0 665.0 445.0 668.8 446.4 673.8 448.0 679.3 449.3 685.0 450.0 690.9 449.8 697.2 448.9 703.6 447.9 710.0 447.5 716.4 447.7 723.0 448.2 729.3 448.9 735.0 450.0 740.0 451.3 744.6 453.0 748.6 454.9 752.0 457.0 754.7 459.4 756.7 462.1 758.4 464.9 760.0 468.0 761.7 471.4 763.2 475.1 764.7 478.7 766.0 482.0 767.1 484.8 768.1 487.4 769.0 489.7 770.0 492.0 771.2 494.1 772.4 496.1 773.7 498.0 775.0 500.0M640.0 480.0 634.9 481.2 629.7 482.5 624.6 483.8 620.0 485.0 615.7 486.2 611.7 487.5 608.1 488.8 605.0 490.0 602.7 491.2 601.0 492.5 599.6 493.8 598.0 495.0M656.0 481.0 660.0 480.4 663.9 479.8 667.9 479.1 672.0 478.0 676.4 476.4 681.1 474.3 685.7 472.1 690.0 470.0 694.0 468.0 697.7 466.0 701.3 464.0 705.0 462.0M580.0 472.0 576.2 472.3 572.5 472.8 568.8 472.9 565.0 472.5 561.0 471.2 556.9 469.4 553.0 467.2 550.0 465.0 547.8 462.7 546.2 460.3 545.3 457.7 545.0 455.0 545.3 452.0 546.2 448.8 547.8 445.5 550.0 442.5 552.9 439.6 556.4 436.8 560.5 434.3 565.0 432.5 570.3 431.3 576.2 430.6 582.2 430.4 587.5 431.0 592.0 432.5 596.1 434.8 599.6 437.4 602.5 440.0 604.7 442.4 606.4 444.9 607.4 447.5 607.5 450.0 606.4 452.6 604.4 455.3 602.0 457.9 600.0 460.0 598.6 461.9 597.3 463.6 596.2 464.7 595.0 465.0 593.8 463.8 592.5 461.4 591.2 459.0 590.0 457.5 588.7 457.4 587.3 458.0 586.1 459.0 585.0 460.0 584.2 461.1 583.6 462.3 583.1 463.7 582.5 465.0M580.0 472.0 584.0 473.2 588.3 474.2 592.1 475.5 595.0 477.5 596.5 480.8 597.0 484.9 597.2 489.1 597.5 492.5 597.7 495.0 597.7 497.0 598.1 498.7 600.0 500.0 603.8 501.0 608.9 501.7 614.6 502.2 620.0 502.5 625.0 502.7 630.0 502.8 635.0 502.7 640.0 502.5 645.0 502.1 650.0 501.4 655.0 500.7 660.0 500.0M723.0 50.5 720.0 52.9 716.9 55.2 714.1 57.8 712.0 61.0 711.1 65.2 711.0 70.1 711.1 75.2 710.8 80.0 710.0 84.3 708.9 88.5 707.8 92.5 706.7 96.6M700.0 60.0 705.1 58.2 710.3 56.4 715.4 54.6 720.0 53.0 724.0 51.6 727.5 50.3 731.0 49.1 735.0 48.0 739.6 46.8 744.7 45.6 749.9 44.6 755.0 44.0 760.2 43.8 765.6 43.9 770.7 44.4 775.0 45.5 778.4 47.4 781.1 50.0 783.3 52.8 785.0 55.5 786.0 58.0 786.2 60.5 786.5 63.0 787.5 65.5 789.5 67.8 792.0 70.0 794.8 72.5 797.5 75.5 800.1 79.3 802.7 83.8 805.2 88.4 807.5 93.0 809.7 97.4 811.8 101.8 813.6 106.1 815.0 110.5 815.9 114.8 816.3 119.1 816.4 123.4 816.0 128.0 814.9 132.8 813.2 137.8 811.4 142.9 810.0 148.0 809.0 152.8 808.3 157.4 807.8 162.3 807.5 168.0 807.5 175.4 807.8 184.1 808.3 192.2 809.0 198.0 810.0 200.2 811.2 200.0 812.6 199.5 814.0 200.8 815.6 204.7 817.4 210.0 819.1 215.9 820.2 221.5 820.5 226.7 820.3 231.9 820.1 237.1 820.2 242.3 821.0 247.5 822.0 252.7 823.3 257.9 824.4 263.1 825.5 268.3 826.6 273.5 827.6 278.7 828.5 283.9 829.2 289.1 829.7 294.2 830.1 299.4 830.6 304.6 831.2 309.9 831.8 315.3 832.4 320.6 833.0 326.0M957.5 23.0 954.2 26.9 950.8 30.8 947.6 34.6 945.0 38.0 943.1 40.8 941.7 43.1 940.7 45.4 940.0 48.0 940.0 51.8 940.6 56.2 941.1 60.0 941.0 61.8 940.0 60.8 938.5 57.9 936.8 54.2 935.0 50.5 933.3 46.7 931.5 42.5 929.6 38.5 927.5 35.5 925.2 33.8 922.7 33.0 920.1 32.8 917.5 33.0 914.8 33.6 912.0 34.7 909.5 36.2 907.5 38.0 906.2 40.1 905.3 42.7 904.9 45.4 905.0 48.0 905.8 50.4 907.3 52.7 908.9 55.1 910.0 58.0 910.5 61.4 910.8 65.2 910.6 69.1 910.0 73.0 908.8 76.8 907.0 80.7 904.9 84.4 902.5 88.0 899.7 91.3 896.6 94.4 893.2 97.4 890.0 100.5 886.8 103.6 883.4 106.8 880.3 109.9 877.5 113.0 875.2 116.0 873.1 118.9 871.4 122.0 870.0 125.5 869.1 129.6 868.8 134.1 868.4 138.7 867.5 143.0 865.9 147.0 863.9 151.0 861.8 154.7 860.0 158.0 858.4 160.8 856.9 163.2 855.7 165.4 855.0 168.0 854.8 171.0 855.0 174.1 855.8 177.4 857.5 180.5 860.4 183.6 864.2 186.6 868.4 189.6 872.2 192.5 875.5 195.2 878.5 197.8 881.6 200.3 884.6 202.8M916.8 208.0 919.1 204.4 921.3 200.7 923.6 197.2 926.2 194.5 929.1 192.7 932.3 191.6 935.6 190.9 938.6 190.4 941.4 189.9 943.9 189.5 946.5 189.6 949.0 190.4 951.5 192.3 954.0 194.9 956.5 198.0 959.0 200.8M720.0 133.0 723.8 130.3 727.5 127.5 731.2 125.0 735.0 123.0 738.9 121.7 742.8 120.8 746.6 120.4 750.0 120.5 752.9 121.0 755.3 122.1 757.6 123.5 760.0 125.5 762.5 128.1 765.0 131.3 767.5 134.7 770.0 138.0M887.5 18.0 886.9 24.5 886.4 31.1 885.8 37.5 885.0 43.0 884.0 47.5 882.8 51.1 881.5 54.5 880.0 58.0 878.4 61.9 876.7 65.8 874.8 69.6 872.5 73.0 869.6 75.9 866.1 78.3 862.7 80.6 860.0 83.0 858.1 85.1 856.7 87.1 855.7 89.4 855.0 93.0 854.7 98.3 854.8 104.9 855.1 111.8 855.0 118.0 854.8 123.6 854.5 128.9 853.9 133.8 852.5 138.0 850.0 141.3 846.7 143.9 843.2 146.1 840.0 148.0 837.1 149.4 834.4 150.2 831.9 151.2 830.0 153.0 828.7 156.1 827.9 160.1 827.6 164.2 827.5 168.0 827.8 171.0 828.4 173.6 829.3 176.5 830.6 180.0 832.3 184.6 834.5 189.9 836.8 195.4 839.0 200.8 841.1 206.1 843.1 211.4 845.1 216.6 847.2 221.5 849.2 226.1 851.2 230.4 853.3 234.4 855.5 238.2 858.2 241.7 861.1 244.9 863.9 247.9 866.0 250.6 867.2 252.8 867.8 254.5 868.0 256.4 868.0 259.0 867.8 262.6 867.2 266.8 866.6 271.3 866.0 275.6M880.0 168.0 880.9 160.1 881.6 151.9 882.7 144.3 885.0 138.0 888.9 133.3 894.1 129.7 899.6 127.2 905.0 125.5 910.0 125.0 915.0 125.7 920.0 126.8 925.0 128.0 930.4 129.0 936.0 130.2 941.1 131.5 945.0 133.0 947.4 134.8 948.7 136.8 949.1 138.7 948.8 140.5 947.7 141.9 945.9 143.0 943.3 144.1 940.0 145.5 935.8 147.2 930.7 149.1 925.3 151.1 920.0 153.0 914.9 154.9 909.8 156.8 904.8 158.6 900.0 160.5 895.2 162.4 890.3 164.4 885.9 166.3 882.5 168.0 880.4 169.4 879.2 170.7 878.5 171.8 877.5 173.0M885.7 277.6 887.6 277.9 889.4 278.0 891.3 278.4 893.0 279.7 894.6 282.1 896.2 285.3 897.7 288.8 899.2 292.2 900.8 295.4 902.4 298.5 904.0 301.6 905.4 304.6 906.6 307.5 907.7 310.3 908.7 312.8 909.6 315.0 910.3 316.6 910.9 317.8 911.4 318.9 912.0 320.0M760.0 232.0 761.1 236.9 762.4 241.7 763.4 246.8 764.0 252.7 763.9 260.0 763.4 268.3 762.6 276.6 762.0 283.9 761.5 289.8 761.0 294.9 760.5 299.7 760.0 304.6M839.0 332.0 839.5 336.0 839.8 340.0 840.4 343.9 841.7 347.3 844.1 350.2 847.2 352.6 850.7 354.9 854.0 357.2 857.2 359.7 860.5 362.2 863.6 364.6 866.4 367.0 868.7 369.4 870.6 371.7 872.2 373.9 873.8 375.7 875.6 376.8 877.5 377.4 878.8 378.1 878.8 379.4 877.0 381.7 874.0 384.7 870.2 387.6 866.5 390.0 862.5 391.3 858.1 391.8 853.8 392.6 850.4 394.2 848.1 397.2 846.6 401.1 845.4 405.2 844.2 409.0 842.9 412.3 841.8 415.4 840.7 418.4 839.3 421.4 837.6 424.4 835.8 427.4 833.8 430.5 831.9 433.7 830.1 437.3 828.3 441.2 826.4 445.1 824.4 448.5 822.1 451.3 819.6 453.8 817.1 456.0 814.6 458.4 812.1 460.8 809.7 463.0 807.2 465.5 804.7 468.3 802.2 471.7 799.8 475.6 797.3 479.5 794.8 483.0 792.3 485.9 789.8 488.5 787.4 490.8 784.9 493.0 782.4 495.0 780.0 496.7 777.5 498.3 775.0 500.0M918.3 330.0 917.4 336.3 916.6 342.7 915.7 348.9 914.6 354.7 913.3 360.0 911.9 365.0 910.3 369.8 908.4 374.4 906.3 378.9 904.0 383.2 901.4 387.4 898.5 391.7 895.0 396.1 891.1 400.5 887.2 404.9 883.7 409.0 880.8 412.9 878.1 416.6 875.8 420.2 873.8 423.8 872.5 427.6 871.7 431.5 870.7 435.2 868.9 438.6 866.0 441.5 862.4 444.2 858.3 446.5 854.0 448.5 849.2 449.9 843.8 450.7 838.6 451.7 834.3 453.5 830.8 456.4 827.8 460.0 825.6 464.0 824.4 468.3 824.5 473.0 825.8 478.1 827.6 483.3 829.4 488.0 831.2 492.0 833.3 495.6 835.2 499.0 836.8 502.8 837.9 507.8 838.6 513.6 839.1 518.3 839.3 520.0 839.1 517.6 838.5 512.3 837.8 505.9 837.1 500.0M930.0 330.0 928.9 336.2 927.8 342.5 926.6 348.8 925.0 355.0 922.9 361.2 920.3 367.2 917.6 373.5 915.0 380.0 912.3 387.3 909.5 395.1 906.9 402.7 905.0 409.0 904.2 413.8 904.2 417.6 904.3 420.8 903.5 423.8 901.5 426.6 898.8 428.9 895.9 431.2 893.6 433.7 892.2 436.7 891.4 440.0 890.4 443.2 888.6 446.0 885.5 448.3 881.7 450.2 877.6 451.9 873.8 453.5 870.3 454.8 866.7 455.8 863.7 456.9 861.5 458.4 860.9 460.6 861.3 463.2 861.9 465.9 861.5 468.3 859.7 470.4 857.0 472.5 854.1 474.3 851.6 475.7 849.1 476.5 846.4 476.9 844.4 477.3 844.2 478.1 846.3 479.6 850.2 481.5 854.8 483.6 859.0 485.6M889.9 485.6 894.5 485.1 899.1 484.8 903.7 484.2 908.4 483.0 913.5 480.9 918.8 478.2 923.8 475.5 928.1 473.2 931.4 471.7 934.0 470.7 936.1 469.6 938.0 468.3 939.8 466.6 941.2 464.6 942.4 462.4 943.0 460.0 943.1 457.0 942.8 453.7 942.0 450.5 941.0 448.0 939.5 446.4 937.6 445.3 935.6 444.8 934.0 445.0 932.8 446.0 931.9 447.7 931.2 449.8 931.0 452.0 931.3 454.4 932.1 457.0 933.0 459.7 934.0 462.0 934.9 463.8 935.9 465.4 937.0 466.8 938.0 468.3M950.4 372.0 947.9 373.7 945.3 375.4 942.8 377.2 940.5 379.4 938.4 382.2 936.5 385.4 934.7 388.7 933.1 391.7 931.7 394.3 930.5 396.8 929.3 399.2 928.1 401.6M320.0 608.0 325.4 609.0 330.9 610.1 336.1 611.0 340.0 611.3 342.0 610.9 342.5 610.1 343.0 608.9 345.0 607.5 349.1 605.8 354.4 603.8 360.0 601.8 365.0 600.0 369.2 598.4 373.1 596.9 376.7 595.7 380.0 595.0 383.0 594.9 385.8 595.2 388.1 596.0 390.0 597.5 391.2 599.7 391.9 602.7 392.2 606.1 392.5 610.0 392.8 614.6 393.0 620.0 392.9 625.4 392.5 630.0 391.5 633.7 390.2 636.7 388.7 639.6 387.5 642.5 386.7 645.8 386.0 649.3 385.5 652.5 385.0 655.0 385.0 656.0 385.5 656.0 385.2 656.3 383.3 658.0 378.9 661.8 372.8 666.9 366.1 672.6 360.0 678.0 354.8 683.2 349.8 688.4 344.9 693.5 340.0 698.0 335.0 701.8 330.0 705.1 325.0 708.1 320.0 711.3M340.0 480.0 342.7 483.9 345.6 487.8 348.1 491.6 350.0 495.0 351.0 497.9 351.5 500.3 351.5 502.6 351.0 505.0 349.9 507.6 348.2 510.3 346.4 512.9 345.0 515.0 344.1 516.6 343.5 517.8 343.0 518.9 342.5 520.0M485.0 530.0 483.9 532.8 482.8 535.5 481.8 538.5 481.0 542.5 480.6 548.2 480.4 555.0 480.3 561.8 480.0 567.5 479.5 571.2 478.8 573.8 478.2 576.3 477.5 580.0 476.9 585.4 476.4 591.7 475.8 598.5 475.0 605.0 473.8 611.1 472.4 617.2 471.0 623.4 470.0 630.0 469.5 637.1 469.3 644.7 469.2 652.4 469.0 660.0 468.6 668.0 468.2 676.2 467.7 683.9 467.0 690.0 466.0 693.7 464.6 695.6 463.5 697.3 463.0 700.0 463.4 704.3 464.5 709.4 465.8 714.8 467.0 720.0M481.0 534.0 482.7 536.9 484.3 539.9 486.0 542.7 487.5 545.0 488.7 546.8 489.8 548.2 490.9 549.1 492.5 549.0 494.8 547.5 497.5 544.8 500.2 541.9 502.5 540.0 504.0 539.5 505.2 539.9 506.2 540.3 507.5 540.0 509.1 538.5 510.9 536.4 512.9 534.2 515.0 532.5 517.4 531.3 520.0 530.3 522.6 529.8 525.0 530.0 527.2 531.2 529.2 533.1 531.0 535.4 532.5 537.5 533.4 539.3 533.8 540.9 534.1 542.8 535.0 545.0 536.6 547.8 538.8 550.9 540.9 554.3 542.5 557.5 543.6 560.6 544.3 563.8 544.8 566.9 545.0 570.0 544.8 573.3 544.3 576.7 543.8 579.9 543.8 582.5 544.2 584.6 545.1 586.2 546.2 587.3 547.5 587.5 549.0 586.6 550.7 584.7 552.7 582.3 555.0 580.0 557.7 577.6 560.8 574.8 564.1 572.2 567.5 570.0 571.1 568.3 575.0 566.9 578.9 565.9 582.5 565.0 585.7 564.5 588.7 564.2 591.6 564.2 594.5 564.0M626.0 559.0 632.0 557.4 637.9 555.9 643.9 554.3 650.0 552.5 656.2 550.6 662.4 548.5 668.7 546.3 675.0 544.0 681.7 541.3 688.6 538.4 695.0 535.8 700.0 534.0 703.2 533.3 705.0 533.4 706.2 534.0 707.5 535.0 708.9 536.6 710.0 538.7 711.1 540.9 712.5 542.5 714.1 543.2 715.9 543.3 717.8 543.4 720.0 544.0 722.6 545.3 725.5 546.9 728.5 548.9 731.4 551.4 734.3 554.5 737.1 558.1 740.0 562.0 742.9 565.7 745.8 569.2 748.6 572.7 751.5 576.2 754.3 580.0 757.1 584.3 760.0 588.9 762.9 593.4 765.7 597.1 768.4 599.9 771.0 602.2 773.8 604.1 777.1 605.7 781.1 607.2 785.7 608.5 790.3 609.4 794.3 610.0 797.7 610.2 800.7 609.9 803.4 609.4 805.7 608.6 807.6 607.6 809.1 606.4 810.3 604.8 811.4 602.9 812.3 600.3 812.9 597.1 813.5 594.0 814.3 591.4 815.3 589.6 816.4 588.2 817.5 587.0 818.6 585.7M820.0 574.3 822.0 572.0 823.9 569.7 826.0 567.5 828.6 565.7 831.9 564.4 835.8 563.5 839.6 562.6 842.9 561.4 845.8 559.8 848.4 557.9 850.4 556.0 851.4 554.3 851.2 552.8 850.1 551.4 848.3 550.0 845.7 548.6 842.0 547.4 837.1 546.3 832.3 544.9 828.6 542.9 826.4 539.7 825.0 535.6 824.1 531.6 822.9 528.6 821.1 527.2 818.9 526.8 817.3 526.6 817.1 525.7 818.8 523.9 821.8 521.8 825.3 519.4 828.6 517.1 831.8 515.0 835.2 512.9 838.2 510.7 840.0 508.6 840.3 506.5 839.4 504.3 838.2 502.2 837.1 500.0M515.0 549.0 515.9 548.5 517.2 548.1 518.6 547.9 520.0 548.0 521.5 548.5 523.1 549.2 524.5 550.2 525.0 551.0 524.5 551.9 523.1 552.8 521.5 553.6 520.0 554.0 518.6 553.9 517.2 553.4 515.9 552.7 515.0 552.0 514.5 551.3 514.4 550.4 514.5 549.6 515.0 549.0M620.0 670.0 614.9 669.4 609.8 668.7 604.8 668.1 600.0 667.5 595.4 667.0 591.1 666.7 586.8 666.3 582.5 666.0 577.9 665.8 573.3 665.7 568.8 665.5 565.0 665.0 561.9 664.0 559.4 662.6 557.1 661.2 555.0 660.0 552.9 659.0 550.9 658.0 549.1 657.4 547.5 657.5 546.2 658.7 545.2 660.8 544.0 663.1 542.5 665.0 540.5 666.4 538.3 667.7 535.6 668.8 532.5 670.0 528.6 671.2 524.1 672.5 519.4 673.8 515.0 675.0 511.0 675.9 507.2 676.7 503.6 677.8 500.0 680.0 496.5 683.5 493.0 688.1 489.8 693.1 487.0 698.0 484.8 702.9 483.1 707.9 481.6 713.0 480.0 718.0M652.5 675.0 653.9 678.9 655.5 682.8 656.8 686.6 657.5 690.0 657.5 692.6 656.9 694.7 656.0 696.9 655.0 700.0 653.9 704.3 652.7 709.4 651.3 714.8 650.0 720.0M640.0 594.0 642.3 593.4 645.3 593.1 648.7 592.9 652.0 593.0 655.6 593.4 659.6 594.1 663.0 595.0 665.0 596.0 665.2 597.2 664.2 598.6 662.4 600.0 660.0 601.0 656.8 601.6 652.6 602.1 648.4 602.2 645.0 602.0 642.5 601.4 640.4 600.3 638.9 599.1 638.0 598.0 637.6 596.9 637.8 595.8 638.6 594.8 640.0 594.0M740.0 625.0 738.1 625.9 736.2 626.6 734.4 627.7 732.5 630.0 730.6 634.1 728.6 639.5 726.7 645.1 725.0 650.0 723.3 654.5 721.5 659.0 720.2 662.2 720.0 662.9 721.3 660.1 723.6 654.8 726.3 648.5 728.6 642.9 730.2 637.8 731.5 632.5 732.7 628.1 734.3 625.7 736.2 625.9 738.4 628.0 740.7 631.1 742.9 634.3 744.8 637.9 746.6 642.2 748.7 646.1 751.4 648.6 755.0 649.1 759.3 648.2 763.9 646.8 768.6 645.7 773.8 644.8 779.5 643.8 784.7 643.0 788.6 642.9 790.2 643.9 790.4 645.6 790.3 647.4 791.4 648.6 794.3 648.9 798.2 648.6 802.3 648.3 805.7 648.6 808.5 649.6 811.1 650.9 813.1 652.5 814.3 654.3 814.4 656.4 813.7 659.0 812.6 661.3 811.4 662.9 811.0 663.4 810.9 663.3 809.6 662.9 805.7 662.9 797.5 663.4 786.2 664.1 774.7 664.9 765.7 665.7 760.1 666.6 756.4 667.7 753.8 668.5 751.4 668.6 749.6 667.6 748.5 665.8 747.5 663.9 745.7 662.9 742.7 663.1 738.9 664.1 735.0 665.2 731.4 665.7 728.3 665.4 725.5 664.7 722.8 663.7 720.0 662.9M791.4 617.1 793.1 615.9 796.3 615.0 799.8 614.5 802.9 614.3 805.6 614.3 808.2 614.6 810.3 615.5 811.4 617.1 811.0 620.3 809.6 624.8 807.7 629.0 805.7 631.4 803.7 631.4 801.4 630.0 799.1 627.8 797.1 625.7 795.1 623.6 793.0 621.2 791.5 618.9 791.4 617.1M781.4 630.0 783.5 628.8 786.6 627.2 789.6 626.0 791.4 625.7 791.7 626.9 791.1 629.0 789.9 631.3 788.6 632.9 786.9 633.5 784.8 633.5 782.8 633.3 781.4 632.9 780.7 632.4 780.3 631.7 780.5 630.9 781.4 630.0M922.9 517.1 924.4 515.8 926.8 514.8 929.4 514.3 931.4 514.3 932.8 515.1 933.9 516.6 934.5 518.4 934.3 520.0 932.8 521.8 930.4 523.7 927.7 525.3 925.7 525.7 924.3 524.4 923.2 521.9 922.7 519.2 922.9 517.1M948.6 548.6 950.3 546.9 952.8 545.4 955.3 544.7 957.0 545.7 957.8 549.8 958.0 556.1 957.8 562.2 957.0 565.7 955.3 565.6 952.8 563.2 950.3 559.9 948.6 557.1 947.8 554.8 947.5 552.5 947.8 550.3 948.6 548.6M745.7 720.0 746.4 713.7 747.0 706.9 747.7 701.0 748.6 697.1 749.9 695.6 751.5 695.9 753.0 697.5 754.3 700.0 755.2 703.8 755.9 708.9 756.5 714.6 757.1 720.0M860.0 720.0 859.9 716.9 859.6 713.6 859.6 710.6 860.0 708.6 861.1 707.5 862.8 707.2 864.4 707.5 865.7 708.6 866.4 710.6 866.7 713.6 866.9 716.9 867.1 720.0" fill="none" stroke="#fff" stroke-width="2" stroke-linejoin="round" stroke-linecap="round"/>
<g font-family="Liberation Sans, Arial, sans-serif" font-size="14.2" fill="#000"><rect x="158.5" y="93.0" width="33" height="14" fill="#fff"/><text x="175.0" y="105.2" text-anchor="middle" textLength="30" lengthAdjust="spacingAndGlyphs">1025</text><rect x="45.5" y="140.0" width="33" height="14" fill="#fff"/><text x="62.0" y="152.2" text-anchor="middle" textLength="30" lengthAdjust="spacingAndGlyphs">1015</text><rect x="180.5" y="153.0" width="33" height="14" fill="#fff"/><text x="197.0" y="165.2" text-anchor="middle" textLength="30" lengthAdjust="spacingAndGlyphs">1020</text><rect x="106.5" y="261.0" width="33" height="14" fill="#fff"/><text x="123.0" y="273.2" text-anchor="middle" textLength="30" lengthAdjust="spacingAndGlyphs">1010</text><rect x="122.5" y="291.0" width="33" height="14" fill="#fff"/><text x="139.0" y="303.2" text-anchor="middle" textLength="30" lengthAdjust="spacingAndGlyphs">1015</text><rect x="107.5" y="319.0" width="33" height="14" fill="#fff"/><text x="124.0" y="331.2" text-anchor="middle" textLength="30" lengthAdjust="spacingAndGlyphs">1020</text><rect x="320.5" y="127.0" width="33" height="14" fill="#fff"/><text x="337.0" y="139.2" text-anchor="middle" textLength="30" lengthAdjust="spacingAndGlyphs">1010</text><rect x="388.5" y="63.0" width="33" height="14" fill="#fff"/><text x="405.0" y="75.2" text-anchor="middle" textLength="30" lengthAdjust="spacingAndGlyphs">1015</text><rect x="413.5" y="57.0" width="33" height="14" fill="#fff"/><text x="430.0" y="69.2" text-anchor="middle" textLength="30" lengthAdjust="spacingAndGlyphs">1010</text><rect x="374.5" y="185.0" width="33" height="14" fill="#fff"/><text x="391.0" y="197.2" text-anchor="middle" textLength="30" lengthAdjust="spacingAndGlyphs">1015</text><rect x="287.5" y="206.0" width="33" height="14" fill="#fff"/><text x="304.0" y="218.2" text-anchor="middle" textLength="30" lengthAdjust="spacingAndGlyphs">1005</text><rect x="327.5" y="234.0" width="33" height="14" fill="#fff"/><text x="344.0" y="246.2" text-anchor="middle" textLength="30" lengthAdjust="spacingAndGlyphs">1000</text><rect x="328.0" y="338.0" width="26" height="14" fill="#fff"/><text x="341.0" y="350.2" text-anchor="middle" textLength="23" lengthAdjust="spacingAndGlyphs">990</text><rect x="330.0" y="350.0" width="26" height="14" fill="#fff"/><text x="343.0" y="362.2" text-anchor="middle" textLength="23" lengthAdjust="spacingAndGlyphs">995</text><rect x="410.5" y="363.0" width="33" height="14" fill="#fff"/><text x="427.0" y="375.2" text-anchor="middle" textLength="30" lengthAdjust="spacingAndGlyphs">1005</text><rect x="316.0" y="424.0" width="26" height="14" fill="#fff"/><text x="329.0" y="436.2" text-anchor="middle" textLength="23" lengthAdjust="spacingAndGlyphs">552</text><rect x="359.5" y="473.0" width="33" height="14" fill="#fff"/><text x="376.0" y="485.2" text-anchor="middle" textLength="30" lengthAdjust="spacingAndGlyphs">1010</text><rect x="333.5" y="521.0" width="33" height="14" fill="#fff"/><text x="350.0" y="533.2" text-anchor="middle" textLength="30" lengthAdjust="spacingAndGlyphs">1015</text><rect x="463.5" y="196.0" width="33" height="14" fill="#fff"/><text x="480.0" y="208.2" text-anchor="middle" textLength="30" lengthAdjust="spacingAndGlyphs">1010</text><rect x="570.5" y="88.0" width="33" height="14" fill="#fff"/><text x="587.0" y="100.2" text-anchor="middle" textLength="30" lengthAdjust="spacingAndGlyphs">1000</text><rect x="577.5" y="105.0" width="33" height="14" fill="#fff"/><text x="594.0" y="117.2" text-anchor="middle" textLength="30" lengthAdjust="spacingAndGlyphs">1005</text><rect x="676.0" y="87.0" width="26" height="14" fill="#fff"/><text x="689.0" y="99.2" text-anchor="middle" textLength="23" lengthAdjust="spacingAndGlyphs">552</text><rect x="583.5" y="155.0" width="33" height="14" fill="#fff"/><text x="600.0" y="167.2" text-anchor="middle" textLength="30" lengthAdjust="spacingAndGlyphs">1020</text><rect x="567.5" y="184.0" width="33" height="14" fill="#fff"/><text x="584.0" y="196.2" text-anchor="middle" textLength="30" lengthAdjust="spacingAndGlyphs">1025</text><rect x="566.5" y="204.0" width="33" height="14" fill="#fff"/><text x="583.0" y="216.2" text-anchor="middle" textLength="30" lengthAdjust="spacingAndGlyphs">1030</text><rect x="564.5" y="281.0" width="33" height="14" fill="#fff"/><text x="581.0" y="293.2" text-anchor="middle" textLength="30" lengthAdjust="spacingAndGlyphs">1035</text><rect x="195.5" y="646.0" width="33" height="14" fill="#fff"/><text x="212.0" y="658.2" text-anchor="middle" textLength="30" lengthAdjust="spacingAndGlyphs">1020</text><rect x="284.5" y="605.0" width="33" height="14" fill="#fff"/><text x="301.0" y="617.2" text-anchor="middle" textLength="30" lengthAdjust="spacingAndGlyphs">1020</text><rect x="281.5" y="12.0" width="33" height="14" fill="#fff"/><text x="298.0" y="24.2" text-anchor="middle" textLength="30" lengthAdjust="spacingAndGlyphs">1015</text><rect x="716.5" y="374.0" width="33" height="14" fill="#fff"/><text x="733.0" y="386.2" text-anchor="middle" textLength="30" lengthAdjust="spacingAndGlyphs">1030</text><rect x="780.5" y="404.0" width="33" height="14" fill="#fff"/><text x="797.0" y="416.2" text-anchor="middle" textLength="30" lengthAdjust="spacingAndGlyphs">1025</text><rect x="607.5" y="399.0" width="33" height="14" fill="#fff"/><text x="624.0" y="411.2" text-anchor="middle" textLength="30" lengthAdjust="spacingAndGlyphs">1020</text><rect x="563.5" y="465.0" width="33" height="14" fill="#fff"/><text x="580.0" y="477.2" text-anchor="middle" textLength="30" lengthAdjust="spacingAndGlyphs">1015</text><rect x="639.5" y="474.0" width="33" height="14" fill="#fff"/><text x="656.0" y="486.2" text-anchor="middle" textLength="30" lengthAdjust="spacingAndGlyphs">1015</text><rect x="826.0" y="325.0" width="26" height="14" fill="#fff"/><text x="839.0" y="337.2" text-anchor="middle" textLength="23" lengthAdjust="spacingAndGlyphs">552</text><rect x="852.5" y="275.0" width="33" height="14" fill="#fff"/><text x="869.0" y="287.2" text-anchor="middle" textLength="30" lengthAdjust="spacingAndGlyphs">1015</text><rect x="883.5" y="201.0" width="33" height="14" fill="#fff"/><text x="900.0" y="213.2" text-anchor="middle" textLength="30" lengthAdjust="spacingAndGlyphs">1010</text><rect x="910.5" y="313.0" width="33" height="14" fill="#fff"/><text x="927.0" y="325.2" text-anchor="middle" textLength="30" lengthAdjust="spacingAndGlyphs">1010</text><rect x="849.5" y="383.0" width="33" height="14" fill="#fff"/><text x="866.0" y="395.2" text-anchor="middle" textLength="30" lengthAdjust="spacingAndGlyphs">1020</text><rect x="857.5" y="480.0" width="33" height="14" fill="#fff"/><text x="874.0" y="492.2" text-anchor="middle" textLength="30" lengthAdjust="spacingAndGlyphs">1010</text><rect x="593.5" y="556.0" width="33" height="14" fill="#fff"/><text x="610.0" y="568.2" text-anchor="middle" textLength="30" lengthAdjust="spacingAndGlyphs">1015</text><rect x="619.5" y="665.0" width="33" height="14" fill="#fff"/><text x="636.0" y="677.2" text-anchor="middle" textLength="30" lengthAdjust="spacingAndGlyphs">1010</text><rect x="801.5" y="574.0" width="33" height="14" fill="#fff"/><text x="818.0" y="586.2" text-anchor="middle" textLength="30" lengthAdjust="spacingAndGlyphs">1015</text><rect x="772.5" y="650.0" width="33" height="14" fill="#fff"/><text x="789.0" y="662.2" text-anchor="middle" textLength="30" lengthAdjust="spacingAndGlyphs">1015</text></g>

</g>
<rect x="0.5" y="17.5" width="957" height="703" fill="none" stroke="#000" stroke-width="1"/>
<text class="ft" x="1.5" y="736.6" textLength="276.5" lengthAdjust="spacingAndGlyphs">Data: ECMWF OPERATIONAL 0.500°</text>
<text class="ft" x="1.5" y="751.7" textLength="143.5" lengthAdjust="spacingAndGlyphs">(C) Wetterzentrale</text>
<text class="ft" x="1.5" y="768.4" textLength="172.5" lengthAdjust="spacingAndGlyphs">www.wetterzentrale.de</text>
<path d="M257.5 750.5 L278.5 742.5 L278.5 758.5 Z" fill="#300030" stroke="#000" stroke-width="1"/>
<path d="M933.5 742.5 L957 750.5 L933.5 758.5 Z" fill="#c80064"/>
<rect x="278" y="742" width="22" height="17" fill="#640064"/>
<rect x="300" y="742" width="22" height="17" fill="#960096"/>
<rect x="322" y="742" width="22" height="17" fill="#c800c8"/>
<rect x="344" y="742" width="21" height="17" fill="#ff00ff"/>
<rect x="365" y="742" width="22" height="17" fill="#d200ff"/>
<rect x="387" y="742" width="22" height="17" fill="#a000ff"/>
<rect x="409" y="742" width="22" height="17" fill="#7800f0"/>
<rect x="431" y="742" width="22" height="17" fill="#3c00ff"/>
<rect x="453" y="742" width="22" height="17" fill="#0028ff"/>
<rect x="475" y="742" width="22" height="17" fill="#0064ff"/>
<rect x="497" y="742" width="21" height="17" fill="#0096ff"/>
<rect x="518" y="742" width="22" height="17" fill="#00c8ff"/>
<rect x="540" y="742" width="22" height="17" fill="#00e6f0"/>
<rect x="562" y="742" width="22" height="17" fill="#00dca0"/>
<rect x="584" y="742" width="22" height="17" fill="#00dc82"/>
<rect x="606" y="742" width="22" height="17" fill="#00dc64"/>
<rect x="628" y="742" width="22" height="17" fill="#00e646"/>
<rect x="650" y="742" width="21" height="17" fill="#00fa00"/>
<rect x="671" y="742" width="22" height="17" fill="#ffff00"/>
<rect x="693" y="742" width="22" height="17" fill="#ffdc00"/>
<rect x="715" y="742" width="22" height="17" fill="#ffc800"/>
<rect x="737" y="742" width="22" height="17" fill="#ffaf00"/>
<rect x="759" y="742" width="22" height="17" fill="#ff9600"/>
<rect x="781" y="742" width="22" height="17" fill="#e68000"/>
<rect x="803" y="742" width="21" height="17" fill="#e06400"/>
<rect x="824" y="742" width="22" height="17" fill="#e05028"/>
<rect x="846" y="742" width="22" height="17" fill="#cc3322"/>
<rect x="868" y="742" width="22" height="17" fill="#b41e1e"/>
<rect x="890" y="742" width="22" height="17" fill="#a00020"/>
<rect x="912" y="742" width="22" height="17" fill="#b4003c"/>
<rect x="278" y="742" width="1" height="17" fill="#000"/>
<rect x="300" y="742" width="1" height="17" fill="#000"/>
<rect x="322" y="742" width="1" height="17" fill="#000"/>
<rect x="344" y="742" width="1" height="17" fill="#000"/>
<rect x="365" y="742" width="1" height="17" fill="#000"/>
<rect x="387" y="742" width="1" height="17" fill="#000"/>
<rect x="409" y="742" width="1" height="17" fill="#000"/>
<rect x="431" y="742" width="1" height="17" fill="#000"/>
<rect x="453" y="742" width="1" height="17" fill="#000"/>
<rect x="475" y="742" width="1" height="17" fill="#000"/>
<rect x="497" y="742" width="1" height="17" fill="#000"/>
<rect x="518" y="742" width="1" height="17" fill="#000"/>
<rect x="540" y="742" width="1" height="17" fill="#000"/>
<rect x="562" y="742" width="1" height="17" fill="#000"/>
<rect x="584" y="742" width="1" height="17" fill="#000"/>
<rect x="606" y="742" width="1" height="17" fill="#000"/>
<rect x="628" y="742" width="1" height="17" fill="#000"/>
<rect x="650" y="742" width="1" height="17" fill="#000"/>
<rect x="671" y="742" width="1" height="17" fill="#000"/>
<rect x="693" y="742" width="1" height="17" fill="#000"/>
<rect x="715" y="742" width="1" height="17" fill="#000"/>
<rect x="737" y="742" width="1" height="17" fill="#000"/>
<rect x="759" y="742" width="1" height="17" fill="#000"/>
<rect x="781" y="742" width="1" height="17" fill="#000"/>
<rect x="803" y="742" width="1" height="17" fill="#000"/>
<rect x="824" y="742" width="1" height="17" fill="#000"/>
<rect x="846" y="742" width="1" height="17" fill="#000"/>
<rect x="868" y="742" width="1" height="17" fill="#000"/>
<rect x="890" y="742" width="1" height="17" fill="#000"/>
<rect x="912" y="742" width="1" height="17" fill="#000"/>
<rect x="934" y="742" width="1" height="17" fill="#000"/>
<rect x="278" y="742" width="656" height="1" fill="#000"/>
<rect x="278" y="758" width="656" height="1" fill="#000"/>
<g font-family="Liberation Sans, DejaVu Sans, sans-serif" font-size="9.6" letter-spacing="0.4" fill="#000"><text x="279.0" y="768.5" text-anchor="middle">476</text><text x="300.9" y="768.5" text-anchor="middle">480</text><text x="322.7" y="768.5" text-anchor="middle">484</text><text x="344.6" y="768.5" text-anchor="middle">488</text><text x="366.4" y="768.5" text-anchor="middle">492</text><text x="388.3" y="768.5" text-anchor="middle">496</text><text x="410.2" y="768.5" text-anchor="middle">500</text><text x="432.0" y="768.5" text-anchor="middle">504</text><text x="453.9" y="768.5" text-anchor="middle">508</text><text x="475.7" y="768.5" text-anchor="middle">512</text><text x="497.6" y="768.5" text-anchor="middle">516</text><text x="519.5" y="768.5" text-anchor="middle">520</text><text x="541.3" y="768.5" text-anchor="middle">524</text><text x="563.2" y="768.5" text-anchor="middle">528</text><text x="585.0" y="768.5" text-anchor="middle">532</text><text x="606.9" y="768.5" text-anchor="middle">536</text><text x="628.8" y="768.5" text-anchor="middle">540</text><text x="650.6" y="768.5" text-anchor="middle">548</text><text x="672.5" y="768.5" text-anchor="middle">552</text><text x="694.3" y="768.5" text-anchor="middle">556</text><text x="716.2" y="768.5" text-anchor="middle">560</text><text x="738.1" y="768.5" text-anchor="middle">564</text><text x="759.9" y="768.5" text-anchor="middle">568</text><text x="781.8" y="768.5" text-anchor="middle">572</text><text x="803.6" y="768.5" text-anchor="middle">576</text><text x="825.5" y="768.5" text-anchor="middle">580</text><text x="847.4" y="768.5" text-anchor="middle">584</text><text x="869.2" y="768.5" text-anchor="middle">588</text><text x="891.1" y="768.5" text-anchor="middle">592</text><text x="912.9" y="768.5" text-anchor="middle">596</text><text x="934.8" y="768.5" text-anchor="middle">600</text></g>
</svg>
</body></html>
